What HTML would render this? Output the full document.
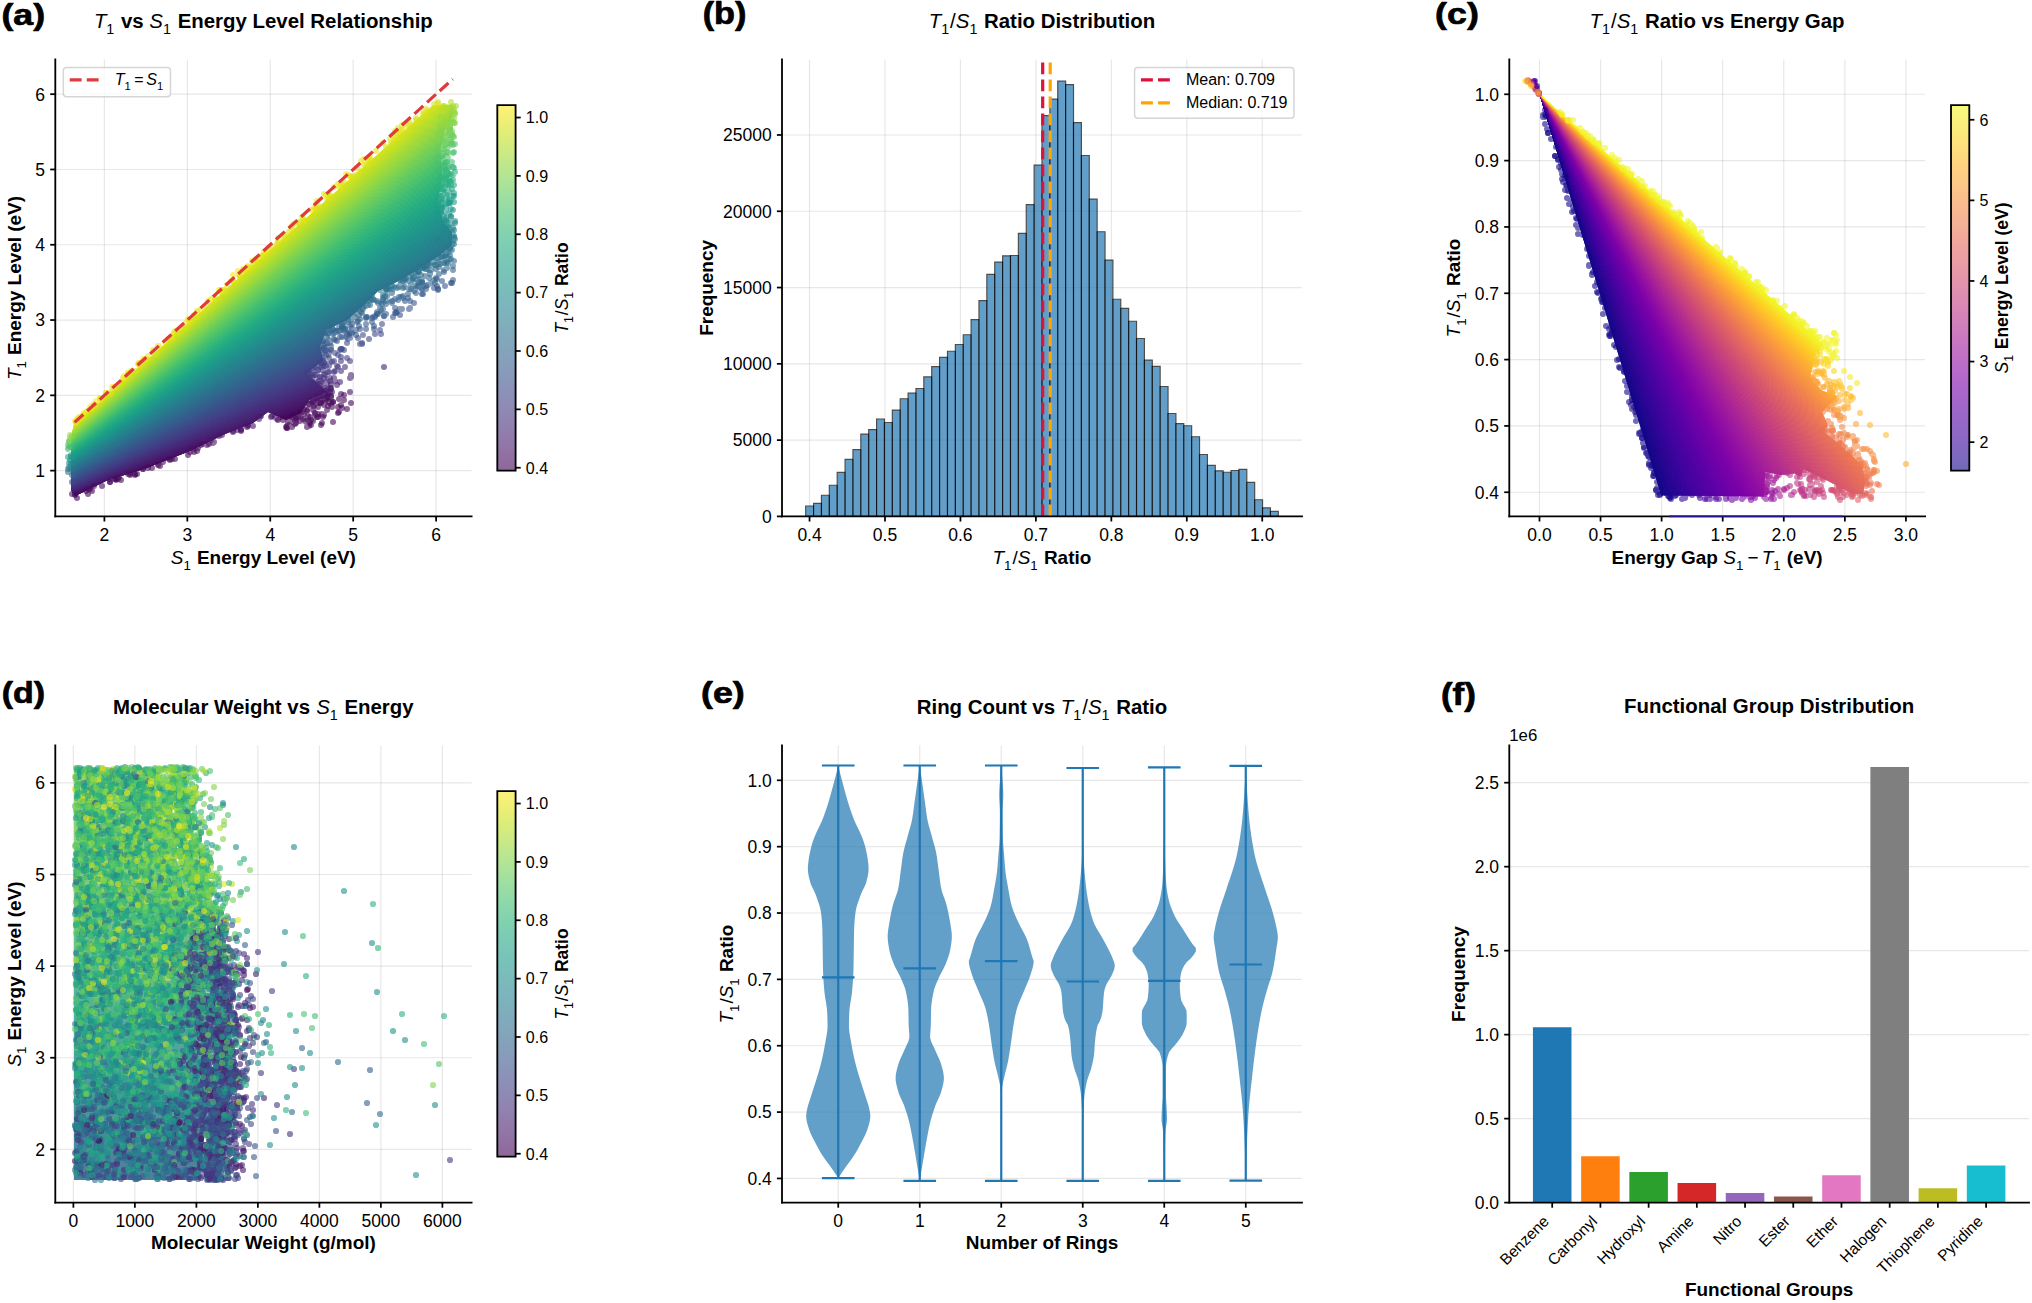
<!DOCTYPE html><html><head><meta charset="utf-8"><title>T1/S1 energy level analysis</title><style>html,body{margin:0;padding:0;background:#fff;overflow:hidden}svg{display:block}</style></head><body> <svg width="2032" height="1303" viewBox="0 0 1393.371429 893.485714" version="1.1"><defs><style type="text/css">*{stroke-linejoin: round}</style></defs><g id="figure_1"><g id="patch_1"><path d="M 0 893.49 L 1393.37 893.49 L 1393.37 0 L 0 0 z " style="fill: #ffffff"/></g><g id="axes_1"><g id="patch_2"><path d="M 37.92 354.1 L 323.38 354.1 L 323.38 40.73 L 37.92 40.73 z " style="fill: #ffffff"/></g><g id="matplotlib.axis_1"><g id="xtick_1"><g id="line2d_1"><path d="M 71.58 354.1 L 71.58 40.73 " clip-path="url(#pece15efcf1)" style="fill: none; stroke: #b0b0b0; stroke-opacity: 0.3; stroke-width: 0.8; stroke-linecap: square"/></g><g id="line2d_2"><defs><path id="me52e4beeaa" d="M 0 0 L 0 3.5 " style="stroke: #000000; stroke-width: 1.2"/></defs><g><use href="#me52e4beeaa" x="71.584146" y="354.102857" style="stroke: #000000; stroke-width: 1.2"/></g></g><g id="text_1"><text style="font-size: 12px; font-family: 'Liberation Sans', sans-serif; text-anchor: middle" x="71.584146" y="370.849107" transform="rotate(-0 71.584146 370.849107)">2</text></g></g><g id="xtick_2"><g id="line2d_3"><path d="M 128.45 354.1 L 128.45 40.73 " clip-path="url(#pece15efcf1)" style="fill: none; stroke: #b0b0b0; stroke-opacity: 0.3; stroke-width: 0.8; stroke-linecap: square"/></g><g id="line2d_4"><g><use href="#me52e4beeaa" x="128.449257" y="354.102857" style="stroke: #000000; stroke-width: 1.2"/></g></g><g id="text_2"><text style="font-size: 12px; font-family: 'Liberation Sans', sans-serif; text-anchor: middle" x="128.449257" y="370.849107" transform="rotate(-0 128.449257 370.849107)">3</text></g></g><g id="xtick_3"><g id="line2d_5"><path d="M 185.31 354.1 L 185.31 40.73 " clip-path="url(#pece15efcf1)" style="fill: none; stroke: #b0b0b0; stroke-opacity: 0.3; stroke-width: 0.8; stroke-linecap: square"/></g><g id="line2d_6"><g><use href="#me52e4beeaa" x="185.314368" y="354.102857" style="stroke: #000000; stroke-width: 1.2"/></g></g><g id="text_3"><text style="font-size: 12px; font-family: 'Liberation Sans', sans-serif; text-anchor: middle" x="185.314368" y="370.849107" transform="rotate(-0 185.314368 370.849107)">4</text></g></g><g id="xtick_4"><g id="line2d_7"><path d="M 242.18 354.1 L 242.18 40.73 " clip-path="url(#pece15efcf1)" style="fill: none; stroke: #b0b0b0; stroke-opacity: 0.3; stroke-width: 0.8; stroke-linecap: square"/></g><g id="line2d_8"><g><use href="#me52e4beeaa" x="242.179479" y="354.102857" style="stroke: #000000; stroke-width: 1.2"/></g></g><g id="text_4"><text style="font-size: 12px; font-family: 'Liberation Sans', sans-serif; text-anchor: middle" x="242.179479" y="370.849107" transform="rotate(-0 242.179479 370.849107)">5</text></g></g><g id="xtick_5"><g id="line2d_9"><path d="M 299.04 354.1 L 299.04 40.73 " clip-path="url(#pece15efcf1)" style="fill: none; stroke: #b0b0b0; stroke-opacity: 0.3; stroke-width: 0.8; stroke-linecap: square"/></g><g id="line2d_10"><g><use href="#me52e4beeaa" x="299.04459" y="354.102857" style="stroke: #000000; stroke-width: 1.2"/></g></g><g id="text_5"><text style="font-size: 12px; font-family: 'Liberation Sans', sans-serif; text-anchor: middle" x="299.04459" y="370.849107" transform="rotate(-0 299.04459 370.849107)">6</text></g></g><g id="text_6"><g transform="translate(117.081429 387.239107)"><text xml:space="preserve"><tspan x="0.00" y="-0.58" style="font-style: italic; font-size: 13px; font-family: 'Liberation Sans', sans-serif">S</tspan><tspan x="8.67" y="3.30" style="font-size: 9.1px; font-family: 'Liberation Sans', sans-serif">1</tspan><tspan x="14.38" y="-0.58" style="font-weight: 700; font-size: 13px; font-family: 'Liberation Sans', sans-serif"> Energy Level (eV)</tspan></text></g></g></g><g id="matplotlib.axis_2"><g id="ytick_1"><g id="line2d_11"><path d="M 37.92 322.71 L 323.38 322.71 " clip-path="url(#pece15efcf1)" style="fill: none; stroke: #b0b0b0; stroke-opacity: 0.3; stroke-width: 0.8; stroke-linecap: square"/></g><g id="line2d_12"><defs><path id="m4d9286fa7c" d="M 0 0 L -3.5 0 " style="stroke: #000000; stroke-width: 1.2"/></defs><g><use href="#m4d9286fa7c" x="37.92" y="322.714088" style="stroke: #000000; stroke-width: 1.2"/></g></g><g id="text_7"><text style="font-size: 12px; font-family: 'Liberation Sans', sans-serif; text-anchor: end" x="30.92" y="327.062213" transform="rotate(-0 30.92 327.062213)">1</text></g></g><g id="ytick_2"><g id="line2d_13"><path d="M 37.92 271.09 L 323.38 271.09 " clip-path="url(#pece15efcf1)" style="fill: none; stroke: #b0b0b0; stroke-opacity: 0.3; stroke-width: 0.8; stroke-linecap: square"/></g><g id="line2d_14"><g><use href="#m4d9286fa7c" x="37.92" y="271.087823" style="stroke: #000000; stroke-width: 1.2"/></g></g><g id="text_8"><text style="font-size: 12px; font-family: 'Liberation Sans', sans-serif; text-anchor: end" x="30.92" y="275.435948" transform="rotate(-0 30.92 275.435948)">2</text></g></g><g id="ytick_3"><g id="line2d_15"><path d="M 37.92 219.46 L 323.38 219.46 " clip-path="url(#pece15efcf1)" style="fill: none; stroke: #b0b0b0; stroke-opacity: 0.3; stroke-width: 0.8; stroke-linecap: square"/></g><g id="line2d_16"><g><use href="#m4d9286fa7c" x="37.92" y="219.461558" style="stroke: #000000; stroke-width: 1.2"/></g></g><g id="text_9"><text style="font-size: 12px; font-family: 'Liberation Sans', sans-serif; text-anchor: end" x="30.92" y="223.809683" transform="rotate(-0 30.92 223.809683)">3</text></g></g><g id="ytick_4"><g id="line2d_17"><path d="M 37.92 167.84 L 323.38 167.84 " clip-path="url(#pece15efcf1)" style="fill: none; stroke: #b0b0b0; stroke-opacity: 0.3; stroke-width: 0.8; stroke-linecap: square"/></g><g id="line2d_18"><g><use href="#m4d9286fa7c" x="37.92" y="167.835293" style="stroke: #000000; stroke-width: 1.2"/></g></g><g id="text_10"><text style="font-size: 12px; font-family: 'Liberation Sans', sans-serif; text-anchor: end" x="30.92" y="172.183418" transform="rotate(-0 30.92 172.183418)">4</text></g></g><g id="ytick_5"><g id="line2d_19"><path d="M 37.92 116.21 L 323.38 116.21 " clip-path="url(#pece15efcf1)" style="fill: none; stroke: #b0b0b0; stroke-opacity: 0.3; stroke-width: 0.8; stroke-linecap: square"/></g><g id="line2d_20"><g><use href="#m4d9286fa7c" x="37.92" y="116.209028" style="stroke: #000000; stroke-width: 1.2"/></g></g><g id="text_11"><text style="font-size: 12px; font-family: 'Liberation Sans', sans-serif; text-anchor: end" x="30.92" y="120.557153" transform="rotate(-0 30.92 120.557153)">5</text></g></g><g id="ytick_6"><g id="line2d_21"><path d="M 37.92 64.58 L 323.38 64.58 " clip-path="url(#pece15efcf1)" style="fill: none; stroke: #b0b0b0; stroke-opacity: 0.3; stroke-width: 0.8; stroke-linecap: square"/></g><g id="line2d_22"><g><use href="#m4d9286fa7c" x="37.92" y="64.582763" style="stroke: #000000; stroke-width: 1.2"/></g></g><g id="text_12"><text style="font-size: 12px; font-family: 'Liberation Sans', sans-serif; text-anchor: end" x="30.92" y="68.930888" transform="rotate(-0 30.92 68.930888)">6</text></g></g><g id="text_13"><g transform="translate(14.846875 260.597143) rotate(-90)"><text xml:space="preserve"><tspan x="0.00" y="-0.58" style="font-style: italic; font-size: 13px; font-family: 'Liberation Sans', sans-serif">T</tspan><tspan x="7.94" y="3.30" style="font-size: 9.1px; font-family: 'Liberation Sans', sans-serif">1</tspan><tspan x="13.65" y="-0.58" style="font-weight: 700; font-size: 13px; font-family: 'Liberation Sans', sans-serif"> Energy Level (eV)</tspan></text></g></g></g><g id="cloud_a"><g transform="scale(0.68571429)"><clipPath id="xa"><rect x="55.30" y="59.40" width="416.30" height="457.00"/></clipPath><g clip-path="url(#xa)"><clipPath id="ka"><path d="M73.7 425.4L88.7 412.1L103.6 398.7L118.6 385.4L133.5 372.1L148.5 358.8L163.4 345.4L178.4 332.1L193.3 318.8L208.3 305.4L223.2 292.1L238.2 278.8L253.1 265.4L268.1 252.1L283 238.8L298 225.5L312.9 212.1L327.9 198.8L342.8 185.5L357.8 172.1L372.7 158.8L387.7 145.5L402.6 132.2L417.6 118.8L432.5 105.5L452.5 104.6L453 116L445 128L440 150L442 175L438 200L443 222L452 232L452 245L440 255L416 271L393 284L378 291L363 306L347 320L326 330L320 347L323 361L306 373L322 387L326 392L309 400L301 413L286 420L268 412L253 423L225 434L190 451L144 469L108 480L75 496L71 490L71 448L72 434Z"/></clipPath><g clip-path="url(#ka)"><path fill="#440154" stroke="#440154" stroke-width="1" d="M-61.5 545.9L1364.3 79.9L1362.8 75.2Z"/><path fill="#440154" stroke="#440154" stroke-width="1" d="M-61.5 545.9L1362.8 75.2L1361.2 70.6Z"/><path fill="#440154" stroke="#440154" stroke-width="1" d="M-61.5 545.9L1361.2 70.6L1359.7 66Z"/><path fill="#440154" stroke="#440154" stroke-width="1" d="M-61.5 545.9L1359.7 66L1358.1 61.3Z"/><path fill="#440154" stroke="#440154" stroke-width="1" d="M-61.5 545.9L1358.1 61.3L1356.5 56.7Z"/><path fill="#440154" stroke="#440154" stroke-width="1" d="M-61.5 545.9L1356.5 56.7L1354.9 52.1Z"/><path fill="#440154" stroke="#440154" stroke-width="1" d="M-61.5 545.9L1354.9 52.1L1353.3 47.5Z"/><path fill="#440154" stroke="#440154" stroke-width="1" d="M-61.5 545.9L1353.3 47.5L1351.7 43Z"/><path fill="#440154" stroke="#440154" stroke-width="1" d="M-61.5 545.9L1351.7 43L1350.1 38.4Z"/><path fill="#440256" stroke="#440256" stroke-width="1" d="M-61.5 545.9L1350.1 38.4L1348.4 33.9Z"/><path fill="#450457" stroke="#450457" stroke-width="1" d="M-61.5 545.9L1348.4 33.9L1346.8 29.4Z"/><path fill="#46075a" stroke="#46075a" stroke-width="1" d="M-61.5 545.9L1346.8 29.4L1345.1 24.9Z"/><path fill="#460a5d" stroke="#460a5d" stroke-width="1" d="M-61.5 545.9L1345.1 24.9L1343.5 20.4Z"/><path fill="#460b5e" stroke="#460b5e" stroke-width="1" d="M-61.5 545.9L1343.5 20.4L1341.8 15.9Z"/><path fill="#470e61" stroke="#470e61" stroke-width="1" d="M-61.5 545.9L1341.8 15.9L1340.1 11.5Z"/><path fill="#471164" stroke="#471164" stroke-width="1" d="M-61.5 545.9L1340.1 11.5L1338.4 7.1Z"/><path fill="#471365" stroke="#471365" stroke-width="1" d="M-61.5 545.9L1338.4 7.1L1336.7 2.6Z"/><path fill="#481668" stroke="#481668" stroke-width="1" d="M-61.5 545.9L1336.7 2.6L1335 -1.8Z"/><path fill="#481769" stroke="#481769" stroke-width="1" d="M-61.5 545.9L1335 -1.8L1333.2 -6.2Z"/><path fill="#481a6c" stroke="#481a6c" stroke-width="1" d="M-61.5 545.9L1333.2 -6.2L1331.5 -10.5Z"/><path fill="#481c6e" stroke="#481c6e" stroke-width="1" d="M-61.5 545.9L1331.5 -10.5L1329.8 -14.9Z"/><path fill="#481d6f" stroke="#481d6f" stroke-width="1" d="M-61.5 545.9L1329.8 -14.9L1328 -19.2Z"/><path fill="#482071" stroke="#482071" stroke-width="1" d="M-61.5 545.9L1328 -19.2L1326.2 -23.5Z"/><path fill="#482374" stroke="#482374" stroke-width="1" d="M-61.5 545.9L1326.2 -23.5L1324.5 -27.8Z"/><path fill="#482475" stroke="#482475" stroke-width="1" d="M-61.5 545.9L1324.5 -27.8L1322.7 -32.1Z"/><path fill="#482677" stroke="#482677" stroke-width="1" d="M-61.5 545.9L1322.7 -32.1L1320.9 -36.4Z"/><path fill="#482979" stroke="#482979" stroke-width="1" d="M-61.5 545.9L1320.9 -36.4L1319.1 -40.7Z"/><path fill="#472a7a" stroke="#472a7a" stroke-width="1" d="M-61.5 545.9L1319.1 -40.7L1317.3 -44.9Z"/><path fill="#472d7b" stroke="#472d7b" stroke-width="1" d="M-61.5 545.9L1317.3 -44.9L1315.5 -49.1Z"/><path fill="#472e7c" stroke="#472e7c" stroke-width="1" d="M-61.5 545.9L1315.5 -49.1L1313.6 -53.3Z"/><path fill="#46307e" stroke="#46307e" stroke-width="1" d="M-61.5 545.9L1313.6 -53.3L1311.8 -57.5Z"/><path fill="#46337f" stroke="#46337f" stroke-width="1" d="M-61.5 545.9L1311.8 -57.5L1310 -61.7Z"/><path fill="#463480" stroke="#463480" stroke-width="1" d="M-61.5 545.9L1310 -61.7L1308.1 -65.8Z"/><path fill="#453781" stroke="#453781" stroke-width="1" d="M-61.5 545.9L1308.1 -65.8L1306.3 -70Z"/><path fill="#443983" stroke="#443983" stroke-width="1" d="M-61.5 545.9L1306.3 -70L1304.4 -74.1Z"/><path fill="#443a83" stroke="#443a83" stroke-width="1" d="M-61.5 545.9L1304.4 -74.1L1302.5 -78.2Z"/><path fill="#433d84" stroke="#433d84" stroke-width="1" d="M-61.5 545.9L1302.5 -78.2L1300.7 -82.3Z"/><path fill="#423f85" stroke="#423f85" stroke-width="1" d="M-61.5 545.9L1300.7 -82.3L1298.8 -86.4Z"/><path fill="#424086" stroke="#424086" stroke-width="1" d="M-61.5 545.9L1298.8 -86.4L1296.9 -90.4Z"/><path fill="#414287" stroke="#414287" stroke-width="1" d="M-61.5 545.9L1296.9 -90.4L1295 -94.5Z"/><path fill="#414487" stroke="#414487" stroke-width="1" d="M-61.5 545.9L1295 -94.5L1293.1 -98.5Z"/><path fill="#404688" stroke="#404688" stroke-width="1" d="M-61.5 545.9L1293.1 -98.5L1291.2 -102.5Z"/><path fill="#3f4889" stroke="#3f4889" stroke-width="1" d="M-61.5 545.9L1291.2 -102.5L1289.2 -106.5Z"/><path fill="#3e4989" stroke="#3e4989" stroke-width="1" d="M-61.5 545.9L1289.2 -106.5L1287.3 -110.4Z"/><path fill="#3e4c8a" stroke="#3e4c8a" stroke-width="1" d="M-61.5 545.9L1287.3 -110.4L1285.4 -114.4Z"/><path fill="#3d4e8a" stroke="#3d4e8a" stroke-width="1" d="M-61.5 545.9L1285.4 -114.4L1283.5 -118.3Z"/><path fill="#3c4f8a" stroke="#3c4f8a" stroke-width="1" d="M-61.5 545.9L1283.5 -118.3L1281.5 -122.2Z"/><path fill="#3b518b" stroke="#3b518b" stroke-width="1" d="M-61.5 545.9L1281.5 -122.2L1279.6 -126.1Z"/><path fill="#3a538b" stroke="#3a538b" stroke-width="1" d="M-61.5 545.9L1279.6 -126.1L1277.6 -130Z"/><path fill="#3a548c" stroke="#3a548c" stroke-width="1" d="M-61.5 545.9L1277.6 -130L1275.7 -133.9Z"/><path fill="#39568c" stroke="#39568c" stroke-width="1" d="M-61.5 545.9L1275.7 -133.9L1273.7 -137.7Z"/><path fill="#38588c" stroke="#38588c" stroke-width="1" d="M-61.5 545.9L1273.7 -137.7L1271.7 -141.6Z"/><path fill="#375a8c" stroke="#375a8c" stroke-width="1" d="M-61.5 545.9L1271.7 -141.6L1269.7 -145.4Z"/><path fill="#365c8d" stroke="#365c8d" stroke-width="1" d="M-61.5 545.9L1269.7 -145.4L1267.8 -149.2Z"/><path fill="#365d8d" stroke="#365d8d" stroke-width="1" d="M-61.5 545.9L1267.8 -149.2L1265.8 -153Z"/><path fill="#355f8d" stroke="#355f8d" stroke-width="1" d="M-61.5 545.9L1265.8 -153L1263.8 -156.7Z"/><path fill="#34618d" stroke="#34618d" stroke-width="1" d="M-61.5 545.9L1263.8 -156.7L1261.8 -160.5Z"/><path fill="#33628d" stroke="#33628d" stroke-width="1" d="M-61.5 545.9L1261.8 -160.5L1259.8 -164.2Z"/><path fill="#32648e" stroke="#32648e" stroke-width="1" d="M-61.5 545.9L1259.8 -164.2L1257.8 -167.9Z"/><path fill="#31668e" stroke="#31668e" stroke-width="1" d="M-61.5 545.9L1257.8 -167.9L1255.8 -171.6Z"/><path fill="#31678e" stroke="#31678e" stroke-width="1" d="M-61.5 545.9L1255.8 -171.6L1253.8 -175.3Z"/><path fill="#30698e" stroke="#30698e" stroke-width="1" d="M-61.5 545.9L1253.8 -175.3L1251.8 -179Z"/><path fill="#306a8e" stroke="#306a8e" stroke-width="1" d="M-61.5 545.9L1251.8 -179L1249.7 -182.6Z"/><path fill="#2f6c8e" stroke="#2f6c8e" stroke-width="1" d="M-61.5 545.9L1249.7 -182.6L1247.7 -186.2Z"/><path fill="#2e6e8e" stroke="#2e6e8e" stroke-width="1" d="M-61.5 545.9L1247.7 -186.2L1245.7 -189.9Z"/><path fill="#2e6f8e" stroke="#2e6f8e" stroke-width="1" d="M-61.5 545.9L1245.7 -189.9L1243.7 -193.5Z"/><path fill="#2d718e" stroke="#2d718e" stroke-width="1" d="M-61.5 545.9L1243.7 -193.5L1241.6 -197Z"/><path fill="#2c728e" stroke="#2c728e" stroke-width="1" d="M-61.5 545.9L1241.6 -197L1239.6 -200.6Z"/><path fill="#2c738e" stroke="#2c738e" stroke-width="1" d="M-61.5 545.9L1239.6 -200.6L1237.5 -204.1Z"/><path fill="#2b758e" stroke="#2b758e" stroke-width="1" d="M-61.5 545.9L1237.5 -204.1L1235.5 -207.7Z"/><path fill="#2a768e" stroke="#2a768e" stroke-width="1" d="M-61.5 545.9L1235.5 -207.7L1233.5 -211.2Z"/><path fill="#2a788e" stroke="#2a788e" stroke-width="1" d="M-61.5 545.9L1233.5 -211.2L1231.4 -214.7Z"/><path fill="#297a8e" stroke="#297a8e" stroke-width="1" d="M-61.5 545.9L1231.4 -214.7L1229.3 -218.2Z"/><path fill="#297b8e" stroke="#297b8e" stroke-width="1" d="M-61.5 545.9L1229.3 -218.2L1227.3 -221.6Z"/><path fill="#287d8e" stroke="#287d8e" stroke-width="1" d="M-61.5 545.9L1227.3 -221.6L1225.2 -225.1Z"/><path fill="#277f8e" stroke="#277f8e" stroke-width="1" d="M-61.5 545.9L1225.2 -225.1L1223.2 -228.5Z"/><path fill="#27808e" stroke="#27808e" stroke-width="1" d="M-61.5 545.9L1223.2 -228.5L1221.1 -231.9Z"/><path fill="#26828e" stroke="#26828e" stroke-width="1" d="M-61.5 545.9L1221.1 -231.9L1219 -235.3Z"/><path fill="#25838e" stroke="#25838e" stroke-width="1" d="M-61.5 545.9L1219 -235.3L1217 -238.7Z"/><path fill="#25848e" stroke="#25848e" stroke-width="1" d="M-61.5 545.9L1217 -238.7L1214.9 -242.1Z"/><path fill="#24868e" stroke="#24868e" stroke-width="1" d="M-61.5 545.9L1214.9 -242.1L1212.8 -245.4Z"/><path fill="#24878e" stroke="#24878e" stroke-width="1" d="M-61.5 545.9L1212.8 -245.4L1210.8 -248.7Z"/><path fill="#23898e" stroke="#23898e" stroke-width="1" d="M-61.5 545.9L1210.8 -248.7L1208.7 -252Z"/><path fill="#228b8d" stroke="#228b8d" stroke-width="1" d="M-61.5 545.9L1208.7 -252L1206.6 -255.3Z"/><path fill="#228c8d" stroke="#228c8d" stroke-width="1" d="M-61.5 545.9L1206.6 -255.3L1204.5 -258.6Z"/><path fill="#218e8d" stroke="#218e8d" stroke-width="1" d="M-61.5 545.9L1204.5 -258.6L1202.4 -261.9Z"/><path fill="#21908d" stroke="#21908d" stroke-width="1" d="M-61.5 545.9L1202.4 -261.9L1200.4 -265.1Z"/><path fill="#21918c" stroke="#21918c" stroke-width="1" d="M-61.5 545.9L1200.4 -265.1L1198.3 -268.4Z"/><path fill="#20928c" stroke="#20928c" stroke-width="1" d="M-61.5 545.9L1198.3 -268.4L1196.2 -271.6Z"/><path fill="#1f948c" stroke="#1f948c" stroke-width="1" d="M-61.5 545.9L1196.2 -271.6L1194.1 -274.8Z"/><path fill="#1f958b" stroke="#1f958b" stroke-width="1" d="M-61.5 545.9L1194.1 -274.8L1192 -278Z"/><path fill="#1f978b" stroke="#1f978b" stroke-width="1" d="M-61.5 545.9L1192 -278L1189.9 -281.2Z"/><path fill="#1f988b" stroke="#1f988b" stroke-width="1" d="M-61.5 545.9L1189.9 -281.2L1187.8 -284.3Z"/><path fill="#1f9a8a" stroke="#1f9a8a" stroke-width="1" d="M-61.5 545.9L1187.8 -284.3L1185.7 -287.5Z"/><path fill="#1e9c89" stroke="#1e9c89" stroke-width="1" d="M-61.5 545.9L1185.7 -287.5L1183.6 -290.6Z"/><path fill="#1e9d89" stroke="#1e9d89" stroke-width="1" d="M-61.5 545.9L1183.6 -290.6L1181.5 -293.7Z"/><path fill="#1f9f88" stroke="#1f9f88" stroke-width="1" d="M-61.5 545.9L1181.5 -293.7L1179.5 -296.8Z"/><path fill="#1fa188" stroke="#1fa188" stroke-width="1" d="M-61.5 545.9L1179.5 -296.8L1177.4 -299.9Z"/><path fill="#1fa187" stroke="#1fa187" stroke-width="1" d="M-61.5 545.9L1177.4 -299.9L1175.3 -302.9Z"/><path fill="#20a386" stroke="#20a386" stroke-width="1" d="M-61.5 545.9L1175.3 -302.9L1173.2 -306Z"/><path fill="#21a585" stroke="#21a585" stroke-width="1" d="M-61.5 545.9L1173.2 -306L1171.1 -309Z"/><path fill="#21a685" stroke="#21a685" stroke-width="1" d="M-61.5 545.9L1171.1 -309L1169 -312Z"/><path fill="#22a884" stroke="#22a884" stroke-width="1" d="M-61.5 545.9L1169 -312L1166.9 -315Z"/><path fill="#23a983" stroke="#23a983" stroke-width="1" d="M-61.5 545.9L1166.9 -315L1164.8 -318Z"/><path fill="#25ab82" stroke="#25ab82" stroke-width="1" d="M-61.5 545.9L1164.8 -318L1162.7 -321Z"/><path fill="#26ad81" stroke="#26ad81" stroke-width="1" d="M-61.5 545.9L1162.7 -321L1160.6 -323.9Z"/><path fill="#27ad81" stroke="#27ad81" stroke-width="1" d="M-61.5 545.9L1160.6 -323.9L1158.5 -326.8Z"/><path fill="#29af7f" stroke="#29af7f" stroke-width="1" d="M-61.5 545.9L1158.5 -326.8L1156.4 -329.8Z"/><path fill="#2cb17e" stroke="#2cb17e" stroke-width="1" d="M-61.5 545.9L1156.4 -329.8L1154.3 -332.7Z"/><path fill="#2db27d" stroke="#2db27d" stroke-width="1" d="M-61.5 545.9L1154.3 -332.7L1152.2 -335.6Z"/><path fill="#2fb47c" stroke="#2fb47c" stroke-width="1" d="M-61.5 545.9L1152.2 -335.6L1150.1 -338.4Z"/><path fill="#32b67a" stroke="#32b67a" stroke-width="1" d="M-61.5 545.9L1150.1 -338.4L1148 -341.3Z"/><path fill="#34b679" stroke="#34b679" stroke-width="1" d="M-61.5 545.9L1148 -341.3L1145.9 -344.2Z"/><path fill="#37b878" stroke="#37b878" stroke-width="1" d="M-61.5 545.9L1145.9 -344.2L1143.8 -347Z"/><path fill="#38b977" stroke="#38b977" stroke-width="1" d="M-61.5 545.9L1143.8 -347L1141.7 -349.8Z"/><path fill="#3bbb75" stroke="#3bbb75" stroke-width="1" d="M-61.5 545.9L1141.7 -349.8L1139.6 -352.6Z"/><path fill="#3fbc73" stroke="#3fbc73" stroke-width="1" d="M-61.5 545.9L1139.6 -352.6L1137.5 -355.4Z"/><path fill="#40bd72" stroke="#40bd72" stroke-width="1" d="M-61.5 545.9L1137.5 -355.4L1135.5 -358.2Z"/><path fill="#44bf70" stroke="#44bf70" stroke-width="1" d="M-61.5 545.9L1135.5 -358.2L1133.4 -360.9Z"/><path fill="#48c16e" stroke="#48c16e" stroke-width="1" d="M-61.5 545.9L1133.4 -360.9L1131.3 -363.7Z"/><path fill="#4ac16d" stroke="#4ac16d" stroke-width="1" d="M-61.5 545.9L1131.3 -363.7L1129.2 -366.4Z"/><path fill="#4ec36b" stroke="#4ec36b" stroke-width="1" d="M-61.5 545.9L1129.2 -366.4L1127.1 -369.1Z"/><path fill="#50c46a" stroke="#50c46a" stroke-width="1" d="M-61.5 545.9L1127.1 -369.1L1125 -371.8Z"/><path fill="#54c568" stroke="#54c568" stroke-width="1" d="M-61.5 545.9L1125 -371.8L1122.9 -374.5Z"/><path fill="#58c765" stroke="#58c765" stroke-width="1" d="M-61.5 545.9L1122.9 -374.5L1120.8 -377.2Z"/><path fill="#5ac864" stroke="#5ac864" stroke-width="1" d="M-61.5 545.9L1120.8 -377.2L1118.8 -379.9Z"/><path fill="#5ec962" stroke="#5ec962" stroke-width="1" d="M-61.5 545.9L1118.8 -379.9L1116.7 -382.5Z"/><path fill="#63cb5f" stroke="#63cb5f" stroke-width="1" d="M-61.5 545.9L1116.7 -382.5L1114.6 -385.1Z"/><path fill="#65cb5e" stroke="#65cb5e" stroke-width="1" d="M-61.5 545.9L1114.6 -385.1L1112.5 -387.8Z"/><path fill="#69cd5b" stroke="#69cd5b" stroke-width="1" d="M-61.5 545.9L1112.5 -387.8L1110.5 -390.4Z"/><path fill="#6ece58" stroke="#6ece58" stroke-width="1" d="M-61.5 545.9L1110.5 -390.4L1108.4 -393Z"/><path fill="#70cf57" stroke="#70cf57" stroke-width="1" d="M-61.5 545.9L1108.4 -393L1106.3 -395.5Z"/><path fill="#75d054" stroke="#75d054" stroke-width="1" d="M-61.5 545.9L1106.3 -395.5L1104.2 -398.1Z"/><path fill="#77d153" stroke="#77d153" stroke-width="1" d="M-61.5 545.9L1104.2 -398.1L1102.2 -400.6Z"/><path fill="#7cd250" stroke="#7cd250" stroke-width="1" d="M-61.5 545.9L1102.2 -400.6L1100.1 -403.2Z"/><path fill="#81d34d" stroke="#81d34d" stroke-width="1" d="M-61.5 545.9L1100.1 -403.2L1098 -405.7Z"/><path fill="#84d44b" stroke="#84d44b" stroke-width="1" d="M-61.5 545.9L1098 -405.7L1096 -408.2Z"/><path fill="#89d548" stroke="#89d548" stroke-width="1" d="M-61.5 545.9L1096 -408.2L1093.9 -410.7Z"/><path fill="#8ed645" stroke="#8ed645" stroke-width="1" d="M-61.5 545.9L1093.9 -410.7L1091.8 -413.2Z"/><path fill="#90d743" stroke="#90d743" stroke-width="1" d="M-61.5 545.9L1091.8 -413.2L1089.8 -415.7Z"/><path fill="#95d840" stroke="#95d840" stroke-width="1" d="M-61.5 545.9L1089.8 -415.7L1087.7 -418.1Z"/><path fill="#9bd93c" stroke="#9bd93c" stroke-width="1" d="M-61.5 545.9L1087.7 -418.1L1085.7 -420.6Z"/><path fill="#9dd93b" stroke="#9dd93b" stroke-width="1" d="M-61.5 545.9L1085.7 -420.6L1083.6 -423Z"/><path fill="#a2da37" stroke="#a2da37" stroke-width="1" d="M-61.5 545.9L1083.6 -423L1081.6 -425.4Z"/><path fill="#a5db36" stroke="#a5db36" stroke-width="1" d="M-61.5 545.9L1081.6 -425.4L1079.5 -427.8Z"/><path fill="#aadc32" stroke="#aadc32" stroke-width="1" d="M-61.5 545.9L1079.5 -427.8L1077.5 -430.2Z"/><path fill="#b0dd2f" stroke="#b0dd2f" stroke-width="1" d="M-61.5 545.9L1077.5 -430.2L1075.4 -432.6Z"/><path fill="#b2dd2d" stroke="#b2dd2d" stroke-width="1" d="M-61.5 545.9L1075.4 -432.6L1073.4 -434.9Z"/><path fill="#b8de29" stroke="#b8de29" stroke-width="1" d="M-61.5 545.9L1073.4 -434.9L1071.4 -437.3Z"/><path fill="#bddf26" stroke="#bddf26" stroke-width="1" d="M-61.5 545.9L1071.4 -437.3L1069.3 -439.6Z"/><path fill="#c0df25" stroke="#c0df25" stroke-width="1" d="M-61.5 545.9L1069.3 -439.6L1067.3 -442Z"/><path fill="#c5e021" stroke="#c5e021" stroke-width="1" d="M-61.5 545.9L1067.3 -442L1065.3 -444.3Z"/><path fill="#cae11f" stroke="#cae11f" stroke-width="1" d="M-61.5 545.9L1065.3 -444.3L1063.2 -446.6Z"/><path fill="#cde11d" stroke="#cde11d" stroke-width="1" d="M-61.5 545.9L1063.2 -446.6L1061.2 -448.9Z"/><path fill="#d2e21b" stroke="#d2e21b" stroke-width="1" d="M-61.5 545.9L1061.2 -448.9L1059.2 -451.1Z"/><path fill="#d5e21a" stroke="#d5e21a" stroke-width="1" d="M-61.5 545.9L1059.2 -451.1L1057.2 -453.4Z"/><path fill="#dae319" stroke="#dae319" stroke-width="1" d="M-61.5 545.9L1057.2 -453.4L1055.2 -455.7Z"/><path fill="#dfe318" stroke="#dfe318" stroke-width="1" d="M-61.5 545.9L1055.2 -455.7L1053.1 -457.9Z"/><path fill="#e2e418" stroke="#e2e418" stroke-width="1" d="M-61.5 545.9L1053.1 -457.9L1051.1 -460.1Z"/><path fill="#e7e419" stroke="#e7e419" stroke-width="1" d="M-61.5 545.9L1051.1 -460.1L1049.1 -462.4Z"/><path fill="#ece51b" stroke="#ece51b" stroke-width="1" d="M-61.5 545.9L1049.1 -462.4L1047.1 -464.6Z"/><path fill="#efe51c" stroke="#efe51c" stroke-width="1" d="M-61.5 545.9L1047.1 -464.6L1045.1 -466.8Z"/><path fill="#f4e61e" stroke="#f4e61e" stroke-width="1" d="M-61.5 545.9L1045.1 -466.8L1043.1 -468.9Z"/><path fill="#f8e621" stroke="#f8e621" stroke-width="1" d="M-61.5 545.9L1043.1 -468.9L1041.1 -471.1Z"/><path fill="#fbe723" stroke="#fbe723" stroke-width="1" d="M-61.5 545.9L1041.1 -471.1L1039.1 -473.3Z"/><path fill="#fde725" stroke="#fde725" stroke-width="1" d="M-61.5 545.9L1039.1 -473.3L1037.1 -475.4Z"/><path fill="#fde725" stroke="#fde725" stroke-width="1" d="M-61.5 545.9L1037.1 -475.4L1035.1 -477.5Z"/><path fill="#fde725" stroke="#fde725" stroke-width="1" d="M-61.5 545.9L1035.1 -477.5L1033.2 -479.7Z"/><path fill="#fde725" stroke="#fde725" stroke-width="1" d="M-61.5 545.9L1033.2 -479.7L1031.2 -481.8Z"/><path fill="#fde725" stroke="#fde725" stroke-width="1" d="M-61.5 545.9L1031.2 -481.8L1029.2 -483.9Z"/><path fill="#fde725" stroke="#fde725" stroke-width="1" d="M-61.5 545.9L1029.2 -483.9L1027.2 -486Z"/><path fill="#fde725" stroke="#fde725" stroke-width="1" d="M-61.5 545.9L1027.2 -486L1025.2 -488Z"/><path fill="#fde725" stroke="#fde725" stroke-width="1" d="M-61.5 545.9L1025.2 -488L1023.3 -490.1Z"/><path fill="#fde725" stroke="#fde725" stroke-width="1" d="M-61.5 545.9L1023.3 -490.1L1021.3 -492.2Z"/><path fill="#fde725" stroke="#fde725" stroke-width="1" d="M-61.5 545.9L1021.3 -492.2L1019.4 -494.2Z"/><path fill="#fde725" stroke="#fde725" stroke-width="1" d="M-61.5 545.9L1019.4 -494.2L1017.4 -496.2Z"/><path fill="#fde725" stroke="#fde725" stroke-width="1" d="M-61.5 545.9L1017.4 -496.2L1015.4 -498.3Z"/></g><g style="fill:none;stroke-width:6;stroke-linecap:round;stroke-opacity:0.6"><path stroke="#450559" d="M307 410h0M304 414h0M296 416h0M300 421h0M287 428h0M296 418h0M301 419h0M294 416h0M309 423h0M305 421h0M333 402h0M311 420h0M307 427h0M317 417h0M308 424h0M315 413h0M306 422h0M318 407h0M339 399h0M307 421h0M309 426h0M328 406h0M333 422h0M347 409h0M322 414h0M322 423h0M324 415h0M341 405h0M344 400h0M299 417h0M86 491h0M77 498h0M135 475h0M194 452h0M288 422h0M300 414h0M292 417h0M148 468h0M290 419h0M175 459h0"/><path stroke="#470e61" d="M322 400h0M322 399h0M320 403h0M313 402h0M327 397h0M317 400h0M313 402h0M318 399h0M319 401h0M331 397h0M341 394h0M89 489h0M110 482h0M90 489h0M241 431h0M115 479h0M75 494h0M163 462h0M193 449h0M315 401h0M172 459h0M201 445h0M190 452h0M143 469h0"/><path stroke="#48186a" d="M328 394h0M330 392h0M322 396h0M272 416h0M219 436h0M237 430h0M110 479h0M248 425h0"/><path stroke="#482071" d="M325 388h0M337 385h0M331 384h0M327 389h0M261 416h0M323 389h0M384 367h0"/><path stroke="#482878" d="M321 383h0M335 381h0M334 378h0"/><path stroke="#46307e" d="M324 379h0M324 378h0M335 371h0M341 371h0M345 367h0M316 382h0"/><path stroke="#453882" d="M315 375h0M323 370h0M337 366h0M310 377h0"/><path stroke="#424086" d="M318 370h0M308 375h0M323 365h0M332 362h0M347 358h0M322 365h0M316 370h0M306 373h0M309 372h0"/><path stroke="#3f4788" d="M369 339h0M344 350h0M362 343h0M321 363h0M72 482h0M308 371h0M324 363h0M311 370h0"/><path stroke="#3d4e8a" d="M326 355h0M335 353h0M341 349h0M323 357h0M331 350h0"/><path stroke="#39558c" d="M327 347h0M324 349h0M337 341h0M348 339h0M349 338h0M331 349h0M350 338h0M331 346h0M409 309h0M396 312h0M452 283h0M410 308h0M438 289h0M395 313h0M366 329h0"/><path stroke="#365c8d" d="M334 339h0M372 322h0M373 317h0M347 334h0M375 316h0M410 301h0M453 280h0M405 301h0M434 288h0M384 316h0"/><path stroke="#33638d" d="M336 331h0M323 341h0M334 333h0M350 326h0M345 328h0M427 285h0M395 299h0M344 331h0M383 309h0M357 322h0M391 302h0M381 311h0M428 285h0M386 304h0M366 318h0M392 303h0M434 280h0M434 280h0M399 297h0M431 283h0M416 293h0M453 270h0M72 475h0"/><path stroke="#30698e" d="M362 313h0M341 326h0M325 333h0M330 330h0M419 282h0M453 266h0M430 273h0M444 270h0M382 304h0M386 301h0M411 289h0M403 288h0M386 301h0M430 274h0M439 267h0M454 261h0M447 268h0M342 325h0M339 327h0"/><path stroke="#2e6f8e" d="M435 265h0M385 296h0M425 268h0M414 277h0M439 262h0M370 305h0M408 281h0M427 269h0M413 279h0M438 264h0M414 277h0M451 259h0M444 263h0M389 289h0M371 299h0M394 287h0M419 272h0M373 299h0"/><path stroke="#2b758e" d="M423 268h0M423 267h0M386 289h0M445 256h0M450 249h0M436 258h0M400 280h0M367 301h0M71 469h0M426 266h0M440 257h0M438 258h0M446 254h0M404 278h0M415 272h0M380 290h0M388 288h0M372 295h0"/><path stroke="#26828e" d="M69 467h0"/><path stroke="#24878e" d="M455 223h0M449 227h0M447 232h0"/><path stroke="#228d8d" d="M451 223h0M450 221h0M453 222h0M455 221h0M445 223h0M438 232h0M448 225h0M451 217h0M442 227h0M442 229h0"/><path stroke="#20938c" d="M446 220h0M70 460h0M453 210h0M437 225h0"/><path stroke="#1f998a" d="M446 210h0M441 209h0M443 211h0M438 212h0M439 214h0M440 213h0M440 211h0M446 207h0"/><path stroke="#1fa088" d="M442 207h0M448 202h0M448 203h0M71 455h0M440 210h0M454 196h0M437 205h0M438 205h0"/><path stroke="#21a585" d="M440 197h0M452 189h0M438 203h0M441 196h0M438 200h0M439 197h0"/><path stroke="#25ab82" d="M442 191h0M453 184h0M441 192h0M441 192h0M454 185h0M449 186h0M453 180h0"/><path stroke="#2cb17e" d="M446 177h0M451 174h0M443 179h0M444 179h0M446 179h0M442 185h0M447 181h0"/><path stroke="#34b679" d="M446 172h0M447 172h0M449 174h0M442 177h0M439 180h0M442 177h0M445 176h0M446 174h0"/><path stroke="#3fbc73" d="M447 165h0M448 167h0M443 166h0M452 162h0"/><path stroke="#4ac16d" d="M453 153h0"/><path stroke="#56c667" d="M447 148h0M448 153h0M442 156h0M448 152h0M453 145h0M452 143h0M452 145h0M68 445h0M69 444h0M448 147h0M438 157h0"/><path stroke="#65cb5e" d="M445 145h0M454 137h0M69 442h0M439 152h0"/><path stroke="#73d056" d="M450 135h0M452 131h0M443 140h0M452 134h0M452 132h0M443 142h0M450 133h0"/><path stroke="#84d44b" d="M450 127h0M445 128h0M70 438h0M450 123h0M446 130h0M438 139h0M454 123h0M444 132h0"/><path stroke="#93d741" d="M452 119h0"/><path stroke="#a2da37" d="M453 106h0M451 113h0M441 117h0M444 117h0"/><path stroke="#b5de2b" d="M442 110h0M444 111h0"/><path stroke="#c5e021" d="M443 106h0"/><path stroke="#d8e219" d="M427 111h0M265 254h0M409 125h0M303 218h0M434 104h0M423 114h0M370 161h0M240 276h0M215 299h0M351 177h0M190 322h0M394 140h0M142 364h0M274 247h0M277 244h0M290 232h0M178 332h0M289 232h0M185 328h0M197 317h0M193 318h0M272 247h0M116 387h0M399 133h0M194 317h0M83 416h0M329 198h0M172 338h0M316 209h0M263 256h0M245 271h0M140 366h0M116 387h0"/><path stroke="#e7e419" d="M168 339h0M174 333h0M244 270h0M102 398h0M221 292h0M316 207h0M106 393h0M131 371h0M302 217h0M148 356h0M239 275h0M197 311h0M296 223h0M227 285h0M248 266h0M256 259h0M158 346h0M393 136h0M94 404h0M139 363h0M370 157h0M398 128h0M221 292h0M159 346h0M146 359h0M324 194h0M334 187h0M194 315h0M153 350h0M243 269h0M227 286h0M233 281h0"/><path stroke="#f6e620" d="M139 363h0M75 421h0M128 373h0M100 398h0M238 271h0"/><path stroke="#450559" d="M296 419h0M295 424h0M303 419h0M314 406h0M286 427h0M294 423h0M315 415h0M313 421h0M313 410h0M318 414h0M331 405h0M324 405h0M325 403h0M332 407h0M316 414h0M310 417h0M333 402h0M324 403h0M311 425h0M338 413h0M338 407h0M323 417h0M92 491h0M137 474h0M159 465h0M102 486h0M152 468h0M118 479h0M160 466h0M130 475h0M188 455h0M278 420h0"/><path stroke="#470e61" d="M318 401h0M328 395h0M321 400h0M319 403h0M322 401h0M313 406h0M309 405h0M327 398h0M344 395h0M277 419h0M310 404h0M119 477h0M169 459h0M281 417h0M241 430h0M275 417h0M276 418h0M198 448h0M209 444h0M116 479h0M130 473h0"/><path stroke="#48186a" d="M332 392h0M312 401h0M317 398h0M318 396h0M323 394h0M310 400h0M241 429h0M325 395h0M324 393h0M248 426h0M271 417h0"/><path stroke="#482071" d="M326 390h0M330 388h0M350 378h0M351 375h0M327 390h0M351 377h0"/><path stroke="#482878" d="M321 386h0M319 384h0M327 384h0M328 379h0M330 378h0"/><path stroke="#46307e" d="M322 381h0M319 381h0M325 375h0M334 372h0"/><path stroke="#453882" d="M319 377h0M328 372h0M314 375h0"/><path stroke="#424086" d="M321 367h0M326 366h0M312 374h0M334 361h0M341 357h0M307 373h0M310 371h0M323 366h0"/><path stroke="#3f4788" d="M329 358h0M323 360h0M362 344h0M320 363h0M381 334h0M360 344h0"/><path stroke="#3d4e8a" d="M323 354h0M328 355h0M329 353h0M358 338h0M374 329h0M341 349h0M400 315h0"/><path stroke="#39558c" d="M323 348h0M326 350h0M325 350h0M349 335h0M346 337h0M396 313h0M445 286h0M374 326h0"/><path stroke="#365c8d" d="M329 340h0M324 346h0M326 343h0M352 333h0M372 318h0M366 324h0M342 337h0M330 343h0M335 340h0M359 326h0M349 332h0M442 281h0M408 298h0M423 294h0M437 286h0M378 314h0"/><path stroke="#33638d" d="M339 331h0M338 332h0M342 328h0M344 329h0M333 334h0M336 331h0M403 296h0M422 289h0M439 274h0M366 317h0M408 294h0M358 321h0M418 286h0M377 314h0M422 283h0M437 279h0M426 286h0"/><path stroke="#30698e" d="M328 331h0M361 312h0M328 334h0M342 327h0M392 293h0M342 323h0M377 301h0M387 296h0M418 282h0M419 279h0M422 281h0M448 263h0M383 298h0M381 302h0M327 331h0M355 317h0M360 311h0M333 329h0M349 320h0M344 322h0M351 320h0M330 331h0M352 317h0"/><path stroke="#2e6f8e" d="M450 255h0M413 280h0M431 270h0M425 269h0M401 283h0M418 272h0M429 270h0M383 295h0M399 287h0M368 305h0M399 286h0M426 269h0M374 300h0M366 306h0M447 262h0M403 282h0M373 300h0M68 472h0"/><path stroke="#2b758e" d="M446 252h0M424 267h0M448 253h0M409 276h0M440 257h0M418 271h0M452 250h0M420 269h0M446 255h0M447 249h0M418 271h0M441 257h0M428 264h0M446 253h0M386 290h0M428 263h0M405 279h0"/><path stroke="#297b8e" d="M454 238h0M453 240h0"/><path stroke="#26828e" d="M72 464h0M453 234h0M454 236h0M437 240h0M452 232h0M451 233h0M451 233h0"/><path stroke="#24878e" d="M453 228h0M448 228h0M71 464h0"/><path stroke="#228d8d" d="M446 222h0M69 463h0M444 223h0M447 222h0"/><path stroke="#20938c" d="M449 214h0M446 218h0M447 216h0M443 219h0M438 219h0"/><path stroke="#1f998a" d="M441 213h0M451 209h0M72 457h0M438 216h0M450 203h0"/><path stroke="#1fa088" d="M442 205h0M442 202h0M446 204h0M449 202h0M449 199h0M453 196h0M438 206h0"/><path stroke="#21a585" d="M441 199h0M445 198h0M439 198h0M68 457h0M447 195h0"/><path stroke="#25ab82" d="M444 190h0M445 187h0M450 182h0M451 184h0M451 182h0M441 189h0M443 188h0"/><path stroke="#2cb17e" d="M445 180h0M440 187h0M442 184h0"/><path stroke="#34b679" d="M448 168h0M446 170h0M447 174h0M454 168h0M452 167h0M442 177h0M445 176h0M448 173h0M447 175h0"/><path stroke="#3fbc73" d="M444 168h0M446 162h0M445 164h0M442 171h0M444 169h0M68 449h0"/><path stroke="#4ac16d" d="M454 152h0M444 163h0"/><path stroke="#56c667" d="M443 156h0M441 155h0M451 144h0M440 157h0M441 157h0M443 153h0"/><path stroke="#65cb5e" d="M440 151h0M441 150h0M443 144h0M447 144h0M451 141h0M442 148h0M440 149h0M444 143h0M441 148h0M444 144h0"/><path stroke="#73d056" d="M445 138h0M447 137h0M450 130h0M69 441h0M449 134h0M450 134h0"/><path stroke="#84d44b" d="M451 123h0M455 123h0M447 127h0M440 131h0M450 127h0"/><path stroke="#93d741" d="M455 113h0M454 118h0M453 116h0M448 123h0M455 113h0M452 115h0M440 125h0M451 119h0"/><path stroke="#a2da37" d="M454 109h0M454 112h0M453 110h0M70 435h0"/><path stroke="#b5de2b" d="M444 106h0"/><path stroke="#c5e021" d="M123 383h0"/><path stroke="#d8e219" d="M304 221h0M367 164h0M344 182h0M424 112h0M330 195h0M264 255h0M340 185h0M424 111h0M341 185h0M191 322h0M267 252h0M319 206h0M386 147h0M299 222h0M225 291h0M399 137h0M341 188h0M95 405h0M257 262h0M225 291h0M416 120h0M136 371h0M240 277h0M438 102h0M317 208h0M169 339h0M110 394h0M319 206h0M426 109h0M207 306h0M155 354h0M352 177h0M128 376h0M157 352h0M251 267h0M125 379h0M299 223h0M76 423h0M78 421h0M356 175h0M344 182h0M208 305h0"/><path stroke="#e7e419" d="M188 319h0M327 195h0M83 415h0M146 359h0M256 260h0M138 364h0M246 269h0M87 411h0M165 342h0M266 251h0M186 323h0M247 267h0M396 133h0M292 228h0M364 159h0M311 210h0M395 131h0M326 195h0M402 125h0M317 201h0M208 301h0M80 419h0M348 175h0M221 290h0M175 331h0M174 333h0M390 139h0"/><path stroke="#f6e620" d="M91 406h0M100 398h0M79 417h0M96 401h0M90 407h0M143 359h0M219 290h0M112 387h0M233 275h0"/><path stroke="#450559" d="M292 417h0M298 417h0M289 425h0M287 426h0M296 423h0M307 411h0M308 416h0M295 420h0M287 428h0M328 401h0M292 427h0M308 420h0M331 403h0M310 423h0M318 417h0M327 410h0M321 425h0M351 403h0M342 408h0M339 412h0M135 474h0M283 419h0M88 494h0M300 413h0M116 480h0M158 465h0M197 451h0M302 412h0M170 460h0M121 480h0M292 417h0M283 420h0M75 495h0"/><path stroke="#470e61" d="M313 401h0M304 409h0M331 396h0M328 396h0M328 399h0M321 403h0M309 404h0M350 392h0M110 482h0M214 442h0M89 489h0M213 443h0M203 444h0M253 426h0M130 474h0M207 445h0M247 427h0M233 432h0M128 474h0M143 469h0M94 486h0"/><path stroke="#48186a" d="M323 396h0M331 389h0M317 398h0M317 397h0M326 391h0M211 440h0M233 431h0M72 494h0M260 417h0M222 435h0M259 419h0"/><path stroke="#482071" d="M331 388h0M340 382h0"/><path stroke="#482878" d="M330 381h0"/><path stroke="#46307e" d="M320 377h0"/><path stroke="#453882" d="M313 377h0M329 372h0M324 374h0M338 367h0M350 361h0"/><path stroke="#424086" d="M324 366h0M308 373h0M318 371h0M328 364h0M329 364h0M318 369h0M329 366h0M341 361h0M309 375h0M316 368h0M306 377h0"/><path stroke="#3f4788" d="M324 362h0M315 367h0M338 355h0M375 334h0M323 361h0"/><path stroke="#3d4e8a" d="M380 330h0M382 324h0M342 349h0M363 335h0M347 343h0M340 350h0"/><path stroke="#39558c" d="M321 350h0M325 351h0M360 329h0M356 335h0M397 312h0M451 283h0M414 303h0M400 309h0M402 309h0M438 289h0M438 290h0M393 317h0"/><path stroke="#365c8d" d="M327 343h0M350 333h0M354 331h0M356 330h0M353 331h0M340 337h0M352 328h0M375 317h0M384 316h0M426 289h0M386 314h0M422 294h0M319 348h0M324 344h0M395 308h0"/><path stroke="#33638d" d="M352 324h0M342 330h0M360 319h0M339 331h0M323 341h0M327 337h0M345 329h0M326 336h0M380 308h0M401 297h0M419 287h0M403 298h0M416 288h0M392 301h0M422 287h0M444 272h0M398 300h0M414 291h0M436 278h0M377 312h0M381 310h0M367 317h0M435 283h0M421 288h0"/><path stroke="#30698e" d="M328 333h0M347 321h0M359 315h0M333 330h0M347 322h0M342 326h0M348 322h0M436 269h0M422 282h0M425 276h0M411 285h0M383 300h0M405 287h0M415 286h0M378 303h0M332 330h0M346 322h0M348 319h0M357 314h0M332 327h0M363 309h0M429 278h0M409 289h0"/><path stroke="#2e6f8e" d="M406 279h0M413 278h0M430 265h0M440 264h0M445 257h0M446 257h0M364 306h0M446 260h0M435 265h0M421 275h0M439 264h0M397 288h0M418 276h0M393 289h0M444 263h0M449 259h0M387 290h0M360 308h0M371 300h0M359 309h0M403 281h0M363 307h0"/><path stroke="#2b758e" d="M412 274h0M387 287h0M442 257h0M392 286h0M450 247h0M425 266h0M441 254h0M454 244h0M430 263h0M434 260h0M449 249h0M450 248h0M434 262h0M420 267h0M420 267h0M385 287h0"/><path stroke="#297b8e" d="M455 239h0M68 469h0M453 242h0M452 245h0M454 237h0"/><path stroke="#26828e" d="M454 230h0M439 240h0"/><path stroke="#24878e" d="M441 231h0M442 234h0"/><path stroke="#228d8d" d="M444 224h0M438 231h0"/><path stroke="#20938c" d="M444 218h0M444 216h0M444 218h0M451 216h0"/><path stroke="#1f998a" d="M454 202h0M441 209h0M71 457h0M441 211h0M442 208h0M450 203h0"/><path stroke="#1fa088" d="M442 203h0M442 203h0M439 205h0M451 200h0M454 193h0M441 209h0M440 207h0M449 202h0M450 200h0"/><path stroke="#21a585" d="M441 196h0M438 200h0M446 192h0M447 194h0M439 199h0M438 203h0M449 192h0M442 198h0M442 199h0M438 202h0"/><path stroke="#25ab82" d="M448 185h0M450 181h0M441 189h0M443 189h0"/><path stroke="#2cb17e" d="M446 183h0M455 172h0M453 175h0M443 180h0M442 181h0M437 187h0M449 179h0M446 178h0M442 183h0"/><path stroke="#34b679" d="M447 175h0M444 171h0M445 172h0M447 173h0M446 170h0M443 176h0M442 176h0M448 173h0M453 167h0M441 176h0"/><path stroke="#3fbc73" d="M445 169h0M443 165h0M447 162h0M71 447h0M439 170h0"/><path stroke="#4ac16d" d="M448 158h0M446 156h0M442 158h0M69 447h0M443 161h0M437 164h0"/><path stroke="#56c667" d="M455 144h0M440 158h0M437 157h0M446 152h0M447 152h0"/><path stroke="#65cb5e" d="M444 149h0M453 136h0M451 139h0M441 149h0M449 141h0M451 143h0M438 150h0"/><path stroke="#73d056" d="M447 135h0M445 140h0M450 135h0M452 134h0M452 135h0M443 136h0M450 130h0"/><path stroke="#84d44b" d="M445 132h0M453 122h0M444 133h0M72 436h0M450 126h0M444 130h0M439 134h0"/><path stroke="#93d741" d="M455 114h0M454 112h0M447 121h0M445 126h0M445 121h0M441 126h0"/><path stroke="#a2da37" d="M453 108h0M456 106h0M441 118h0"/><path stroke="#b5de2b" d="M451 102h0"/><path stroke="#d8e219" d="M278 243h0M224 290h0M262 256h0M95 405h0M254 265h0M364 165h0M183 328h0M343 186h0M391 143h0M327 199h0M183 328h0M316 210h0M284 235h0M284 239h0M194 318h0M111 392h0M367 165h0M215 299h0M396 138h0M147 360h0M358 169h0M416 118h0M438 104h0M402 130h0M410 123h0M304 221h0M177 333h0M369 160h0M330 196h0M352 176h0M84 416h0M365 165h0M121 383h0M300 223h0M144 362h0M234 282h0M85 414h0"/><path stroke="#e7e419" d="M268 248h0M242 272h0M401 130h0M200 310h0M278 238h0M255 260h0M222 290h0M261 256h0M141 363h0M291 227h0M213 298h0M189 320h0M264 252h0M106 393h0M245 270h0M77 419h0M202 309h0M314 208h0M278 241h0M284 235h0M337 186h0M349 176h0M406 126h0M341 183h0M94 406h0M211 299h0M248 268h0M114 387h0M231 281h0M123 378h0M383 143h0M293 224h0M221 291h0M361 161h0M252 261h0M91 409h0M398 132h0M76 422h0M171 337h0M376 151h0M369 158h0M338 184h0M79 418h0M100 400h0"/><path stroke="#f6e620" d="M84 413h0M124 376h0M346 174h0M128 373h0"/></g></g></g></g><g id="line2d_23"><path d="M 51.11 289.67 L 310.42 54.26 " clip-path="url(#pece15efcf1)" style="fill: none; stroke-dasharray: 8.14,3.52; stroke-dashoffset: 0; stroke: #de3b3b; stroke-width: 2.2"/></g><g id="patch_3"><path d="M 37.92 354.1 L 37.92 40.73 " style="fill: none; stroke: #000000; stroke-width: 1.25; stroke-linejoin: miter; stroke-linecap: square"/></g><g id="patch_4"><path d="M 37.92 354.1 L 323.38 354.1 " style="fill: none; stroke: #000000; stroke-width: 1.25; stroke-linejoin: miter; stroke-linecap: square"/></g><g id="text_14"><g transform="translate(64.381429 20.091429)"><text xml:space="preserve"><tspan x="0.00" y="-0.86" style="font-style: italic; font-size: 14px; font-family: 'Liberation Sans', sans-serif">T</tspan><tspan x="8.55" y="3.32" style="font-size: 9.8px; font-family: 'Liberation Sans', sans-serif">1</tspan><tspan x="14.70" y="-0.86" style="font-weight: 700; font-size: 14px; font-family: 'Liberation Sans', sans-serif"> vs </tspan><tspan x="38.05" y="-0.86" style="font-style: italic; font-size: 14px; font-family: 'Liberation Sans', sans-serif">S</tspan><tspan x="47.39" y="3.32" style="font-size: 9.8px; font-family: 'Liberation Sans', sans-serif">1</tspan><tspan x="53.54" y="-0.86" style="font-weight: 700; font-size: 14px; font-family: 'Liberation Sans', sans-serif"> Energy Level Relationship</tspan></text></g></g><g id="legend_1"><g id="patch_5"><path d="M 45.62 66.3 L 114.7 66.3 Q 116.9 66.3 116.9 64.1 L 116.9 48.43 Q 116.9 46.23 114.7 46.23 L 45.62 46.23 Q 43.42 46.23 43.42 48.43 L 43.42 64.1 Q 43.42 66.3 45.62 66.3 z " style="fill: #ffffff; opacity: 0.8; stroke: #cccccc; stroke-linejoin: miter"/></g><g id="line2d_24"><path d="M 47.82 54.75 L 58.82 54.75 L 69.82 54.75 " style="fill: none; stroke-dasharray: 8.14,3.52; stroke-dashoffset: 0; stroke: #de3b3b; stroke-width: 2.2"/></g><g id="text_15"><g transform="translate(78.62 58.602991)"><text xml:space="preserve"><tspan x="0.00" y="-0.31" style="font-style: italic; font-size: 11px; font-family: 'Liberation Sans', sans-serif">T</tspan><tspan x="6.72" y="2.97" style="font-size: 7.7px; font-family: 'Liberation Sans', sans-serif">1</tspan><tspan x="13.38" y="-0.31" style="font-size: 11px; font-family: 'Liberation Sans', sans-serif">=</tspan><tspan x="21.64" y="-0.31" style="font-style: italic; font-size: 11px; font-family: 'Liberation Sans', sans-serif">S</tspan><tspan x="28.98" y="2.97" style="font-size: 7.7px; font-family: 'Liberation Sans', sans-serif">1</tspan></text></g></g></g></g><g id="axes_2"><g id="patch_6"><path d="M 341.01 322.77 L 353.55 322.77 L 353.55 72.07 L 341.01 72.07 z " style="fill: #ffffff"/></g><g transform="scale(0.68571429)"><linearGradient id="ga" x1="0" y1="0" x2="0" y2="1"><stop offset="0.000" stop-color="#fde725"/><stop offset="0.031" stop-color="#ece51b"/><stop offset="0.062" stop-color="#d8e219"/><stop offset="0.094" stop-color="#c2df23"/><stop offset="0.125" stop-color="#addc30"/><stop offset="0.156" stop-color="#98d83e"/><stop offset="0.188" stop-color="#84d44b"/><stop offset="0.219" stop-color="#70cf57"/><stop offset="0.250" stop-color="#5ec962"/><stop offset="0.281" stop-color="#4ec36b"/><stop offset="0.312" stop-color="#3fbc73"/><stop offset="0.344" stop-color="#32b67a"/><stop offset="0.375" stop-color="#28ae80"/><stop offset="0.406" stop-color="#22a785"/><stop offset="0.438" stop-color="#1fa088"/><stop offset="0.469" stop-color="#1f988b"/><stop offset="0.500" stop-color="#21918c"/><stop offset="0.531" stop-color="#23898e"/><stop offset="0.562" stop-color="#26828e"/><stop offset="0.594" stop-color="#297a8e"/><stop offset="0.625" stop-color="#2c728e"/><stop offset="0.656" stop-color="#2f6b8e"/><stop offset="0.688" stop-color="#33638d"/><stop offset="0.719" stop-color="#375b8d"/><stop offset="0.750" stop-color="#3b528b"/><stop offset="0.781" stop-color="#3e4989"/><stop offset="0.812" stop-color="#424086"/><stop offset="0.844" stop-color="#453781"/><stop offset="0.875" stop-color="#472d7b"/><stop offset="0.906" stop-color="#482374"/><stop offset="0.938" stop-color="#48186a"/><stop offset="0.969" stop-color="#470d60"/><stop offset="1.000" stop-color="#440154"/></linearGradient><rect x="497.30" y="105.10" width="18.30" height="365.60" fill="url(#ga)" fill-opacity="0.6"/></g><g id="matplotlib.axis_3"/><g id="matplotlib.axis_4"><g id="ytick_7"><g id="line2d_25"><defs><path id="m9adf3d6901" d="M 0 0 L 3.5 0 " style="stroke: #000000; stroke-width: 1.2"/></defs><g><use href="#m9adf3d6901" x="353.554286" y="320.724598" style="stroke: #000000; stroke-width: 1.2"/></g></g><g id="text_16"><text style="font-size: 11px; font-family: 'Liberation Sans', sans-serif; text-anchor: start" x="360.554286" y="324.710379" transform="rotate(-0 360.554286 324.710379)">0.4</text></g></g><g id="ytick_8"><g id="line2d_26"><g><use href="#m9adf3d6901" x="353.554286" y="280.702704" style="stroke: #000000; stroke-width: 1.2"/></g></g><g id="text_17"><text style="font-size: 11px; font-family: 'Liberation Sans', sans-serif; text-anchor: start" x="360.554286" y="284.688485" transform="rotate(-0 360.554286 284.688485)">0.5</text></g></g><g id="ytick_9"><g id="line2d_27"><g><use href="#m9adf3d6901" x="353.554286" y="240.68081" style="stroke: #000000; stroke-width: 1.2"/></g></g><g id="text_18"><text style="font-size: 11px; font-family: 'Liberation Sans', sans-serif; text-anchor: start" x="360.554286" y="244.666591" transform="rotate(-0 360.554286 244.666591)">0.6</text></g></g><g id="ytick_10"><g id="line2d_28"><g><use href="#m9adf3d6901" x="353.554286" y="200.658916" style="stroke: #000000; stroke-width: 1.2"/></g></g><g id="text_19"><text style="font-size: 11px; font-family: 'Liberation Sans', sans-serif; text-anchor: start" x="360.554286" y="204.644698" transform="rotate(-0 360.554286 204.644698)">0.7</text></g></g><g id="ytick_11"><g id="line2d_29"><g><use href="#m9adf3d6901" x="353.554286" y="160.637022" style="stroke: #000000; stroke-width: 1.2"/></g></g><g id="text_20"><text style="font-size: 11px; font-family: 'Liberation Sans', sans-serif; text-anchor: start" x="360.554286" y="164.622804" transform="rotate(-0 360.554286 164.622804)">0.8</text></g></g><g id="ytick_12"><g id="line2d_30"><g><use href="#m9adf3d6901" x="353.554286" y="120.615129" style="stroke: #000000; stroke-width: 1.2"/></g></g><g id="text_21"><text style="font-size: 11px; font-family: 'Liberation Sans', sans-serif; text-anchor: start" x="360.554286" y="124.60091" transform="rotate(-0 360.554286 124.60091)">0.9</text></g></g><g id="ytick_13"><g id="line2d_31"><g><use href="#m9adf3d6901" x="353.554286" y="80.593235" style="stroke: #000000; stroke-width: 1.2"/></g></g><g id="text_22"><text style="font-size: 11px; font-family: 'Liberation Sans', sans-serif; text-anchor: start" x="360.554286" y="84.579016" transform="rotate(-0 360.554286 84.579016)">1.0</text></g></g><g id="text_23"><g transform="translate(389.604286 228.737143) rotate(-90)"><text xml:space="preserve"><tspan x="0.00" y="-0.30" style="font-style: italic; font-size: 12px; font-family: 'Liberation Sans', sans-serif">T</tspan><tspan x="7.33" y="3.29" style="font-size: 8.4px; font-family: 'Liberation Sans', sans-serif">1</tspan><tspan x="12.60" y="-0.30" style="font-size: 12px; font-family: 'Liberation Sans', sans-serif">/</tspan><tspan x="15.93" y="-0.30" style="font-style: italic; font-size: 12px; font-family: 'Liberation Sans', sans-serif">S</tspan><tspan x="23.94" y="3.29" style="font-size: 8.4px; font-family: 'Liberation Sans', sans-serif">1</tspan><tspan x="29.21" y="-0.30" style="font-weight: 700; font-size: 12px; font-family: 'Liberation Sans', sans-serif"> Ratio</tspan></text></g></g></g><g id="LineCollection_1"/><g id="patch_7"><path d="M 341.01 322.77 L 347.28 322.77 L 353.55 322.77 L 353.55 72.07 L 347.28 72.07 L 341.01 72.07 L 341.01 322.77 z " style="fill: none; stroke: #000000; stroke-width: 1.25; stroke-linejoin: miter; stroke-linecap: square"/></g></g><g id="axes_3"><g id="patch_8"><path d="M 536.23 354.1 L 892.8 354.1 L 892.8 40.73 L 536.23 40.73 z " style="fill: #ffffff"/></g><g id="matplotlib.axis_5"><g id="xtick_6"><g id="line2d_32"><path d="M 555.11 354.1 L 555.11 40.73 " clip-path="url(#p14ee486469)" style="fill: none; stroke: #b0b0b0; stroke-opacity: 0.3; stroke-width: 0.8; stroke-linecap: square"/></g><g id="line2d_33"><g><use href="#me52e4beeaa" x="555.112578" y="354.102857" style="stroke: #000000; stroke-width: 1.2"/></g></g><g id="text_24"><text style="font-size: 12px; font-family: 'Liberation Sans', sans-serif; text-anchor: middle" x="555.112578" y="370.849107" transform="rotate(-0 555.112578 370.849107)">0.4</text></g></g><g id="xtick_7"><g id="line2d_34"><path d="M 606.85 354.1 L 606.85 40.73 " clip-path="url(#p14ee486469)" style="fill: none; stroke: #b0b0b0; stroke-opacity: 0.3; stroke-width: 0.8; stroke-linecap: square"/></g><g id="line2d_35"><g><use href="#me52e4beeaa" x="606.849581" y="354.102857" style="stroke: #000000; stroke-width: 1.2"/></g></g><g id="text_25"><text style="font-size: 12px; font-family: 'Liberation Sans', sans-serif; text-anchor: middle" x="606.849581" y="370.849107" transform="rotate(-0 606.849581 370.849107)">0.5</text></g></g><g id="xtick_8"><g id="line2d_36"><path d="M 658.59 354.1 L 658.59 40.73 " clip-path="url(#p14ee486469)" style="fill: none; stroke: #b0b0b0; stroke-opacity: 0.3; stroke-width: 0.8; stroke-linecap: square"/></g><g id="line2d_37"><g><use href="#me52e4beeaa" x="658.586585" y="354.102857" style="stroke: #000000; stroke-width: 1.2"/></g></g><g id="text_26"><text style="font-size: 12px; font-family: 'Liberation Sans', sans-serif; text-anchor: middle" x="658.586585" y="370.849107" transform="rotate(-0 658.586585 370.849107)">0.6</text></g></g><g id="xtick_9"><g id="line2d_38"><path d="M 710.32 354.1 L 710.32 40.73 " clip-path="url(#p14ee486469)" style="fill: none; stroke: #b0b0b0; stroke-opacity: 0.3; stroke-width: 0.8; stroke-linecap: square"/></g><g id="line2d_39"><g><use href="#me52e4beeaa" x="710.323588" y="354.102857" style="stroke: #000000; stroke-width: 1.2"/></g></g><g id="text_27"><text style="font-size: 12px; font-family: 'Liberation Sans', sans-serif; text-anchor: middle" x="710.323588" y="370.849107" transform="rotate(-0 710.323588 370.849107)">0.7</text></g></g><g id="xtick_10"><g id="line2d_40"><path d="M 762.06 354.1 L 762.06 40.73 " clip-path="url(#p14ee486469)" style="fill: none; stroke: #b0b0b0; stroke-opacity: 0.3; stroke-width: 0.8; stroke-linecap: square"/></g><g id="line2d_41"><g><use href="#me52e4beeaa" x="762.060592" y="354.102857" style="stroke: #000000; stroke-width: 1.2"/></g></g><g id="text_28"><text style="font-size: 12px; font-family: 'Liberation Sans', sans-serif; text-anchor: middle" x="762.060592" y="370.849107" transform="rotate(-0 762.060592 370.849107)">0.8</text></g></g><g id="xtick_11"><g id="line2d_42"><path d="M 813.8 354.1 L 813.8 40.73 " clip-path="url(#p14ee486469)" style="fill: none; stroke: #b0b0b0; stroke-opacity: 0.3; stroke-width: 0.8; stroke-linecap: square"/></g><g id="line2d_43"><g><use href="#me52e4beeaa" x="813.797596" y="354.102857" style="stroke: #000000; stroke-width: 1.2"/></g></g><g id="text_29"><text style="font-size: 12px; font-family: 'Liberation Sans', sans-serif; text-anchor: middle" x="813.797596" y="370.849107" transform="rotate(-0 813.797596 370.849107)">0.9</text></g></g><g id="xtick_12"><g id="line2d_44"><path d="M 865.53 354.1 L 865.53 40.73 " clip-path="url(#p14ee486469)" style="fill: none; stroke: #b0b0b0; stroke-opacity: 0.3; stroke-width: 0.8; stroke-linecap: square"/></g><g id="line2d_45"><g><use href="#me52e4beeaa" x="865.534599" y="354.102857" style="stroke: #000000; stroke-width: 1.2"/></g></g><g id="text_30"><text style="font-size: 12px; font-family: 'Liberation Sans', sans-serif; text-anchor: middle" x="865.534599" y="370.849107" transform="rotate(-0 865.534599 370.849107)">1.0</text></g></g><g id="text_31"><g transform="translate(680.584286 387.239107)"><text xml:space="preserve"><tspan x="0.00" y="-0.58" style="font-style: italic; font-size: 13px; font-family: 'Liberation Sans', sans-serif">T</tspan><tspan x="7.94" y="3.30" style="font-size: 9.1px; font-family: 'Liberation Sans', sans-serif">1</tspan><tspan x="13.65" y="-0.58" style="font-size: 13px; font-family: 'Liberation Sans', sans-serif">/</tspan><tspan x="17.26" y="-0.58" style="font-style: italic; font-size: 13px; font-family: 'Liberation Sans', sans-serif">S</tspan><tspan x="25.93" y="3.30" style="font-size: 9.1px; font-family: 'Liberation Sans', sans-serif">1</tspan><tspan x="31.64" y="-0.58" style="font-weight: 700; font-size: 13px; font-family: 'Liberation Sans', sans-serif"> Ratio</tspan></text></g></g></g><g id="matplotlib.axis_6"><g id="ytick_14"><g id="line2d_46"><path d="M 536.23 354.1 L 892.8 354.1 " clip-path="url(#p14ee486469)" style="fill: none; stroke: #b0b0b0; stroke-opacity: 0.3; stroke-width: 0.8; stroke-linecap: square"/></g><g id="line2d_47"><g><use href="#m4d9286fa7c" x="536.228571" y="354.102857" style="stroke: #000000; stroke-width: 1.2"/></g></g><g id="text_32"><text style="font-size: 12px; font-family: 'Liberation Sans', sans-serif; text-anchor: end" x="529.228571" y="358.450982" transform="rotate(-0 529.228571 358.450982)">0</text></g></g><g id="ytick_15"><g id="line2d_48"><path d="M 536.23 301.79 L 892.8 301.79 " clip-path="url(#p14ee486469)" style="fill: none; stroke: #b0b0b0; stroke-opacity: 0.3; stroke-width: 0.8; stroke-linecap: square"/></g><g id="line2d_49"><g><use href="#m4d9286fa7c" x="536.228571" y="301.794079" style="stroke: #000000; stroke-width: 1.2"/></g></g><g id="text_33"><text style="font-size: 12px; font-family: 'Liberation Sans', sans-serif; text-anchor: end" x="529.228571" y="306.142204" transform="rotate(-0 529.228571 306.142204)">5000</text></g></g><g id="ytick_16"><g id="line2d_50"><path d="M 536.23 249.49 L 892.8 249.49 " clip-path="url(#p14ee486469)" style="fill: none; stroke: #b0b0b0; stroke-opacity: 0.3; stroke-width: 0.8; stroke-linecap: square"/></g><g id="line2d_51"><g><use href="#m4d9286fa7c" x="536.228571" y="249.485301" style="stroke: #000000; stroke-width: 1.2"/></g></g><g id="text_34"><text style="font-size: 12px; font-family: 'Liberation Sans', sans-serif; text-anchor: end" x="529.228571" y="253.833426" transform="rotate(-0 529.228571 253.833426)">10000</text></g></g><g id="ytick_17"><g id="line2d_52"><path d="M 536.23 197.18 L 892.8 197.18 " clip-path="url(#p14ee486469)" style="fill: none; stroke: #b0b0b0; stroke-opacity: 0.3; stroke-width: 0.8; stroke-linecap: square"/></g><g id="line2d_53"><g><use href="#m4d9286fa7c" x="536.228571" y="197.176522" style="stroke: #000000; stroke-width: 1.2"/></g></g><g id="text_35"><text style="font-size: 12px; font-family: 'Liberation Sans', sans-serif; text-anchor: end" x="529.228571" y="201.524647" transform="rotate(-0 529.228571 201.524647)">15000</text></g></g><g id="ytick_18"><g id="line2d_54"><path d="M 536.23 144.87 L 892.8 144.87 " clip-path="url(#p14ee486469)" style="fill: none; stroke: #b0b0b0; stroke-opacity: 0.3; stroke-width: 0.8; stroke-linecap: square"/></g><g id="line2d_55"><g><use href="#m4d9286fa7c" x="536.228571" y="144.867744" style="stroke: #000000; stroke-width: 1.2"/></g></g><g id="text_36"><text style="font-size: 12px; font-family: 'Liberation Sans', sans-serif; text-anchor: end" x="529.228571" y="149.215869" transform="rotate(-0 529.228571 149.215869)">20000</text></g></g><g id="ytick_19"><g id="line2d_56"><path d="M 536.23 92.56 L 892.8 92.56 " clip-path="url(#p14ee486469)" style="fill: none; stroke: #b0b0b0; stroke-opacity: 0.3; stroke-width: 0.8; stroke-linecap: square"/></g><g id="line2d_57"><g><use href="#m4d9286fa7c" x="536.228571" y="92.558966" style="stroke: #000000; stroke-width: 1.2"/></g></g><g id="text_37"><text style="font-size: 12px; font-family: 'Liberation Sans', sans-serif; text-anchor: end" x="529.228571" y="96.907091" transform="rotate(-0 529.228571 96.907091)">25000</text></g></g><g id="text_38"><text style="font-weight: 700; font-size: 13px; font-family: 'Liberation Sans', sans-serif; text-anchor: middle" x="489.165446" y="197.417143" transform="rotate(-90 489.165446 197.417143)">Frequency</text></g></g><g id="patch_9"><path d="M 552.47 354.1 L 557.88 354.1 L 557.88 346.98 L 552.47 346.98 z " clip-path="url(#p14ee486469)" style="fill: #1f77b4; opacity: 0.7; stroke: #000000; stroke-width: 0.8; stroke-linejoin: miter"/></g><g id="patch_10"><path d="M 557.88 354.1 L 563.28 354.1 L 563.28 345.13 L 557.88 345.13 z " clip-path="url(#p14ee486469)" style="fill: #1f77b4; opacity: 0.7; stroke: #000000; stroke-width: 0.8; stroke-linejoin: miter"/></g><g id="patch_11"><path d="M 563.28 354.1 L 568.68 354.1 L 568.68 339.58 L 563.28 339.58 z " clip-path="url(#p14ee486469)" style="fill: #1f77b4; opacity: 0.7; stroke: #000000; stroke-width: 0.8; stroke-linejoin: miter"/></g><g id="patch_12"><path d="M 568.68 354.1 L 574.08 354.1 L 574.08 332.73 L 568.68 332.73 z " clip-path="url(#p14ee486469)" style="fill: #1f77b4; opacity: 0.7; stroke: #000000; stroke-width: 0.8; stroke-linejoin: miter"/></g><g id="patch_13"><path d="M 574.08 354.1 L 579.48 354.1 L 579.48 323.96 L 574.08 323.96 z " clip-path="url(#p14ee486469)" style="fill: #1f77b4; opacity: 0.7; stroke: #000000; stroke-width: 0.8; stroke-linejoin: miter"/></g><g id="patch_14"><path d="M 579.48 354.1 L 584.88 354.1 L 584.88 314.99 L 579.48 314.99 z " clip-path="url(#p14ee486469)" style="fill: #1f77b4; opacity: 0.7; stroke: #000000; stroke-width: 0.8; stroke-linejoin: miter"/></g><g id="patch_15"><path d="M 584.88 354.1 L 590.28 354.1 L 590.28 308.34 L 584.88 308.34 z " clip-path="url(#p14ee486469)" style="fill: #1f77b4; opacity: 0.7; stroke: #000000; stroke-width: 0.8; stroke-linejoin: miter"/></g><g id="patch_16"><path d="M 590.28 354.1 L 595.68 354.1 L 595.68 297.66 L 590.28 297.66 z " clip-path="url(#p14ee486469)" style="fill: #1f77b4; opacity: 0.7; stroke: #000000; stroke-width: 0.8; stroke-linejoin: miter"/></g><g id="patch_17"><path d="M 595.68 354.1 L 601.09 354.1 L 601.09 294.58 L 595.68 294.58 z " clip-path="url(#p14ee486469)" style="fill: #1f77b4; opacity: 0.7; stroke: #000000; stroke-width: 0.8; stroke-linejoin: miter"/></g><g id="patch_18"><path d="M 601.09 354.1 L 606.49 354.1 L 606.49 287.32 L 601.09 287.32 z " clip-path="url(#p14ee486469)" style="fill: #1f77b4; opacity: 0.7; stroke: #000000; stroke-width: 0.8; stroke-linejoin: miter"/></g><g id="patch_19"><path d="M 606.49 354.1 L 611.89 354.1 L 611.89 289.71 L 606.49 289.71 z " clip-path="url(#p14ee486469)" style="fill: #1f77b4; opacity: 0.7; stroke: #000000; stroke-width: 0.8; stroke-linejoin: miter"/></g><g id="patch_20"><path d="M 611.89 354.1 L 617.29 354.1 L 617.29 281.22 L 611.89 281.22 z " clip-path="url(#p14ee486469)" style="fill: #1f77b4; opacity: 0.7; stroke: #000000; stroke-width: 0.8; stroke-linejoin: miter"/></g><g id="patch_21"><path d="M 617.29 354.1 L 622.69 354.1 L 622.69 273.41 L 617.29 273.41 z " clip-path="url(#p14ee486469)" style="fill: #1f77b4; opacity: 0.7; stroke: #000000; stroke-width: 0.8; stroke-linejoin: miter"/></g><g id="patch_22"><path d="M 622.69 354.1 L 628.09 354.1 L 628.09 269.57 L 622.69 269.57 z " clip-path="url(#p14ee486469)" style="fill: #1f77b4; opacity: 0.7; stroke: #000000; stroke-width: 0.8; stroke-linejoin: miter"/></g><g id="patch_23"><path d="M 628.09 354.1 L 633.49 354.1 L 633.49 266.42 L 628.09 266.42 z " clip-path="url(#p14ee486469)" style="fill: #1f77b4; opacity: 0.7; stroke: #000000; stroke-width: 0.8; stroke-linejoin: miter"/></g><g id="patch_24"><path d="M 633.49 354.1 L 638.9 354.1 L 638.9 258.47 L 633.49 258.47 z " clip-path="url(#p14ee486469)" style="fill: #1f77b4; opacity: 0.7; stroke: #000000; stroke-width: 0.8; stroke-linejoin: miter"/></g><g id="patch_25"><path d="M 638.9 354.1 L 644.3 354.1 L 644.3 251.42 L 638.9 251.42 z " clip-path="url(#p14ee486469)" style="fill: #1f77b4; opacity: 0.7; stroke: #000000; stroke-width: 0.8; stroke-linejoin: miter"/></g><g id="patch_26"><path d="M 644.3 354.1 L 649.7 354.1 L 649.7 245.05 L 644.3 245.05 z " clip-path="url(#p14ee486469)" style="fill: #1f77b4; opacity: 0.7; stroke: #000000; stroke-width: 0.8; stroke-linejoin: miter"/></g><g id="patch_27"><path d="M 649.7 354.1 L 655.1 354.1 L 655.1 240.86 L 649.7 240.86 z " clip-path="url(#p14ee486469)" style="fill: #1f77b4; opacity: 0.7; stroke: #000000; stroke-width: 0.8; stroke-linejoin: miter"/></g><g id="patch_28"><path d="M 655.1 354.1 L 660.5 354.1 L 660.5 236.21 L 655.1 236.21 z " clip-path="url(#p14ee486469)" style="fill: #1f77b4; opacity: 0.7; stroke: #000000; stroke-width: 0.8; stroke-linejoin: miter"/></g><g id="patch_29"><path d="M 660.5 354.1 L 665.9 354.1 L 665.9 229.57 L 660.5 229.57 z " clip-path="url(#p14ee486469)" style="fill: #1f77b4; opacity: 0.7; stroke: #000000; stroke-width: 0.8; stroke-linejoin: miter"/></g><g id="patch_30"><path d="M 665.9 354.1 L 671.3 354.1 L 671.3 219.16 L 665.9 219.16 z " clip-path="url(#p14ee486469)" style="fill: #1f77b4; opacity: 0.7; stroke: #000000; stroke-width: 0.8; stroke-linejoin: miter"/></g><g id="patch_31"><path d="M 671.3 354.1 L 676.7 354.1 L 676.7 206.14 L 671.3 206.14 z " clip-path="url(#p14ee486469)" style="fill: #1f77b4; opacity: 0.7; stroke: #000000; stroke-width: 0.8; stroke-linejoin: miter"/></g><g id="patch_32"><path d="M 676.7 354.1 L 682.11 354.1 L 682.11 188.19 L 676.7 188.19 z " clip-path="url(#p14ee486469)" style="fill: #1f77b4; opacity: 0.7; stroke: #000000; stroke-width: 0.8; stroke-linejoin: miter"/></g><g id="patch_33"><path d="M 682.11 354.1 L 687.51 354.1 L 687.51 179.73 L 682.11 179.73 z " clip-path="url(#p14ee486469)" style="fill: #1f77b4; opacity: 0.7; stroke: #000000; stroke-width: 0.8; stroke-linejoin: miter"/></g><g id="patch_34"><path d="M 687.51 354.1 L 692.91 354.1 L 692.91 175.51 L 687.51 175.51 z " clip-path="url(#p14ee486469)" style="fill: #1f77b4; opacity: 0.7; stroke: #000000; stroke-width: 0.8; stroke-linejoin: miter"/></g><g id="patch_35"><path d="M 692.91 354.1 L 698.31 354.1 L 698.31 175.18 L 692.91 175.18 z " clip-path="url(#p14ee486469)" style="fill: #1f77b4; opacity: 0.7; stroke: #000000; stroke-width: 0.8; stroke-linejoin: miter"/></g><g id="patch_36"><path d="M 698.31 354.1 L 703.71 354.1 L 703.71 160.04 L 698.31 160.04 z " clip-path="url(#p14ee486469)" style="fill: #1f77b4; opacity: 0.7; stroke: #000000; stroke-width: 0.8; stroke-linejoin: miter"/></g><g id="patch_37"><path d="M 703.71 354.1 L 709.11 354.1 L 709.11 140.32 L 703.71 140.32 z " clip-path="url(#p14ee486469)" style="fill: #1f77b4; opacity: 0.7; stroke: #000000; stroke-width: 0.8; stroke-linejoin: miter"/></g><g id="patch_38"><path d="M 709.11 354.1 L 714.51 354.1 L 714.51 113.19 L 709.11 113.19 z " clip-path="url(#p14ee486469)" style="fill: #1f77b4; opacity: 0.7; stroke: #000000; stroke-width: 0.8; stroke-linejoin: miter"/></g><g id="patch_39"><path d="M 714.51 354.1 L 719.92 354.1 L 719.92 79.27 L 714.51 79.27 z " clip-path="url(#p14ee486469)" style="fill: #1f77b4; opacity: 0.7; stroke: #000000; stroke-width: 0.8; stroke-linejoin: miter"/></g><g id="patch_40"><path d="M 719.92 354.1 L 725.32 354.1 L 725.32 67.97 L 719.92 67.97 z " clip-path="url(#p14ee486469)" style="fill: #1f77b4; opacity: 0.7; stroke: #000000; stroke-width: 0.8; stroke-linejoin: miter"/></g><g id="patch_41"><path d="M 725.32 354.1 L 730.72 354.1 L 730.72 55.65 L 725.32 55.65 z " clip-path="url(#p14ee486469)" style="fill: #1f77b4; opacity: 0.7; stroke: #000000; stroke-width: 0.8; stroke-linejoin: miter"/></g><g id="patch_42"><path d="M 730.72 354.1 L 736.12 354.1 L 736.12 58.04 L 730.72 58.04 z " clip-path="url(#p14ee486469)" style="fill: #1f77b4; opacity: 0.7; stroke: #000000; stroke-width: 0.8; stroke-linejoin: miter"/></g><g id="patch_43"><path d="M 736.12 354.1 L 741.52 354.1 L 741.52 84.06 L 736.12 84.06 z " clip-path="url(#p14ee486469)" style="fill: #1f77b4; opacity: 0.7; stroke: #000000; stroke-width: 0.8; stroke-linejoin: miter"/></g><g id="patch_44"><path d="M 741.52 354.1 L 746.92 354.1 L 746.92 106.61 L 741.52 106.61 z " clip-path="url(#p14ee486469)" style="fill: #1f77b4; opacity: 0.7; stroke: #000000; stroke-width: 0.8; stroke-linejoin: miter"/></g><g id="patch_45"><path d="M 746.92 354.1 L 752.32 354.1 L 752.32 136.54 L 746.92 136.54 z " clip-path="url(#p14ee486469)" style="fill: #1f77b4; opacity: 0.7; stroke: #000000; stroke-width: 0.8; stroke-linejoin: miter"/></g><g id="patch_46"><path d="M 752.32 354.1 L 757.73 354.1 L 757.73 158.94 L 752.32 158.94 z " clip-path="url(#p14ee486469)" style="fill: #1f77b4; opacity: 0.7; stroke: #000000; stroke-width: 0.8; stroke-linejoin: miter"/></g><g id="patch_47"><path d="M 757.73 354.1 L 763.13 354.1 L 763.13 178.32 L 757.73 178.32 z " clip-path="url(#p14ee486469)" style="fill: #1f77b4; opacity: 0.7; stroke: #000000; stroke-width: 0.8; stroke-linejoin: miter"/></g><g id="patch_48"><path d="M 763.13 354.1 L 768.53 354.1 L 768.53 205.18 L 763.13 205.18 z " clip-path="url(#p14ee486469)" style="fill: #1f77b4; opacity: 0.7; stroke: #000000; stroke-width: 0.8; stroke-linejoin: miter"/></g><g id="patch_49"><path d="M 768.53 354.1 L 773.93 354.1 L 773.93 211.48 L 768.53 211.48 z " clip-path="url(#p14ee486469)" style="fill: #1f77b4; opacity: 0.7; stroke: #000000; stroke-width: 0.8; stroke-linejoin: miter"/></g><g id="patch_50"><path d="M 773.93 354.1 L 779.33 354.1 L 779.33 220.3 L 773.93 220.3 z " clip-path="url(#p14ee486469)" style="fill: #1f77b4; opacity: 0.7; stroke: #000000; stroke-width: 0.8; stroke-linejoin: miter"/></g><g id="patch_51"><path d="M 779.33 354.1 L 784.73 354.1 L 784.73 232.12 L 779.33 232.12 z " clip-path="url(#p14ee486469)" style="fill: #1f77b4; opacity: 0.7; stroke: #000000; stroke-width: 0.8; stroke-linejoin: miter"/></g><g id="patch_52"><path d="M 784.73 354.1 L 790.13 354.1 L 790.13 246.89 L 784.73 246.89 z " clip-path="url(#p14ee486469)" style="fill: #1f77b4; opacity: 0.7; stroke: #000000; stroke-width: 0.8; stroke-linejoin: miter"/></g><g id="patch_53"><path d="M 790.13 354.1 L 795.53 354.1 L 795.53 251.28 L 790.13 251.28 z " clip-path="url(#p14ee486469)" style="fill: #1f77b4; opacity: 0.7; stroke: #000000; stroke-width: 0.8; stroke-linejoin: miter"/></g><g id="patch_54"><path d="M 795.53 354.1 L 800.94 354.1 L 800.94 265.05 L 795.53 265.05 z " clip-path="url(#p14ee486469)" style="fill: #1f77b4; opacity: 0.7; stroke: #000000; stroke-width: 0.8; stroke-linejoin: miter"/></g><g id="patch_55"><path d="M 800.94 354.1 L 806.34 354.1 L 806.34 283.55 L 800.94 283.55 z " clip-path="url(#p14ee486469)" style="fill: #1f77b4; opacity: 0.7; stroke: #000000; stroke-width: 0.8; stroke-linejoin: miter"/></g><g id="patch_56"><path d="M 806.34 354.1 L 811.74 354.1 L 811.74 290.46 L 806.34 290.46 z " clip-path="url(#p14ee486469)" style="fill: #1f77b4; opacity: 0.7; stroke: #000000; stroke-width: 0.8; stroke-linejoin: miter"/></g><g id="patch_57"><path d="M 811.74 354.1 L 817.14 354.1 L 817.14 291.97 L 811.74 291.97 z " clip-path="url(#p14ee486469)" style="fill: #1f77b4; opacity: 0.7; stroke: #000000; stroke-width: 0.8; stroke-linejoin: miter"/></g><g id="patch_58"><path d="M 817.14 354.1 L 822.54 354.1 L 822.54 299.5 L 817.14 299.5 z " clip-path="url(#p14ee486469)" style="fill: #1f77b4; opacity: 0.7; stroke: #000000; stroke-width: 0.8; stroke-linejoin: miter"/></g><g id="patch_59"><path d="M 822.54 354.1 L 827.94 354.1 L 827.94 311.63 L 822.54 311.63 z " clip-path="url(#p14ee486469)" style="fill: #1f77b4; opacity: 0.7; stroke: #000000; stroke-width: 0.8; stroke-linejoin: miter"/></g><g id="patch_60"><path d="M 827.94 354.1 L 833.34 354.1 L 833.34 319.17 L 827.94 319.17 z " clip-path="url(#p14ee486469)" style="fill: #1f77b4; opacity: 0.7; stroke: #000000; stroke-width: 0.8; stroke-linejoin: miter"/></g><g id="patch_61"><path d="M 833.34 354.1 L 838.75 354.1 L 838.75 322.86 L 833.34 322.86 z " clip-path="url(#p14ee486469)" style="fill: #1f77b4; opacity: 0.7; stroke: #000000; stroke-width: 0.8; stroke-linejoin: miter"/></g><g id="patch_62"><path d="M 838.75 354.1 L 844.15 354.1 L 844.15 323.83 L 838.75 323.83 z " clip-path="url(#p14ee486469)" style="fill: #1f77b4; opacity: 0.7; stroke: #000000; stroke-width: 0.8; stroke-linejoin: miter"/></g><g id="patch_63"><path d="M 844.15 354.1 L 849.55 354.1 L 849.55 322.65 L 844.15 322.65 z " clip-path="url(#p14ee486469)" style="fill: #1f77b4; opacity: 0.7; stroke: #000000; stroke-width: 0.8; stroke-linejoin: miter"/></g><g id="patch_64"><path d="M 849.55 354.1 L 854.95 354.1 L 854.95 321.84 L 849.55 321.84 z " clip-path="url(#p14ee486469)" style="fill: #1f77b4; opacity: 0.7; stroke: #000000; stroke-width: 0.8; stroke-linejoin: miter"/></g><g id="patch_65"><path d="M 854.95 354.1 L 860.35 354.1 L 860.35 330.74 L 854.95 330.74 z " clip-path="url(#p14ee486469)" style="fill: #1f77b4; opacity: 0.7; stroke: #000000; stroke-width: 0.8; stroke-linejoin: miter"/></g><g id="patch_66"><path d="M 860.35 354.1 L 865.75 354.1 L 865.75 342.66 L 860.35 342.66 z " clip-path="url(#p14ee486469)" style="fill: #1f77b4; opacity: 0.7; stroke: #000000; stroke-width: 0.8; stroke-linejoin: miter"/></g><g id="patch_67"><path d="M 865.75 354.1 L 871.15 354.1 L 871.15 348.28 L 865.75 348.28 z " clip-path="url(#p14ee486469)" style="fill: #1f77b4; opacity: 0.7; stroke: #000000; stroke-width: 0.8; stroke-linejoin: miter"/></g><g id="patch_68"><path d="M 871.15 354.1 L 876.55 354.1 L 876.55 350.61 L 871.15 350.61 z " clip-path="url(#p14ee486469)" style="fill: #1f77b4; opacity: 0.7; stroke: #000000; stroke-width: 0.8; stroke-linejoin: miter"/></g><g id="line2d_58"><path d="M 714.98 354.1 L 714.98 40.73 " clip-path="url(#p14ee486469)" style="fill: none; stroke-dasharray: 8.14,3.52; stroke-dashoffset: 0; stroke: #dc143c; stroke-width: 2.2"/></g><g id="line2d_59"><path d="M 720.15 354.1 L 720.15 40.73 " clip-path="url(#p14ee486469)" style="fill: none; stroke-dasharray: 8.14,3.52; stroke-dashoffset: 0; stroke: #ffa500; stroke-width: 2.2"/></g><g id="patch_69"><path d="M 536.23 354.1 L 536.23 40.73 " style="fill: none; stroke: #000000; stroke-width: 1.25; stroke-linejoin: miter; stroke-linecap: square"/></g><g id="patch_70"><path d="M 536.23 354.1 L 892.8 354.1 " style="fill: none; stroke: #000000; stroke-width: 1.25; stroke-linejoin: miter; stroke-linecap: square"/></g><g id="text_39"><g transform="translate(636.814286 20.091429)"><text xml:space="preserve"><tspan x="0.00" y="-0.86" style="font-style: italic; font-size: 14px; font-family: 'Liberation Sans', sans-serif">T</tspan><tspan x="8.55" y="3.32" style="font-size: 9.8px; font-family: 'Liberation Sans', sans-serif">1</tspan><tspan x="14.70" y="-0.86" style="font-size: 14px; font-family: 'Liberation Sans', sans-serif">/</tspan><tspan x="18.59" y="-0.86" style="font-style: italic; font-size: 14px; font-family: 'Liberation Sans', sans-serif">S</tspan><tspan x="27.93" y="3.32" style="font-size: 9.8px; font-family: 'Liberation Sans', sans-serif">1</tspan><tspan x="34.07" y="-0.86" style="font-weight: 700; font-size: 14px; font-family: 'Liberation Sans', sans-serif"> Ratio Distribution</tspan></text></g></g><g id="legend_2"><g id="patch_71"><path d="M 780.19 81.04 L 885.1 81.04 Q 887.3 81.04 887.3 78.84 L 887.3 48.43 Q 887.3 46.23 885.1 46.23 L 780.19 46.23 Q 777.99 46.23 777.99 48.43 L 777.99 78.84 Q 777.99 81.04 780.19 81.04 z " style="fill: #ffffff; opacity: 0.8; stroke: #cccccc; stroke-linejoin: miter"/></g><g id="line2d_60"><path d="M 782.39 54.75 L 793.39 54.75 L 804.39 54.75 " style="fill: none; stroke-dasharray: 8.14,3.52; stroke-dashoffset: 0; stroke: #dc143c; stroke-width: 2.2"/></g><g id="text_40"><text style="font-size: 11px; font-family: 'Liberation Sans', sans-serif; text-anchor: start" x="813.189219" y="58.602991" transform="rotate(-0 813.189219 58.602991)">Mean: 0.709</text></g><g id="line2d_61"><path d="M 782.39 70.51 L 793.39 70.51 L 804.39 70.51 " style="fill: none; stroke-dasharray: 8.14,3.52; stroke-dashoffset: 0; stroke: #ffa500; stroke-width: 2.2"/></g><g id="text_41"><text style="font-size: 11px; font-family: 'Liberation Sans', sans-serif; text-anchor: start" x="813.189219" y="74.357054" transform="rotate(-0 813.189219 74.357054)">Median: 0.719</text></g></g></g><g id="axes_4"><g id="patch_72"><path d="M 1034.95 354.1 L 1320.07 354.1 L 1320.07 40.73 L 1034.95 40.73 z " style="fill: #ffffff"/></g><g id="matplotlib.axis_7"><g id="xtick_13"><g id="line2d_62"><path d="M 1055.64 354.1 L 1055.64 40.73 " clip-path="url(#pe85ff628f5)" style="fill: none; stroke: #b0b0b0; stroke-opacity: 0.3; stroke-width: 0.8; stroke-linecap: square"/></g><g id="line2d_63"><g><use href="#me52e4beeaa" x="1055.637361" y="354.102857" style="stroke: #000000; stroke-width: 1.2"/></g></g><g id="text_42"><text style="font-size: 12px; font-family: 'Liberation Sans', sans-serif; text-anchor: middle" x="1055.637361" y="370.849107" transform="rotate(-0 1055.637361 370.849107)">0.0</text></g></g><g id="xtick_14"><g id="line2d_64"><path d="M 1097.52 354.1 L 1097.52 40.73 " clip-path="url(#pe85ff628f5)" style="fill: none; stroke: #b0b0b0; stroke-opacity: 0.3; stroke-width: 0.8; stroke-linecap: square"/></g><g id="line2d_65"><g><use href="#me52e4beeaa" x="1097.517502" y="354.102857" style="stroke: #000000; stroke-width: 1.2"/></g></g><g id="text_43"><text style="font-size: 12px; font-family: 'Liberation Sans', sans-serif; text-anchor: middle" x="1097.517502" y="370.849107" transform="rotate(-0 1097.517502 370.849107)">0.5</text></g></g><g id="xtick_15"><g id="line2d_66"><path d="M 1139.4 354.1 L 1139.4 40.73 " clip-path="url(#pe85ff628f5)" style="fill: none; stroke: #b0b0b0; stroke-opacity: 0.3; stroke-width: 0.8; stroke-linecap: square"/></g><g id="line2d_67"><g><use href="#me52e4beeaa" x="1139.397643" y="354.102857" style="stroke: #000000; stroke-width: 1.2"/></g></g><g id="text_44"><text style="font-size: 12px; font-family: 'Liberation Sans', sans-serif; text-anchor: middle" x="1139.397643" y="370.849107" transform="rotate(-0 1139.397643 370.849107)">1.0</text></g></g><g id="xtick_16"><g id="line2d_68"><path d="M 1181.28 354.1 L 1181.28 40.73 " clip-path="url(#pe85ff628f5)" style="fill: none; stroke: #b0b0b0; stroke-opacity: 0.3; stroke-width: 0.8; stroke-linecap: square"/></g><g id="line2d_69"><g><use href="#me52e4beeaa" x="1181.277784" y="354.102857" style="stroke: #000000; stroke-width: 1.2"/></g></g><g id="text_45"><text style="font-size: 12px; font-family: 'Liberation Sans', sans-serif; text-anchor: middle" x="1181.277784" y="370.849107" transform="rotate(-0 1181.277784 370.849107)">1.5</text></g></g><g id="xtick_17"><g id="line2d_70"><path d="M 1223.16 354.1 L 1223.16 40.73 " clip-path="url(#pe85ff628f5)" style="fill: none; stroke: #b0b0b0; stroke-opacity: 0.3; stroke-width: 0.8; stroke-linecap: square"/></g><g id="line2d_71"><g><use href="#me52e4beeaa" x="1223.157925" y="354.102857" style="stroke: #000000; stroke-width: 1.2"/></g></g><g id="text_46"><text style="font-size: 12px; font-family: 'Liberation Sans', sans-serif; text-anchor: middle" x="1223.157925" y="370.849107" transform="rotate(-0 1223.157925 370.849107)">2.0</text></g></g><g id="xtick_18"><g id="line2d_72"><path d="M 1265.04 354.1 L 1265.04 40.73 " clip-path="url(#pe85ff628f5)" style="fill: none; stroke: #b0b0b0; stroke-opacity: 0.3; stroke-width: 0.8; stroke-linecap: square"/></g><g id="line2d_73"><g><use href="#me52e4beeaa" x="1265.038066" y="354.102857" style="stroke: #000000; stroke-width: 1.2"/></g></g><g id="text_47"><text style="font-size: 12px; font-family: 'Liberation Sans', sans-serif; text-anchor: middle" x="1265.038066" y="370.849107" transform="rotate(-0 1265.038066 370.849107)">2.5</text></g></g><g id="xtick_19"><g id="line2d_74"><path d="M 1306.92 354.1 L 1306.92 40.73 " clip-path="url(#pe85ff628f5)" style="fill: none; stroke: #b0b0b0; stroke-opacity: 0.3; stroke-width: 0.8; stroke-linecap: square"/></g><g id="line2d_75"><g><use href="#me52e4beeaa" x="1306.918207" y="354.102857" style="stroke: #000000; stroke-width: 1.2"/></g></g><g id="text_48"><text style="font-size: 12px; font-family: 'Liberation Sans', sans-serif; text-anchor: middle" x="1306.918207" y="370.849107" transform="rotate(-0 1306.918207 370.849107)">3.0</text></g></g><g id="text_49"><g transform="translate(1105.098571 387.239107)"><text xml:space="preserve"><tspan x="0.00" y="-0.58" style="font-weight: 700; font-size: 13px; font-family: 'Liberation Sans', sans-serif">Energy Gap </tspan><tspan x="76.58" y="-0.58" style="font-style: italic; font-size: 13px; font-family: 'Liberation Sans', sans-serif">S</tspan><tspan x="85.25" y="3.30" style="font-size: 9.1px; font-family: 'Liberation Sans', sans-serif">1</tspan><tspan x="93.12" y="-0.58" style="font-size: 13px; font-family: 'Liberation Sans', sans-serif">−</tspan><tspan x="102.88" y="-0.58" style="font-style: italic; font-size: 13px; font-family: 'Liberation Sans', sans-serif">T</tspan><tspan x="110.82" y="3.30" style="font-size: 9.1px; font-family: 'Liberation Sans', sans-serif">1</tspan><tspan x="116.53" y="-0.58" style="font-weight: 700; font-size: 13px; font-family: 'Liberation Sans', sans-serif"> (eV)</tspan></text></g></g></g><g id="matplotlib.axis_8"><g id="ytick_20"><g id="line2d_76"><path d="M 1034.95 337.55 L 1320.07 337.55 " clip-path="url(#pe85ff628f5)" style="fill: none; stroke: #b0b0b0; stroke-opacity: 0.3; stroke-width: 0.8; stroke-linecap: square"/></g><g id="line2d_77"><g><use href="#m4d9286fa7c" x="1034.948571" y="337.547385" style="stroke: #000000; stroke-width: 1.2"/></g></g><g id="text_50"><text style="font-size: 12px; font-family: 'Liberation Sans', sans-serif; text-anchor: end" x="1027.948571" y="341.89551" transform="rotate(-0 1027.948571 341.89551)">0.4</text></g></g><g id="ytick_21"><g id="line2d_78"><path d="M 1034.95 292.07 L 1320.07 292.07 " clip-path="url(#pe85ff628f5)" style="fill: none; stroke: #b0b0b0; stroke-opacity: 0.3; stroke-width: 0.8; stroke-linecap: square"/></g><g id="line2d_79"><g><use href="#m4d9286fa7c" x="1034.948571" y="292.06532" style="stroke: #000000; stroke-width: 1.2"/></g></g><g id="text_51"><text style="font-size: 12px; font-family: 'Liberation Sans', sans-serif; text-anchor: end" x="1027.948571" y="296.413445" transform="rotate(-0 1027.948571 296.413445)">0.5</text></g></g><g id="ytick_22"><g id="line2d_80"><path d="M 1034.95 246.58 L 1320.07 246.58 " clip-path="url(#pe85ff628f5)" style="fill: none; stroke: #b0b0b0; stroke-opacity: 0.3; stroke-width: 0.8; stroke-linecap: square"/></g><g id="line2d_81"><g><use href="#m4d9286fa7c" x="1034.948571" y="246.583255" style="stroke: #000000; stroke-width: 1.2"/></g></g><g id="text_52"><text style="font-size: 12px; font-family: 'Liberation Sans', sans-serif; text-anchor: end" x="1027.948571" y="250.93138" transform="rotate(-0 1027.948571 250.93138)">0.6</text></g></g><g id="ytick_23"><g id="line2d_82"><path d="M 1034.95 201.1 L 1320.07 201.1 " clip-path="url(#pe85ff628f5)" style="fill: none; stroke: #b0b0b0; stroke-opacity: 0.3; stroke-width: 0.8; stroke-linecap: square"/></g><g id="line2d_83"><g><use href="#m4d9286fa7c" x="1034.948571" y="201.10119" style="stroke: #000000; stroke-width: 1.2"/></g></g><g id="text_53"><text style="font-size: 12px; font-family: 'Liberation Sans', sans-serif; text-anchor: end" x="1027.948571" y="205.449315" transform="rotate(-0 1027.948571 205.449315)">0.7</text></g></g><g id="ytick_24"><g id="line2d_84"><path d="M 1034.95 155.62 L 1320.07 155.62 " clip-path="url(#pe85ff628f5)" style="fill: none; stroke: #b0b0b0; stroke-opacity: 0.3; stroke-width: 0.8; stroke-linecap: square"/></g><g id="line2d_85"><g><use href="#m4d9286fa7c" x="1034.948571" y="155.619125" style="stroke: #000000; stroke-width: 1.2"/></g></g><g id="text_54"><text style="font-size: 12px; font-family: 'Liberation Sans', sans-serif; text-anchor: end" x="1027.948571" y="159.96725" transform="rotate(-0 1027.948571 159.96725)">0.8</text></g></g><g id="ytick_25"><g id="line2d_86"><path d="M 1034.95 110.14 L 1320.07 110.14 " clip-path="url(#pe85ff628f5)" style="fill: none; stroke: #b0b0b0; stroke-opacity: 0.3; stroke-width: 0.8; stroke-linecap: square"/></g><g id="line2d_87"><g><use href="#m4d9286fa7c" x="1034.948571" y="110.13706" style="stroke: #000000; stroke-width: 1.2"/></g></g><g id="text_55"><text style="font-size: 12px; font-family: 'Liberation Sans', sans-serif; text-anchor: end" x="1027.948571" y="114.485185" transform="rotate(-0 1027.948571 114.485185)">0.9</text></g></g><g id="ytick_26"><g id="line2d_88"><path d="M 1034.95 64.65 L 1320.07 64.65 " clip-path="url(#pe85ff628f5)" style="fill: none; stroke: #b0b0b0; stroke-opacity: 0.3; stroke-width: 0.8; stroke-linecap: square"/></g><g id="line2d_89"><g><use href="#m4d9286fa7c" x="1034.948571" y="64.654995" style="stroke: #000000; stroke-width: 1.2"/></g></g><g id="text_56"><text style="font-size: 12px; font-family: 'Liberation Sans', sans-serif; text-anchor: end" x="1027.948571" y="69.00312" transform="rotate(-0 1027.948571 69.00312)">1.0</text></g></g><g id="text_57"><g transform="translate(1001.868571 231.347143) rotate(-90)"><text xml:space="preserve"><tspan x="0.00" y="-0.58" style="font-style: italic; font-size: 13px; font-family: 'Liberation Sans', sans-serif">T</tspan><tspan x="7.94" y="3.30" style="font-size: 9.1px; font-family: 'Liberation Sans', sans-serif">1</tspan><tspan x="13.65" y="-0.58" style="font-size: 13px; font-family: 'Liberation Sans', sans-serif">/</tspan><tspan x="17.26" y="-0.58" style="font-style: italic; font-size: 13px; font-family: 'Liberation Sans', sans-serif">S</tspan><tspan x="25.93" y="3.30" style="font-size: 9.1px; font-family: 'Liberation Sans', sans-serif">1</tspan><tspan x="31.64" y="-0.58" style="font-weight: 700; font-size: 13px; font-family: 'Liberation Sans', sans-serif"> Ratio</tspan></text></g></g></g><g id="cloud_c"><g transform="scale(0.68571429)"><clipPath id="xc"><rect x="1509.30" y="59.40" width="415.80" height="457.00"/></clipPath><g clip-path="url(#xc)"><clipPath id="kc"><path d="M1539.5 94.3L1565.3 117L1591.1 139.8L1617 162.5L1642.8 185.2L1668.6 207.9L1694.4 230.7L1720.3 253.4L1746.1 276.1L1771.9 298.9L1797.8 321.6L1823.6 344.3L1816 353.8L1809.8 378.3L1822.1 390.6L1837.4 396.7L1828.2 406L1822.1 412.1L1828.2 425.9L1822.1 430.5L1837.4 442.8L1849.7 453.5L1862 465.8L1865.1 479.6L1863.5 493.4L1852.8 494.2L1837.4 485.8L1816 475L1803.7 468.9L1800.6 476.6L1794.5 473.5L1780.7 475L1765.3 472L1763.8 496.5L1664.1 495.6L1661.1 495.6L1643.8 438.3L1626.4 381L1609 323.6L1591.6 266.3L1574.2 209L1556.9 151.6L1539.5 94.3Z"/><path d="M1539.5 94.3L1523.4 80.2L1535.2 80.2Z"/></clipPath><g clip-path="url(#kc)"><path fill="#0d0887" stroke="#0d0887" stroke-width="1" d="M1539.5 94.3L1926.5 1543.5L1933.9 1541.5ZM1539.5 94.3L1152.5 -1354.9L1145 -1352.9Z"/><path fill="#0d0887" stroke="#0d0887" stroke-width="1" d="M1539.5 94.3L1933.9 1541.5L1941.3 1539.5ZM1539.5 94.3L1145 -1352.9L1137.6 -1350.9Z"/><path fill="#0d0887" stroke="#0d0887" stroke-width="1" d="M1539.5 94.3L1941.3 1539.5L1948.7 1537.4ZM1539.5 94.3L1137.6 -1350.9L1130.2 -1348.8Z"/><path fill="#0d0887" stroke="#0d0887" stroke-width="1" d="M1539.5 94.3L1948.7 1537.4L1956.1 1535.3ZM1539.5 94.3L1130.2 -1348.8L1122.8 -1346.7Z"/><path fill="#0d0887" stroke="#0d0887" stroke-width="1" d="M1539.5 94.3L1956.1 1535.3L1963.4 1533.1ZM1539.5 94.3L1122.8 -1346.7L1115.5 -1344.5Z"/><path fill="#0d0887" stroke="#0d0887" stroke-width="1" d="M1539.5 94.3L1963.4 1533.1L1970.7 1531ZM1539.5 94.3L1115.5 -1344.5L1108.2 -1342.4Z"/><path fill="#0d0887" stroke="#0d0887" stroke-width="1" d="M1539.5 94.3L1970.7 1531L1978 1528.8ZM1539.5 94.3L1108.2 -1342.4L1100.9 -1340.2Z"/><path fill="#100788" stroke="#100788" stroke-width="1" d="M1539.5 94.3L1978 1528.8L1985.2 1526.5ZM1539.5 94.3L1100.9 -1340.2L1093.7 -1337.9Z"/><path fill="#16078a" stroke="#16078a" stroke-width="1" d="M1539.5 94.3L1985.2 1526.5L1992.4 1524.3ZM1539.5 94.3L1093.7 -1337.9L1086.5 -1335.7Z"/><path fill="#1b068d" stroke="#1b068d" stroke-width="1" d="M1539.5 94.3L1992.4 1524.3L1999.6 1522ZM1539.5 94.3L1086.5 -1335.7L1079.4 -1333.4Z"/><path fill="#1d068e" stroke="#1d068e" stroke-width="1" d="M1539.5 94.3L1999.6 1522L2006.7 1519.7ZM1539.5 94.3L1079.4 -1333.4L1072.2 -1331.1Z"/><path fill="#220690" stroke="#220690" stroke-width="1" d="M1539.5 94.3L2006.7 1519.7L2013.8 1517.3ZM1539.5 94.3L1072.2 -1331.1L1065.1 -1328.7Z"/><path fill="#260591" stroke="#260591" stroke-width="1" d="M1539.5 94.3L2013.8 1517.3L2020.9 1514.9ZM1539.5 94.3L1065.1 -1328.7L1058.1 -1326.4Z"/><path fill="#280592" stroke="#280592" stroke-width="1" d="M1539.5 94.3L2020.9 1514.9L2027.9 1512.5ZM1539.5 94.3L1058.1 -1326.4L1051.1 -1324Z"/><path fill="#2c0594" stroke="#2c0594" stroke-width="1" d="M1539.5 94.3L2027.9 1512.5L2034.9 1510.1ZM1539.5 94.3L1051.1 -1324L1044.1 -1321.5Z"/><path fill="#2f0596" stroke="#2f0596" stroke-width="1" d="M1539.5 94.3L2034.9 1510.1L2041.8 1507.7ZM1539.5 94.3L1044.1 -1321.5L1037.1 -1319.1Z"/><path fill="#310597" stroke="#310597" stroke-width="1" d="M1539.5 94.3L2041.8 1507.7L2048.7 1505.2ZM1539.5 94.3L1037.1 -1319.1L1030.2 -1316.6Z"/><path fill="#350498" stroke="#350498" stroke-width="1" d="M1539.5 94.3L2048.7 1505.2L2055.6 1502.7ZM1539.5 94.3L1030.2 -1316.6L1023.3 -1314.1Z"/><path fill="#38049a" stroke="#38049a" stroke-width="1" d="M1539.5 94.3L2055.6 1502.7L2062.5 1500.2ZM1539.5 94.3L1023.3 -1314.1L1016.5 -1311.6Z"/><path fill="#3a049a" stroke="#3a049a" stroke-width="1" d="M1539.5 94.3L2062.5 1500.2L2069.3 1497.6ZM1539.5 94.3L1016.5 -1311.6L1009.7 -1309Z"/><path fill="#3e049c" stroke="#3e049c" stroke-width="1" d="M1539.5 94.3L2069.3 1497.6L2076 1495ZM1539.5 94.3L1009.7 -1309L1002.9 -1306.5Z"/><path fill="#41049d" stroke="#41049d" stroke-width="1" d="M1539.5 94.3L2076 1495L2082.8 1492.4ZM1539.5 94.3L1002.9 -1306.5L996.2 -1303.9Z"/><path fill="#44039e" stroke="#44039e" stroke-width="1" d="M1539.5 94.3L2082.8 1492.4L2089.5 1489.8ZM1539.5 94.3L996.2 -1303.9L989.5 -1301.2Z"/><path fill="#46039f" stroke="#46039f" stroke-width="1" d="M1539.5 94.3L2089.5 1489.8L2096.1 1487.2ZM1539.5 94.3L989.5 -1301.2L982.8 -1298.6Z"/><path fill="#4903a0" stroke="#4903a0" stroke-width="1" d="M1539.5 94.3L2096.1 1487.2L2102.7 1484.5ZM1539.5 94.3L982.8 -1298.6L976.2 -1295.9Z"/><path fill="#4c02a1" stroke="#4c02a1" stroke-width="1" d="M1539.5 94.3L2102.7 1484.5L2109.3 1481.8ZM1539.5 94.3L976.2 -1295.9L969.6 -1293.3Z"/><path fill="#4e02a2" stroke="#4e02a2" stroke-width="1" d="M1539.5 94.3L2109.3 1481.8L2115.8 1479.1ZM1539.5 94.3L969.6 -1293.3L963.1 -1290.6Z"/><path fill="#5102a3" stroke="#5102a3" stroke-width="1" d="M1539.5 94.3L2115.8 1479.1L2122.4 1476.4ZM1539.5 94.3L963.1 -1290.6L956.6 -1287.8Z"/><path fill="#5502a4" stroke="#5502a4" stroke-width="1" d="M1539.5 94.3L2122.4 1476.4L2128.8 1473.7ZM1539.5 94.3L956.6 -1287.8L950.1 -1285.1Z"/><path fill="#5601a4" stroke="#5601a4" stroke-width="1" d="M1539.5 94.3L2128.8 1473.7L2135.2 1470.9ZM1539.5 94.3L950.1 -1285.1L943.7 -1282.3Z"/><path fill="#5901a5" stroke="#5901a5" stroke-width="1" d="M1539.5 94.3L2135.2 1470.9L2141.6 1468.1ZM1539.5 94.3L943.7 -1282.3L937.3 -1279.5Z"/><path fill="#5c01a6" stroke="#5c01a6" stroke-width="1" d="M1539.5 94.3L2141.6 1468.1L2148 1465.3ZM1539.5 94.3L937.3 -1279.5L931 -1276.7Z"/><path fill="#5e01a6" stroke="#5e01a6" stroke-width="1" d="M1539.5 94.3L2148 1465.3L2154.3 1462.5ZM1539.5 94.3L931 -1276.7L924.7 -1273.9Z"/><path fill="#6100a7" stroke="#6100a7" stroke-width="1" d="M1539.5 94.3L2154.3 1462.5L2160.6 1459.7ZM1539.5 94.3L924.7 -1273.9L918.4 -1271.1Z"/><path fill="#6400a7" stroke="#6400a7" stroke-width="1" d="M1539.5 94.3L2160.6 1459.7L2166.8 1456.8ZM1539.5 94.3L918.4 -1271.1L912.2 -1268.2Z"/><path fill="#6700a8" stroke="#6700a8" stroke-width="1" d="M1539.5 94.3L2166.8 1456.8L2173 1453.9ZM1539.5 94.3L912.2 -1268.2L906 -1265.4Z"/><path fill="#6900a8" stroke="#6900a8" stroke-width="1" d="M1539.5 94.3L2173 1453.9L2179.1 1451.1ZM1539.5 94.3L906 -1265.4L899.8 -1262.5Z"/><path fill="#6c00a8" stroke="#6c00a8" stroke-width="1" d="M1539.5 94.3L2179.1 1451.1L2185.2 1448.2ZM1539.5 94.3L899.8 -1262.5L893.7 -1259.6Z"/><path fill="#6f00a8" stroke="#6f00a8" stroke-width="1" d="M1539.5 94.3L2185.2 1448.2L2191.3 1445.3ZM1539.5 94.3L893.7 -1259.6L887.6 -1256.7Z"/><path fill="#7100a8" stroke="#7100a8" stroke-width="1" d="M1539.5 94.3L2191.3 1445.3L2197.3 1442.3ZM1539.5 94.3L887.6 -1256.7L881.6 -1253.7Z"/><path fill="#7401a8" stroke="#7401a8" stroke-width="1" d="M1539.5 94.3L2197.3 1442.3L2203.3 1439.4ZM1539.5 94.3L881.6 -1253.7L875.6 -1250.8Z"/><path fill="#7701a8" stroke="#7701a8" stroke-width="1" d="M1539.5 94.3L2203.3 1439.4L2209.3 1436.4ZM1539.5 94.3L875.6 -1250.8L869.6 -1247.8Z"/><path fill="#7801a8" stroke="#7801a8" stroke-width="1" d="M1539.5 94.3L2209.3 1436.4L2215.2 1433.5ZM1539.5 94.3L869.6 -1247.8L863.7 -1244.9Z"/><path fill="#7b02a8" stroke="#7b02a8" stroke-width="1" d="M1539.5 94.3L2215.2 1433.5L2221.1 1430.5ZM1539.5 94.3L863.7 -1244.9L857.8 -1241.9Z"/><path fill="#7e03a8" stroke="#7e03a8" stroke-width="1" d="M1539.5 94.3L2221.1 1430.5L2226.9 1427.5ZM1539.5 94.3L857.8 -1241.9L852 -1238.9Z"/><path fill="#8004a8" stroke="#8004a8" stroke-width="1" d="M1539.5 94.3L2226.9 1427.5L2232.7 1424.5ZM1539.5 94.3L852 -1238.9L846.2 -1235.9Z"/><path fill="#8305a7" stroke="#8305a7" stroke-width="1" d="M1539.5 94.3L2232.7 1424.5L2238.5 1421.5ZM1539.5 94.3L846.2 -1235.9L840.5 -1232.9Z"/><path fill="#8606a6" stroke="#8606a6" stroke-width="1" d="M1539.5 94.3L2238.5 1421.5L2244.2 1418.4ZM1539.5 94.3L840.5 -1232.9L834.7 -1229.8Z"/><path fill="#8808a6" stroke="#8808a6" stroke-width="1" d="M1539.5 94.3L2244.2 1418.4L2249.9 1415.4ZM1539.5 94.3L834.7 -1229.8L829 -1226.8Z"/><path fill="#8a09a5" stroke="#8a09a5" stroke-width="1" d="M1539.5 94.3L2249.9 1415.4L2255.5 1412.3ZM1539.5 94.3L829 -1226.8L823.4 -1223.8Z"/><path fill="#8d0ba5" stroke="#8d0ba5" stroke-width="1" d="M1539.5 94.3L2255.5 1412.3L2261.1 1409.3ZM1539.5 94.3L823.4 -1223.8L817.8 -1220.7Z"/><path fill="#8f0da4" stroke="#8f0da4" stroke-width="1" d="M1539.5 94.3L2261.1 1409.3L2266.7 1406.2ZM1539.5 94.3L817.8 -1220.7L812.2 -1217.6Z"/><path fill="#910ea3" stroke="#910ea3" stroke-width="1" d="M1539.5 94.3L2266.7 1406.2L2272.2 1403.1ZM1539.5 94.3L812.2 -1217.6L806.7 -1214.6Z"/><path fill="#9410a2" stroke="#9410a2" stroke-width="1" d="M1539.5 94.3L2272.2 1403.1L2277.7 1400ZM1539.5 94.3L806.7 -1214.6L801.2 -1211.5Z"/><path fill="#9613a1" stroke="#9613a1" stroke-width="1" d="M1539.5 94.3L2277.7 1400L2283.2 1397ZM1539.5 94.3L801.2 -1211.5L795.8 -1208.4Z"/><path fill="#9814a0" stroke="#9814a0" stroke-width="1" d="M1539.5 94.3L2283.2 1397L2288.6 1393.8ZM1539.5 94.3L795.8 -1208.4L790.4 -1205.3Z"/><path fill="#9a169f" stroke="#9a169f" stroke-width="1" d="M1539.5 94.3L2288.6 1393.8L2293.9 1390.7ZM1539.5 94.3L790.4 -1205.3L785 -1202.2Z"/><path fill="#9d189d" stroke="#9d189d" stroke-width="1" d="M1539.5 94.3L2293.9 1390.7L2299.3 1387.6ZM1539.5 94.3L785 -1202.2L779.7 -1199Z"/><path fill="#9e199d" stroke="#9e199d" stroke-width="1" d="M1539.5 94.3L2299.3 1387.6L2304.6 1384.5ZM1539.5 94.3L779.7 -1199L774.4 -1195.9Z"/><path fill="#a11b9b" stroke="#a11b9b" stroke-width="1" d="M1539.5 94.3L2304.6 1384.5L2309.8 1381.4ZM1539.5 94.3L774.4 -1195.9L769.1 -1192.8Z"/><path fill="#a31e9a" stroke="#a31e9a" stroke-width="1" d="M1539.5 94.3L2309.8 1381.4L2315 1378.2ZM1539.5 94.3L769.1 -1192.8L763.9 -1189.7Z"/><path fill="#a62098" stroke="#a62098" stroke-width="1" d="M1539.5 94.3L2315 1378.2L2320.2 1375.1ZM1539.5 94.3L763.9 -1189.7L758.7 -1186.5Z"/><path fill="#a72197" stroke="#a72197" stroke-width="1" d="M1539.5 94.3L2320.2 1375.1L2325.4 1371.9ZM1539.5 94.3L758.7 -1186.5L753.6 -1183.4Z"/><path fill="#aa2395" stroke="#aa2395" stroke-width="1" d="M1539.5 94.3L2325.4 1371.9L2330.5 1368.8ZM1539.5 94.3L753.6 -1183.4L748.5 -1180.2Z"/><path fill="#ac2694" stroke="#ac2694" stroke-width="1" d="M1539.5 94.3L2330.5 1368.8L2335.5 1365.6ZM1539.5 94.3L748.5 -1180.2L743.4 -1177.1Z"/><path fill="#ad2793" stroke="#ad2793" stroke-width="1" d="M1539.5 94.3L2335.5 1365.6L2340.5 1362.5ZM1539.5 94.3L743.4 -1177.1L738.4 -1173.9Z"/><path fill="#b02991" stroke="#b02991" stroke-width="1" d="M1539.5 94.3L2340.5 1362.5L2345.5 1359.3ZM1539.5 94.3L738.4 -1173.9L733.4 -1170.7Z"/><path fill="#b22b8f" stroke="#b22b8f" stroke-width="1" d="M1539.5 94.3L2345.5 1359.3L2350.5 1356.1ZM1539.5 94.3L733.4 -1170.7L728.5 -1167.6Z"/><path fill="#b32c8e" stroke="#b32c8e" stroke-width="1" d="M1539.5 94.3L2350.5 1356.1L2355.4 1353ZM1539.5 94.3L728.5 -1167.6L723.5 -1164.4Z"/><path fill="#b52f8c" stroke="#b52f8c" stroke-width="1" d="M1539.5 94.3L2355.4 1353L2360.3 1349.8ZM1539.5 94.3L723.5 -1164.4L718.7 -1161.2Z"/><path fill="#b7318a" stroke="#b7318a" stroke-width="1" d="M1539.5 94.3L2360.3 1349.8L2365.1 1346.6ZM1539.5 94.3L718.7 -1161.2L713.8 -1158Z"/><path fill="#b83289" stroke="#b83289" stroke-width="1" d="M1539.5 94.3L2365.1 1346.6L2369.9 1343.4ZM1539.5 94.3L713.8 -1158L709 -1154.8Z"/><path fill="#bb3488" stroke="#bb3488" stroke-width="1" d="M1539.5 94.3L2369.9 1343.4L2374.7 1340.2ZM1539.5 94.3L709 -1154.8L704.2 -1151.7Z"/><path fill="#bd3786" stroke="#bd3786" stroke-width="1" d="M1539.5 94.3L2374.7 1340.2L2379.4 1337.1ZM1539.5 94.3L704.2 -1151.7L699.5 -1148.5Z"/><path fill="#bf3984" stroke="#bf3984" stroke-width="1" d="M1539.5 94.3L2379.4 1337.1L2384.1 1333.9ZM1539.5 94.3L699.5 -1148.5L694.8 -1145.3Z"/><path fill="#c03a83" stroke="#c03a83" stroke-width="1" d="M1539.5 94.3L2384.1 1333.9L2388.8 1330.7ZM1539.5 94.3L694.8 -1145.3L690.2 -1142.1Z"/><path fill="#c23c81" stroke="#c23c81" stroke-width="1" d="M1539.5 94.3L2388.8 1330.7L2393.4 1327.5ZM1539.5 94.3L690.2 -1142.1L685.5 -1138.9Z"/><path fill="#c43e7f" stroke="#c43e7f" stroke-width="1" d="M1539.5 94.3L2393.4 1327.5L2398 1324.3ZM1539.5 94.3L685.5 -1138.9L681 -1135.7Z"/><path fill="#c5407e" stroke="#c5407e" stroke-width="1" d="M1539.5 94.3L2398 1324.3L2402.5 1321.1ZM1539.5 94.3L681 -1135.7L676.4 -1132.5Z"/><path fill="#c7427c" stroke="#c7427c" stroke-width="1" d="M1539.5 94.3L2402.5 1321.1L2407.1 1317.9ZM1539.5 94.3L676.4 -1132.5L671.9 -1129.4Z"/><path fill="#c9447a" stroke="#c9447a" stroke-width="1" d="M1539.5 94.3L2407.1 1317.9L2411.5 1314.7ZM1539.5 94.3L671.9 -1129.4L667.4 -1126.2Z"/><path fill="#ca457a" stroke="#ca457a" stroke-width="1" d="M1539.5 94.3L2411.5 1314.7L2416 1311.5ZM1539.5 94.3L667.4 -1126.2L663 -1123Z"/><path fill="#cc4778" stroke="#cc4778" stroke-width="1" d="M1539.5 94.3L2416 1311.5L2420.4 1308.4ZM1539.5 94.3L663 -1123L658.5 -1119.8Z"/><path fill="#cd4a76" stroke="#cd4a76" stroke-width="1" d="M1539.5 94.3L2420.4 1308.4L2424.8 1305.2ZM1539.5 94.3L658.5 -1119.8L654.2 -1116.6Z"/><path fill="#cf4c74" stroke="#cf4c74" stroke-width="1" d="M1539.5 94.3L2424.8 1305.2L2429.1 1302ZM1539.5 94.3L654.2 -1116.6L649.8 -1113.4Z"/><path fill="#d04d73" stroke="#d04d73" stroke-width="1" d="M1539.5 94.3L2429.1 1302L2433.4 1298.8ZM1539.5 94.3L649.8 -1113.4L645.5 -1110.2Z"/><path fill="#d24f71" stroke="#d24f71" stroke-width="1" d="M1539.5 94.3L2433.4 1298.8L2437.7 1295.6ZM1539.5 94.3L645.5 -1110.2L641.2 -1107Z"/><path fill="#d45270" stroke="#d45270" stroke-width="1" d="M1539.5 94.3L2437.7 1295.6L2441.9 1292.4ZM1539.5 94.3L641.2 -1107L637 -1103.9Z"/><path fill="#d5536f" stroke="#d5536f" stroke-width="1" d="M1539.5 94.3L2441.9 1292.4L2446.1 1289.3ZM1539.5 94.3L637 -1103.9L632.8 -1100.7Z"/><path fill="#d6556d" stroke="#d6556d" stroke-width="1" d="M1539.5 94.3L2446.1 1289.3L2450.3 1286.1ZM1539.5 94.3L632.8 -1100.7L628.6 -1097.5Z"/><path fill="#d8576b" stroke="#d8576b" stroke-width="1" d="M1539.5 94.3L2450.3 1286.1L2454.5 1282.9ZM1539.5 94.3L628.6 -1097.5L624.5 -1094.3Z"/><path fill="#d9586a" stroke="#d9586a" stroke-width="1" d="M1539.5 94.3L2454.5 1282.9L2458.6 1279.7ZM1539.5 94.3L624.5 -1094.3L620.4 -1091.2Z"/><path fill="#da5b69" stroke="#da5b69" stroke-width="1" d="M1539.5 94.3L2458.6 1279.7L2462.6 1276.6ZM1539.5 94.3L620.4 -1091.2L616.3 -1088Z"/><path fill="#dc5d67" stroke="#dc5d67" stroke-width="1" d="M1539.5 94.3L2462.6 1276.6L2466.7 1273.4ZM1539.5 94.3L616.3 -1088L612.3 -1084.8Z"/><path fill="#dd5e66" stroke="#dd5e66" stroke-width="1" d="M1539.5 94.3L2466.7 1273.4L2470.7 1270.2ZM1539.5 94.3L612.3 -1084.8L608.3 -1081.7Z"/><path fill="#de6164" stroke="#de6164" stroke-width="1" d="M1539.5 94.3L2470.7 1270.2L2474.7 1267.1ZM1539.5 94.3L608.3 -1081.7L604.3 -1078.5Z"/><path fill="#e06363" stroke="#e06363" stroke-width="1" d="M1539.5 94.3L2474.7 1267.1L2478.6 1263.9ZM1539.5 94.3L604.3 -1078.5L600.3 -1075.3Z"/><path fill="#e26561" stroke="#e26561" stroke-width="1" d="M1539.5 94.3L2478.6 1263.9L2482.5 1260.8ZM1539.5 94.3L600.3 -1075.3L596.4 -1072.2Z"/><path fill="#e26660" stroke="#e26660" stroke-width="1" d="M1539.5 94.3L2482.5 1260.8L2486.4 1257.6ZM1539.5 94.3L596.4 -1072.2L592.5 -1069Z"/><path fill="#e4695e" stroke="#e4695e" stroke-width="1" d="M1539.5 94.3L2486.4 1257.6L2490.3 1254.5ZM1539.5 94.3L592.5 -1069L588.7 -1065.9Z"/><path fill="#e56b5d" stroke="#e56b5d" stroke-width="1" d="M1539.5 94.3L2490.3 1254.5L2494.1 1251.3ZM1539.5 94.3L588.7 -1065.9L584.9 -1062.7Z"/><path fill="#e66c5c" stroke="#e66c5c" stroke-width="1" d="M1539.5 94.3L2494.1 1251.3L2497.9 1248.2ZM1539.5 94.3L584.9 -1062.7L581.1 -1059.6Z"/><path fill="#e76f5a" stroke="#e76f5a" stroke-width="1" d="M1539.5 94.3L2497.9 1248.2L2501.6 1245.1ZM1539.5 94.3L581.1 -1059.6L577.3 -1056.5Z"/><path fill="#e97158" stroke="#e97158" stroke-width="1" d="M1539.5 94.3L2501.6 1245.1L2505.3 1241.9ZM1539.5 94.3L577.3 -1056.5L573.6 -1053.4Z"/><path fill="#e97257" stroke="#e97257" stroke-width="1" d="M1539.5 94.3L2505.3 1241.9L2509 1238.8ZM1539.5 94.3L573.6 -1053.4L569.9 -1050.2Z"/><path fill="#eb7556" stroke="#eb7556" stroke-width="1" d="M1539.5 94.3L2509 1238.8L2512.7 1235.7ZM1539.5 94.3L569.9 -1050.2L566.2 -1047.1Z"/><path fill="#ec7754" stroke="#ec7754" stroke-width="1" d="M1539.5 94.3L2512.7 1235.7L2516.3 1232.6ZM1539.5 94.3L566.2 -1047.1L562.6 -1044Z"/><path fill="#ed7953" stroke="#ed7953" stroke-width="1" d="M1539.5 94.3L2516.3 1232.6L2520 1229.5ZM1539.5 94.3L562.6 -1044L559 -1040.9Z"/><path fill="#ee7b51" stroke="#ee7b51" stroke-width="1" d="M1539.5 94.3L2520 1229.5L2523.5 1226.4ZM1539.5 94.3L559 -1040.9L555.4 -1037.8Z"/><path fill="#ef7e50" stroke="#ef7e50" stroke-width="1" d="M1539.5 94.3L2523.5 1226.4L2527.1 1223.3ZM1539.5 94.3L555.4 -1037.8L551.9 -1034.7Z"/><path fill="#f0804e" stroke="#f0804e" stroke-width="1" d="M1539.5 94.3L2527.1 1223.3L2530.6 1220.2ZM1539.5 94.3L551.9 -1034.7L548.3 -1031.6Z"/><path fill="#f1814d" stroke="#f1814d" stroke-width="1" d="M1539.5 94.3L2530.6 1220.2L2534.1 1217.1ZM1539.5 94.3L548.3 -1031.6L544.9 -1028.5Z"/><path fill="#f2844b" stroke="#f2844b" stroke-width="1" d="M1539.5 94.3L2534.1 1217.1L2537.5 1214ZM1539.5 94.3L544.9 -1028.5L541.4 -1025.5Z"/><path fill="#f3874a" stroke="#f3874a" stroke-width="1" d="M1539.5 94.3L2537.5 1214L2541 1211ZM1539.5 94.3L541.4 -1025.5L538 -1022.4Z"/><path fill="#f48849" stroke="#f48849" stroke-width="1" d="M1539.5 94.3L2541 1211L2544.4 1207.9ZM1539.5 94.3L538 -1022.4L534.6 -1019.3Z"/><path fill="#f58b47" stroke="#f58b47" stroke-width="1" d="M1539.5 94.3L2544.4 1207.9L2547.8 1204.8ZM1539.5 94.3L534.6 -1019.3L531.2 -1016.3Z"/><path fill="#f68d45" stroke="#f68d45" stroke-width="1" d="M1539.5 94.3L2547.8 1204.8L2551.1 1201.8ZM1539.5 94.3L531.2 -1016.3L527.8 -1013.2Z"/><path fill="#f68f44" stroke="#f68f44" stroke-width="1" d="M1539.5 94.3L2551.1 1201.8L2554.4 1198.8ZM1539.5 94.3L527.8 -1013.2L524.5 -1010.2Z"/><path fill="#f79143" stroke="#f79143" stroke-width="1" d="M1539.5 94.3L2554.4 1198.8L2557.7 1195.7ZM1539.5 94.3L524.5 -1010.2L521.2 -1007.1Z"/><path fill="#f89441" stroke="#f89441" stroke-width="1" d="M1539.5 94.3L2557.7 1195.7L2561 1192.7ZM1539.5 94.3L521.2 -1007.1L517.9 -1004.1Z"/><path fill="#f89540" stroke="#f89540" stroke-width="1" d="M1539.5 94.3L2561 1192.7L2564.2 1189.7ZM1539.5 94.3L517.9 -1004.1L514.7 -1001.1Z"/><path fill="#f9983e" stroke="#f9983e" stroke-width="1" d="M1539.5 94.3L2564.2 1189.7L2567.5 1186.7ZM1539.5 94.3L514.7 -1001.1L511.5 -998.1Z"/><path fill="#fa9b3d" stroke="#fa9b3d" stroke-width="1" d="M1539.5 94.3L2567.5 1186.7L2570.6 1183.6ZM1539.5 94.3L511.5 -998.1L508.3 -995.1Z"/><path fill="#fa9e3b" stroke="#fa9e3b" stroke-width="1" d="M1539.5 94.3L2570.6 1183.6L2573.8 1180.6ZM1539.5 94.3L508.3 -995.1L505.1 -992.1Z"/><path fill="#fb9f3a" stroke="#fb9f3a" stroke-width="1" d="M1539.5 94.3L2573.8 1180.6L2576.9 1177.6ZM1539.5 94.3L505.1 -992.1L502 -989.1Z"/><path fill="#fba238" stroke="#fba238" stroke-width="1" d="M1539.5 94.3L2576.9 1177.6L2580 1174.7ZM1539.5 94.3L502 -989.1L498.9 -986.1Z"/><path fill="#fca537" stroke="#fca537" stroke-width="1" d="M1539.5 94.3L2580 1174.7L2583.1 1171.7ZM1539.5 94.3L498.9 -986.1L495.8 -983.1Z"/><path fill="#fca636" stroke="#fca636" stroke-width="1" d="M1539.5 94.3L2583.1 1171.7L2586.2 1168.7ZM1539.5 94.3L495.8 -983.1L492.8 -980.1Z"/><path fill="#fca934" stroke="#fca934" stroke-width="1" d="M1539.5 94.3L2586.2 1168.7L2589.2 1165.7ZM1539.5 94.3L492.8 -980.1L489.7 -977.2Z"/><path fill="#fdac33" stroke="#fdac33" stroke-width="1" d="M1539.5 94.3L2589.2 1165.7L2592.2 1162.8ZM1539.5 94.3L489.7 -977.2L486.7 -974.2Z"/><path fill="#fdae32" stroke="#fdae32" stroke-width="1" d="M1539.5 94.3L2592.2 1162.8L2595.2 1159.8ZM1539.5 94.3L486.7 -974.2L483.7 -971.3Z"/><path fill="#fdb130" stroke="#fdb130" stroke-width="1" d="M1539.5 94.3L2595.2 1159.8L2598.2 1156.9ZM1539.5 94.3L483.7 -971.3L480.8 -968.3Z"/><path fill="#fdb42f" stroke="#fdb42f" stroke-width="1" d="M1539.5 94.3L2598.2 1156.9L2601.1 1154ZM1539.5 94.3L480.8 -968.3L477.8 -965.4Z"/><path fill="#fdb52e" stroke="#fdb52e" stroke-width="1" d="M1539.5 94.3L2601.1 1154L2604 1151.1ZM1539.5 94.3L477.8 -965.4L474.9 -962.5Z"/><path fill="#feb82c" stroke="#feb82c" stroke-width="1" d="M1539.5 94.3L2604 1151.1L2606.9 1148.1ZM1539.5 94.3L474.9 -962.5L472 -959.6Z"/><path fill="#febb2b" stroke="#febb2b" stroke-width="1" d="M1539.5 94.3L2606.9 1148.1L2609.8 1145.2ZM1539.5 94.3L472 -959.6L469.2 -956.7Z"/><path fill="#febe2a" stroke="#febe2a" stroke-width="1" d="M1539.5 94.3L2609.8 1145.2L2612.6 1142.3ZM1539.5 94.3L469.2 -956.7L466.3 -953.8Z"/><path fill="#fec029" stroke="#fec029" stroke-width="1" d="M1539.5 94.3L2612.6 1142.3L2615.4 1139.4ZM1539.5 94.3L466.3 -953.8L463.5 -950.9Z"/><path fill="#fdc328" stroke="#fdc328" stroke-width="1" d="M1539.5 94.3L2615.4 1139.4L2618.2 1136.6ZM1539.5 94.3L463.5 -950.9L460.7 -948Z"/><path fill="#fdc627" stroke="#fdc627" stroke-width="1" d="M1539.5 94.3L2618.2 1136.6L2621 1133.7ZM1539.5 94.3L460.7 -948L458 -945.1Z"/><path fill="#fdc827" stroke="#fdc827" stroke-width="1" d="M1539.5 94.3L2621 1133.7L2623.7 1130.8ZM1539.5 94.3L458 -945.1L455.2 -942.2Z"/><path fill="#fdcb26" stroke="#fdcb26" stroke-width="1" d="M1539.5 94.3L2623.7 1130.8L2626.4 1128ZM1539.5 94.3L455.2 -942.2L452.5 -939.4Z"/><path fill="#fcce25" stroke="#fcce25" stroke-width="1" d="M1539.5 94.3L2626.4 1128L2629.1 1125.1ZM1539.5 94.3L452.5 -939.4L449.8 -936.5Z"/><path fill="#fcd025" stroke="#fcd025" stroke-width="1" d="M1539.5 94.3L2629.1 1125.1L2631.8 1122.3ZM1539.5 94.3L449.8 -936.5L447.1 -933.7Z"/><path fill="#fbd324" stroke="#fbd324" stroke-width="1" d="M1539.5 94.3L2631.8 1122.3L2634.5 1119.4ZM1539.5 94.3L447.1 -933.7L444.5 -930.9Z"/><path fill="#fbd724" stroke="#fbd724" stroke-width="1" d="M1539.5 94.3L2634.5 1119.4L2637.1 1116.6ZM1539.5 94.3L444.5 -930.9L441.8 -928.1Z"/><path fill="#fad824" stroke="#fad824" stroke-width="1" d="M1539.5 94.3L2637.1 1116.6L2639.7 1113.8ZM1539.5 94.3L441.8 -928.1L439.2 -925.2Z"/><path fill="#f9dc24" stroke="#f9dc24" stroke-width="1" d="M1539.5 94.3L2639.7 1113.8L2642.3 1111ZM1539.5 94.3L439.2 -925.2L436.6 -922.4Z"/><path fill="#f8df25" stroke="#f8df25" stroke-width="1" d="M1539.5 94.3L2642.3 1111L2644.9 1108.2ZM1539.5 94.3L436.6 -922.4L434.1 -919.6Z"/><path fill="#f7e225" stroke="#f7e225" stroke-width="1" d="M1539.5 94.3L2644.9 1108.2L2647.4 1105.4ZM1539.5 94.3L434.1 -919.6L431.5 -916.9Z"/><path fill="#f7e425" stroke="#f7e425" stroke-width="1" d="M1539.5 94.3L2647.4 1105.4L2650 1102.7ZM1539.5 94.3L431.5 -916.9L429 -914.1Z"/><path fill="#f6e826" stroke="#f6e826" stroke-width="1" d="M1539.5 94.3L2650 1102.7L2652.5 1099.9ZM1539.5 94.3L429 -914.1L426.5 -911.3Z"/><path fill="#f5eb27" stroke="#f5eb27" stroke-width="1" d="M1539.5 94.3L2652.5 1099.9L2655 1097.1ZM1539.5 94.3L426.5 -911.3L424 -908.5Z"/><path fill="#f4ed27" stroke="#f4ed27" stroke-width="1" d="M1539.5 94.3L2655 1097.1L2657.4 1094.4ZM1539.5 94.3L424 -908.5L421.5 -905.8Z"/><path fill="#f3f027" stroke="#f3f027" stroke-width="1" d="M1539.5 94.3L2657.4 1094.4L2659.9 1091.6ZM1539.5 94.3L421.5 -905.8L419.1 -903.1Z"/><path fill="#f1f426" stroke="#f1f426" stroke-width="1" d="M1539.5 94.3L2659.9 1091.6L2662.3 1088.9ZM1539.5 94.3L419.1 -903.1L416.6 -900.3Z"/><path fill="#f1f525" stroke="#f1f525" stroke-width="1" d="M1539.5 94.3L2662.3 1088.9L2664.7 1086.2ZM1539.5 94.3L416.6 -900.3L414.2 -897.6Z"/><path fill="#f0f921" stroke="#f0f921" stroke-width="1" d="M1539.5 94.3L2664.7 1086.2L2667.1 1083.5ZM1539.5 94.3L414.2 -897.6L411.9 -894.9Z"/><path fill="#f0f921" stroke="#f0f921" stroke-width="1" d="M1539.5 94.3L2667.1 1083.5L2669.5 1080.8ZM1539.5 94.3L411.9 -894.9L409.5 -892.2Z"/><path fill="#f0f921" stroke="#f0f921" stroke-width="1" d="M1539.5 94.3L2669.5 1080.8L2671.8 1078.1ZM1539.5 94.3L409.5 -892.2L407.1 -889.5Z"/><path fill="#f0f921" stroke="#f0f921" stroke-width="1" d="M1539.5 94.3L2671.8 1078.1L2674.1 1075.4ZM1539.5 94.3L407.1 -889.5L404.8 -886.8Z"/><path fill="#f0f921" stroke="#f0f921" stroke-width="1" d="M1539.5 94.3L2674.1 1075.4L2676.4 1072.7ZM1539.5 94.3L404.8 -886.8L402.5 -884.1Z"/><path fill="#f0f921" stroke="#f0f921" stroke-width="1" d="M1539.5 94.3L2676.4 1072.7L2678.7 1070ZM1539.5 94.3L402.5 -884.1L400.2 -881.5Z"/><path fill="#f0f921" stroke="#f0f921" stroke-width="1" d="M1539.5 94.3L2678.7 1070L2681 1067.4ZM1539.5 94.3L400.2 -881.5L397.9 -878.8Z"/><path fill="#f0f921" stroke="#f0f921" stroke-width="1" d="M1539.5 94.3L2681 1067.4L2683.3 1064.7ZM1539.5 94.3L397.9 -878.8L395.7 -876.1Z"/><path fill="#f0f921" stroke="#f0f921" stroke-width="1" d="M1539.5 94.3L2683.3 1064.7L2685.5 1062.1ZM1539.5 94.3L395.7 -876.1L393.4 -873.5Z"/><path fill="#f0f921" stroke="#f0f921" stroke-width="1" d="M1539.5 94.3L2685.5 1062.1L2687.7 1059.5ZM1539.5 94.3L393.4 -873.5L391.2 -870.9Z"/><path fill="#f0f921" stroke="#f0f921" stroke-width="1" d="M1539.5 94.3L2687.7 1059.5L2689.9 1056.8ZM1539.5 94.3L391.2 -870.9L389 -868.3Z"/></g><g style="fill:none;stroke-width:6;stroke-linecap:round;stroke-opacity:0.6"><path stroke="#16078a" d="M1631 393h0M1602 302h0M1636 421h0M1543 115h0M1653 468h0M1577 219h0M1563 182h0M1592 274h0M1657 482h0M1547 129h0M1543 117h0M1647 453h0M1649 463h0M1654 476h0M1592 275h0M1617 360h0M1610 334h0M1650 462h0M1658 492h0M1545 117h0M1577 219h0M1616 347h0M1660 490h0M1648 453h0M1649 464h0M1612 333h0M1558 159h0M1634 407h0M1632 400h0M1656 490h0M1625 381h0M1609 329h0M1589 265h0M1627 392h0M1556 147h0M1545 124h0M1670 498h0M1649 455h0M1589 266h0M1574 211h0M1565 175h0M1602 298h0M1651 468h0M1648 456h0M1642 438h0M1535 81h0"/><path stroke="#240691" d="M1671 499h0"/><path stroke="#3c049b" d="M1692 495h0"/><path stroke="#46039f" d="M1700 498h0"/><path stroke="#5b01a5" d="M1716 497h0M1719 499h0"/><path stroke="#6f00a8" d="M1732 500h0M1736 498h0M1730 498h0M1731 499h0M1734 497h0M1736 497h0M1534 82h0M1536 87h0"/><path stroke="#7801a8" d="M1742 499h0M1744 497h0"/><path stroke="#9511a1" d="M1766 490h0M1766 492h0"/><path stroke="#9d189d" d="M1772 493h0M1765 477h0M1766 476h0M1534 84h0"/><path stroke="#a51f99" d="M1778 489h0M1766 471h0M1768 477h0M1770 478h0M1774 480h0M1767 473h0"/><path stroke="#ad2793" d="M1779 474h0M1779 475h0M1787 488h0"/><path stroke="#bc3587" d="M1802 491h0M1801 490h0M1802 488h0M1804 496h0M1801 484h0M1802 493h0M1536 90h0"/><path stroke="#c23c81" d="M1815 491h0M1802 473h0M1804 474h0M1810 485h0M1812 484h0"/><path stroke="#c8437b" d="M1822 490h0M1814 477h0M1815 477h0M1810 474h0"/><path stroke="#ce4b75" d="M1822 478h0M1832 490h0"/><path stroke="#d45270" d="M1839 490h0M1837 494h0M1833 490h0"/><path stroke="#da5a6a" d="M1850 493h0M1839 486h0M1852 497h0M1844 493h0M1851 492h0"/><path stroke="#de6164" d="M1862 496h0M1529 81h0"/><path stroke="#e3685f" d="M1865 495h0M1535 89h0"/><path stroke="#e87059" d="M1866 482h0M1531 84h0"/><path stroke="#ec7754" d="M1867 477h0M1849 452h0M1845 447h0M1870 485h0M1839 444h0M1860 464h0M1865 477h0M1824 429h0"/><path stroke="#f0804e" d="M1866 466h0M1868 470h0M1874 472h0M1832 431h0M1843 440h0M1842 443h0M1865 463h0M1859 460h0M1864 466h0M1861 463h0"/><path stroke="#f48849" d="M1874 470h0M1877 471h0M1848 435h0M1823 412h0"/><path stroke="#f79044" d="M1867 449h0M1857 440h0M1853 436h0M1829 409h0M1853 438h0M1874 461h0M1862 449h0M1834 415h0M1831 410h0"/><path stroke="#f99a3e" d="M1841 416h0M1839 417h0M1834 409h0M1838 411h0M1830 406h0"/><path stroke="#fba238" d="M1835 403h0M1818 384h0M1815 382h0M1823 387h0M1812 377h0M1829 394h0M1856 424h0M1528 82h0"/><path stroke="#fdac33" d="M1824 387h0M1839 401h0M1832 394h0M1815 372h0M1830 390h0M1833 396h0"/><path stroke="#fdb52e" d="M1818 371h0M1860 413h0M1870 425h0"/><path stroke="#febe2a" d="M1824 372h0M1824 375h0M1842 389h0M1815 363h0M1851 396h0M1817 363h0M1815 364h0M1815 364h0M1842 388h0M1847 394h0M1886 435h0"/><path stroke="#fdca26" d="M1814 359h0M1815 358h0M1817 360h0"/><path stroke="#fbd324" d="M1824 364h0"/><path stroke="#f8df25" d="M1824 359h0M1820 355h0M1828 362h0M1568 120h0"/><path stroke="#f5e926" d="M1831 360h0M1568 120h0M1850 377h0M1857 383h0M1525 81h0"/><path stroke="#f1f426" d="M1834 333h0M1834 355h0M1823 342h0M1836 351h0M1827 344h0M1836 335h0M1832 355h0M1837 340h0M1836 344h0M1815 331h0M1809 331h0M1653 191h0M1642 186h0M1655 194h0M1583 132h0M1592 140h0M1670 206h0M1655 196h0M1812 331h0M1766 290h0M1573 120h0M1694 231h0M1594 142h0M1562 114h0M1599 143h0M1658 196h0M1674 214h0M1749 277h0M1756 282h0M1653 195h0M1680 214h0M1805 326h0M1654 193h0M1594 141h0M1824 346h0M1642 181h0M1687 225h0M1628 173h0M1702 238h0M1818 337h0M1815 337h0M1760 287h0M1668 205h0M1806 328h0M1624 168h0M1631 176h0M1807 326h0M1664 202h0M1773 301h0M1616 161h0M1612 155h0M1803 323h0M1599 144h0M1746 275h0M1586 135h0M1744 273h0M1588 136h0M1802 321h0M1794 315h0"/><path stroke="#16078a" d="M1644 447h0M1643 434h0M1564 176h0M1657 488h0M1587 249h0M1670 497h0M1651 465h0M1551 139h0M1632 400h0M1612 331h0M1610 336h0M1629 402h0M1578 228h0M1619 359h0M1568 191h0M1658 495h0M1614 345h0M1601 299h0M1636 415h0M1566 177h0M1668 496h0M1597 282h0M1660 494h0M1561 170h0M1639 434h0M1624 372h0M1561 164h0M1567 186h0M1642 431h0M1598 293h0M1568 190h0M1574 208h0M1548 133h0M1545 115h0M1579 226h0M1555 156h0M1603 314h0M1562 174h0M1639 433h0M1589 256h0M1573 207h0M1656 490h0M1620 368h0M1572 212h0M1632 397h0M1652 466h0M1649 465h0M1576 225h0M1654 473h0M1605 308h0M1636 410h0M1562 172h0M1643 443h0"/><path stroke="#240691" d="M1545 110h0M1676 495h0M1672 495h0"/><path stroke="#310597" d="M1686 495h0M1682 499h0M1685 498h0M1684 495h0M1539 94h0"/><path stroke="#46039f" d="M1699 495h0"/><path stroke="#5102a3" d="M1710 499h0M1707 499h0M1534 81h0"/><path stroke="#6f00a8" d="M1537 89h0"/><path stroke="#8305a7" d="M1753 496h0M1750 497h0M1539 93h0"/><path stroke="#8b0aa5" d="M1755 498h0"/><path stroke="#9511a1" d="M1766 499h0M1764 487h0M1767 492h0M1766 492h0M1764 489h0M1764 497h0"/><path stroke="#9d189d" d="M1774 499h0M1772 497h0M1766 483h0M1767 487h0M1767 484h0M1775 491h0"/><path stroke="#a51f99" d="M1780 496h0M1779 494h0"/><path stroke="#ad2793" d="M1776 478h0M1784 489h0"/><path stroke="#b42e8d" d="M1787 473h0"/><path stroke="#bc3587" d="M1800 490h0M1802 492h0M1804 495h0M1797 483h0M1798 484h0M1790 475h0"/><path stroke="#c23c81" d="M1816 490h0M1819 494h0M1800 477h0M1798 472h0M1539 94h0"/><path stroke="#c8437b" d="M1823 493h0M1818 490h0M1814 476h0M1807 470h0M1809 479h0M1817 482h0M1821 486h0M1536 89h0"/><path stroke="#ce4b75" d="M1823 480h0"/><path stroke="#d45270" d="M1836 492h0M1843 497h0M1838 497h0M1839 489h0M1840 490h0M1534 87h0"/><path stroke="#da5a6a" d="M1840 487h0M1852 494h0"/><path stroke="#de6164" d="M1860 495h0"/><path stroke="#e3685f" d="M1867 494h0M1870 497h0M1871 499h0"/><path stroke="#e87059" d="M1865 480h0M1824 432h0M1866 486h0M1824 432h0M1865 480h0M1528 80h0"/><path stroke="#ec7754" d="M1866 476h0M1833 437h0M1834 437h0M1827 430h0M1861 466h0M1850 454h0M1839 442h0M1836 438h0"/><path stroke="#f0804e" d="M1853 453h0M1879 485h0M1873 473h0M1839 434h0M1864 465h0M1832 428h0M1862 464h0M1833 431h0M1863 464h0"/><path stroke="#f48849" d="M1857 446h0M1854 448h0M1847 437h0M1874 470h0M1855 442h0M1855 444h0M1527 81h0"/><path stroke="#f79044" d="M1873 455h0M1872 454h0M1855 441h0M1840 420h0"/><path stroke="#f99a3e" d="M1839 415h0M1838 415h0M1832 404h0M1844 418h0"/><path stroke="#fba238" d="M1816 381h0M1817 383h0M1814 380h0"/><path stroke="#fdac33" d="M1830 394h0M1830 388h0M1836 398h0M1830 391h0M1832 392h0M1906 464h0"/><path stroke="#fdb52e" d="M1845 400h0M1819 372h0M1817 374h0M1822 374h0M1848 404h0M1831 385h0M1825 378h0"/><path stroke="#febe2a" d="M1851 397h0M1845 394h0M1834 382h0M1837 384h0M1816 365h0"/><path stroke="#fdca26" d="M1841 386h0"/><path stroke="#fbd324" d="M1828 364h0M1828 366h0"/><path stroke="#f8df25" d="M1826 359h0M1826 360h0M1820 351h0"/><path stroke="#f1f426" d="M1826 349h0M1833 356h0M1827 338h0M1810 331h0M1829 352h0M1831 340h0M1818 337h0M1833 353h0M1594 142h0M1658 200h0M1623 169h0M1632 174h0M1679 212h0M1650 191h0M1668 203h0M1652 195h0M1801 324h0M1797 318h0M1742 269h0M1762 291h0M1735 263h0M1734 265h0M1668 205h0M1604 148h0M1605 148h0M1758 282h0M1820 337h0M1794 316h0M1693 226h0M1678 214h0M1697 234h0M1792 316h0M1777 301h0M1757 287h0M1745 272h0M1749 276h0M1742 271h0M1645 186h0M1628 169h0M1812 333h0M1659 199h0M1664 204h0M1602 148h0M1729 260h0M1675 214h0M1730 258h0M1622 167h0M1688 221h0M1759 287h0M1736 267h0M1719 254h0M1694 230h0M1837 358h0"/><path stroke="#16078a" d="M1597 292h0M1593 272h0M1578 234h0M1643 432h0M1595 286h0M1565 178h0M1640 433h0M1567 188h0M1603 302h0M1669 496h0M1653 476h0M1660 495h0M1632 404h0M1624 371h0M1627 386h0M1642 438h0M1610 326h0M1652 465h0M1649 457h0M1631 405h0M1555 156h0M1546 116h0M1567 190h0M1633 409h0M1635 412h0M1569 204h0M1562 179h0M1646 453h0M1649 456h0M1548 133h0M1558 160h0M1566 185h0M1632 409h0M1576 218h0M1571 201h0M1583 235h0M1610 336h0M1654 473h0M1606 326h0M1612 333h0M1565 190h0M1582 234h0M1567 198h0M1619 367h0M1644 448h0M1559 167h0M1609 335h0M1537 86h0"/><path stroke="#240691" d="M1675 496h0"/><path stroke="#5102a3" d="M1710 495h0M1705 499h0"/><path stroke="#5b01a5" d="M1716 499h0"/><path stroke="#6600a7" d="M1726 497h0M1726 499h0"/><path stroke="#7801a8" d="M1535 85h0"/><path stroke="#8305a7" d="M1751 500h0"/><path stroke="#8b0aa5" d="M1539 93h0"/><path stroke="#9511a1" d="M1771 499h0M1764 494h0M1765 494h0"/><path stroke="#9d189d" d="M1767 485h0M1768 482h0M1773 494h0M1767 491h0M1772 490h0"/><path stroke="#a51f99" d="M1768 476h0M1770 476h0M1773 483h0"/><path stroke="#ad2793" d="M1784 490h0M1791 495h0M1792 495h0M1777 476h0"/><path stroke="#b42e8d" d="M1790 486h0M1794 492h0M1531 82h0"/><path stroke="#bc3587" d="M1805 490h0M1797 477h0M1802 489h0M1810 495h0M1806 496h0M1804 490h0M1802 491h0"/><path stroke="#c23c81" d="M1809 489h0M1812 489h0M1814 497h0M1815 493h0"/><path stroke="#c8437b" d="M1819 491h0M1820 491h0M1804 470h0M1803 470h0M1810 478h0M1824 497h0M1810 480h0"/><path stroke="#ce4b75" d="M1840 500h0M1818 477h0M1813 474h0M1831 490h0"/><path stroke="#d45270" d="M1834 491h0M1841 492h0M1842 491h0M1837 486h0"/><path stroke="#da5a6a" d="M1853 496h0M1839 487h0M1847 495h0"/><path stroke="#de6164" d="M1858 500h0M1855 493h0M1532 85h0"/><path stroke="#e3685f" d="M1871 497h0M1866 493h0M1538 93h0"/><path stroke="#e87059" d="M1872 491h0M1867 484h0M1822 430h0M1531 84h0"/><path stroke="#ec7754" d="M1871 483h0M1869 475h0M1832 437h0M1869 478h0M1828 432h0M1841 444h0M1843 447h0M1877 484h0M1868 481h0M1840 443h0M1864 473h0M1830 435h0"/><path stroke="#f0804e" d="M1831 424h0M1858 454h0M1841 435h0M1867 469h0M1871 474h0M1840 436h0M1866 470h0M1850 450h0M1859 458h0M1861 461h0M1856 457h0M1828 421h0M1855 458h0M1833 430h0M1841 434h0"/><path stroke="#f48849" d="M1842 427h0M1844 433h0M1847 435h0"/><path stroke="#f79044" d="M1827 409h0M1870 451h0M1864 449h0M1875 462h0M1837 415h0M1874 459h0M1538 92h0"/><path stroke="#f99a3e" d="M1834 410h0M1810 380h0M1539 94h0"/><path stroke="#fba238" d="M1844 409h0M1839 409h0M1834 400h0M1813 378h0M1817 382h0"/><path stroke="#fdac33" d="M1827 384h0M1844 407h0M1832 392h0M1832 392h0M1832 395h0M1848 408h0M1528 82h0"/><path stroke="#fdb52e" d="M1829 381h0M1834 386h0M1821 373h0M1840 395h0M1835 391h0"/><path stroke="#febe2a" d="M1837 387h0M1851 400h0M1823 371h0M1815 361h0M1853 398h0"/><path stroke="#fdca26" d="M1840 383h0M1839 381h0M1821 362h0"/><path stroke="#fbd324" d="M1850 388h0M1816 356h0M1816 354h0M1817 354h0M1834 371h0M1531 86h0"/><path stroke="#f8df25" d="M1827 359h0M1568 121h0M1817 351h0"/><path stroke="#f5e926" d="M1821 348h0M1562 115h0M1844 371h0"/><path stroke="#f1f426" d="M1829 349h0M1833 340h0M1835 342h0M1834 341h0M1834 333h0M1830 345h0M1717 248h0M1800 323h0M1619 160h0M1615 158h0M1663 203h0M1588 137h0M1813 333h0M1560 112h0M1794 314h0M1694 228h0M1799 321h0M1824 343h0M1745 273h0M1785 306h0M1569 120h0M1586 133h0M1599 144h0M1804 323h0M1681 216h0M1773 300h0M1638 179h0M1701 232h0M1760 287h0M1763 288h0M1673 212h0M1662 202h0M1582 131h0M1720 252h0M1590 136h0M1735 264h0M1731 259h0M1802 324h0M1580 128h0M1654 195h0M1745 273h0M1781 308h0M1586 133h0M1690 223h0M1716 247h0M1593 139h0M1630 174h0M1694 230h0M1691 224h0"/></g></g></g></g><g id="patch_73"><path d="M 1034.95 354.1 L 1034.95 40.73 " style="fill: none; stroke: #000000; stroke-width: 1.25; stroke-linejoin: miter; stroke-linecap: square"/></g><g id="patch_74"><path d="M 1034.95 354.1 L 1320.07 354.1 " style="fill: none; stroke: #000000; stroke-width: 1.25; stroke-linejoin: miter; stroke-linecap: square"/></g><g id="text_58"><g transform="translate(1090.008571 20.091429)"><text xml:space="preserve"><tspan x="0.00" y="-0.86" style="font-style: italic; font-size: 14px; font-family: 'Liberation Sans', sans-serif">T</tspan><tspan x="8.55" y="3.32" style="font-size: 9.8px; font-family: 'Liberation Sans', sans-serif">1</tspan><tspan x="14.70" y="-0.86" style="font-size: 14px; font-family: 'Liberation Sans', sans-serif">/</tspan><tspan x="18.59" y="-0.86" style="font-style: italic; font-size: 14px; font-family: 'Liberation Sans', sans-serif">S</tspan><tspan x="27.93" y="3.32" style="font-size: 9.8px; font-family: 'Liberation Sans', sans-serif">1</tspan><tspan x="34.07" y="-0.86" style="font-weight: 700; font-size: 14px; font-family: 'Liberation Sans', sans-serif"> Ratio vs Energy Gap</tspan></text></g></g></g><g id="axes_5"><g id="patch_75"><path d="M 1337.83 322.77 L 1350.38 322.77 L 1350.38 72.07 L 1337.83 72.07 z " style="fill: #ffffff"/></g><g transform="scale(0.68571429)"><linearGradient id="gc" x1="0" y1="0" x2="0" y2="1"><stop offset="0.000" stop-color="#f0f921"/><stop offset="0.031" stop-color="#f4ed27"/><stop offset="0.062" stop-color="#f8df25"/><stop offset="0.094" stop-color="#fcd225"/><stop offset="0.125" stop-color="#fdc527"/><stop offset="0.156" stop-color="#feb82c"/><stop offset="0.188" stop-color="#fdac33"/><stop offset="0.219" stop-color="#fba139"/><stop offset="0.250" stop-color="#f89540"/><stop offset="0.281" stop-color="#f58b47"/><stop offset="0.312" stop-color="#f0804e"/><stop offset="0.344" stop-color="#eb7655"/><stop offset="0.375" stop-color="#e66c5c"/><stop offset="0.406" stop-color="#e06363"/><stop offset="0.438" stop-color="#da5a6a"/><stop offset="0.469" stop-color="#d35171"/><stop offset="0.500" stop-color="#cc4778"/><stop offset="0.531" stop-color="#c43e7f"/><stop offset="0.562" stop-color="#bc3587"/><stop offset="0.594" stop-color="#b32c8e"/><stop offset="0.625" stop-color="#aa2395"/><stop offset="0.656" stop-color="#a01a9c"/><stop offset="0.688" stop-color="#9511a1"/><stop offset="0.719" stop-color="#8a09a5"/><stop offset="0.750" stop-color="#7e03a8"/><stop offset="0.781" stop-color="#7201a8"/><stop offset="0.812" stop-color="#6600a7"/><stop offset="0.844" stop-color="#5901a5"/><stop offset="0.875" stop-color="#4c02a1"/><stop offset="0.906" stop-color="#3f049c"/><stop offset="0.938" stop-color="#310597"/><stop offset="0.969" stop-color="#220690"/><stop offset="1.000" stop-color="#0d0887"/></linearGradient><rect x="1951.00" y="105.10" width="18.30" height="365.60" fill="url(#gc)" fill-opacity="0.6"/></g><g id="matplotlib.axis_9"/><g id="matplotlib.axis_10"><g id="ytick_27"><g id="line2d_90"><g><use href="#m9adf3d6901" x="1350.377143" y="303.200726" style="stroke: #000000; stroke-width: 1.2"/></g></g><g id="text_59"><text style="font-size: 11px; font-family: 'Liberation Sans', sans-serif; text-anchor: start" x="1357.377143" y="307.186507" transform="rotate(-0 1357.377143 307.186507)">2</text></g></g><g id="ytick_28"><g id="line2d_91"><g><use href="#m9adf3d6901" x="1350.377143" y="247.932396" style="stroke: #000000; stroke-width: 1.2"/></g></g><g id="text_60"><text style="font-size: 11px; font-family: 'Liberation Sans', sans-serif; text-anchor: start" x="1357.377143" y="251.918177" transform="rotate(-0 1357.377143 251.918177)">3</text></g></g><g id="ytick_29"><g id="line2d_92"><g><use href="#m9adf3d6901" x="1350.377143" y="192.664067" style="stroke: #000000; stroke-width: 1.2"/></g></g><g id="text_61"><text style="font-size: 11px; font-family: 'Liberation Sans', sans-serif; text-anchor: start" x="1357.377143" y="196.649848" transform="rotate(-0 1357.377143 196.649848)">4</text></g></g><g id="ytick_30"><g id="line2d_93"><g><use href="#m9adf3d6901" x="1350.377143" y="137.395737" style="stroke: #000000; stroke-width: 1.2"/></g></g><g id="text_62"><text style="font-size: 11px; font-family: 'Liberation Sans', sans-serif; text-anchor: start" x="1357.377143" y="141.381518" transform="rotate(-0 1357.377143 141.381518)">5</text></g></g><g id="ytick_31"><g id="line2d_94"><g><use href="#m9adf3d6901" x="1350.377143" y="82.127407" style="stroke: #000000; stroke-width: 1.2"/></g></g><g id="text_63"><text style="font-size: 11px; font-family: 'Liberation Sans', sans-serif; text-anchor: start" x="1357.377143" y="86.113189" transform="rotate(-0 1357.377143 86.113189)">6</text></g></g><g id="text_64"><g transform="translate(1377.254174 256.097143) rotate(-90)"><text xml:space="preserve"><tspan x="0.00" y="-0.30" style="font-style: italic; font-size: 12px; font-family: 'Liberation Sans', sans-serif">S</tspan><tspan x="8.00" y="3.29" style="font-size: 8.4px; font-family: 'Liberation Sans', sans-serif">1</tspan><tspan x="13.27" y="-0.30" style="font-weight: 700; font-size: 12px; font-family: 'Liberation Sans', sans-serif"> Energy Level (eV)</tspan></text></g></g></g><g id="LineCollection_2"/><g id="patch_76"><path d="M 1337.83 322.77 L 1344.1 322.77 L 1350.38 322.77 L 1350.38 72.07 L 1344.1 72.07 L 1337.83 72.07 L 1337.83 322.77 z " style="fill: none; stroke: #000000; stroke-width: 1.25; stroke-linejoin: miter; stroke-linecap: square"/></g></g><g id="axes_6"><g id="patch_77"><path d="M 37.92 824.64 L 323.38 824.64 L 323.38 511.13 L 37.92 511.13 z " style="fill: #ffffff"/></g><g id="matplotlib.axis_11"><g id="xtick_20"><g id="line2d_95"><path d="M 50.32 824.64 L 50.32 511.13 " clip-path="url(#pe6bf9d81a1)" style="fill: none; stroke: #b0b0b0; stroke-opacity: 0.3; stroke-width: 0.8; stroke-linecap: square"/></g><g id="line2d_96"><g><use href="#me52e4beeaa" x="50.318594" y="824.64" style="stroke: #000000; stroke-width: 1.2"/></g></g><g id="text_65"><text style="font-size: 12px; font-family: 'Liberation Sans', sans-serif; text-anchor: middle" x="50.318594" y="841.38625" transform="rotate(-0 50.318594 841.38625)">0</text></g></g><g id="xtick_21"><g id="line2d_97"><path d="M 92.49 824.64 L 92.49 511.13 " clip-path="url(#pe6bf9d81a1)" style="fill: none; stroke: #b0b0b0; stroke-opacity: 0.3; stroke-width: 0.8; stroke-linecap: square"/></g><g id="line2d_98"><g><use href="#me52e4beeaa" x="92.490681" y="824.64" style="stroke: #000000; stroke-width: 1.2"/></g></g><g id="text_66"><text style="font-size: 12px; font-family: 'Liberation Sans', sans-serif; text-anchor: middle" x="92.490681" y="841.38625" transform="rotate(-0 92.490681 841.38625)">1000</text></g></g><g id="xtick_22"><g id="line2d_99"><path d="M 134.66 824.64 L 134.66 511.13 " clip-path="url(#pe6bf9d81a1)" style="fill: none; stroke: #b0b0b0; stroke-opacity: 0.3; stroke-width: 0.8; stroke-linecap: square"/></g><g id="line2d_100"><g><use href="#me52e4beeaa" x="134.662768" y="824.64" style="stroke: #000000; stroke-width: 1.2"/></g></g><g id="text_67"><text style="font-size: 12px; font-family: 'Liberation Sans', sans-serif; text-anchor: middle" x="134.662768" y="841.38625" transform="rotate(-0 134.662768 841.38625)">2000</text></g></g><g id="xtick_23"><g id="line2d_101"><path d="M 176.83 824.64 L 176.83 511.13 " clip-path="url(#pe6bf9d81a1)" style="fill: none; stroke: #b0b0b0; stroke-opacity: 0.3; stroke-width: 0.8; stroke-linecap: square"/></g><g id="line2d_102"><g><use href="#me52e4beeaa" x="176.834855" y="824.64" style="stroke: #000000; stroke-width: 1.2"/></g></g><g id="text_68"><text style="font-size: 12px; font-family: 'Liberation Sans', sans-serif; text-anchor: middle" x="176.834855" y="841.38625" transform="rotate(-0 176.834855 841.38625)">3000</text></g></g><g id="xtick_24"><g id="line2d_103"><path d="M 219.01 824.64 L 219.01 511.13 " clip-path="url(#pe6bf9d81a1)" style="fill: none; stroke: #b0b0b0; stroke-opacity: 0.3; stroke-width: 0.8; stroke-linecap: square"/></g><g id="line2d_104"><g><use href="#me52e4beeaa" x="219.006942" y="824.64" style="stroke: #000000; stroke-width: 1.2"/></g></g><g id="text_69"><text style="font-size: 12px; font-family: 'Liberation Sans', sans-serif; text-anchor: middle" x="219.006942" y="841.38625" transform="rotate(-0 219.006942 841.38625)">4000</text></g></g><g id="xtick_25"><g id="line2d_105"><path d="M 261.18 824.64 L 261.18 511.13 " clip-path="url(#pe6bf9d81a1)" style="fill: none; stroke: #b0b0b0; stroke-opacity: 0.3; stroke-width: 0.8; stroke-linecap: square"/></g><g id="line2d_106"><g><use href="#me52e4beeaa" x="261.179029" y="824.64" style="stroke: #000000; stroke-width: 1.2"/></g></g><g id="text_70"><text style="font-size: 12px; font-family: 'Liberation Sans', sans-serif; text-anchor: middle" x="261.179029" y="841.38625" transform="rotate(-0 261.179029 841.38625)">5000</text></g></g><g id="xtick_26"><g id="line2d_107"><path d="M 303.35 824.64 L 303.35 511.13 " clip-path="url(#pe6bf9d81a1)" style="fill: none; stroke: #b0b0b0; stroke-opacity: 0.3; stroke-width: 0.8; stroke-linecap: square"/></g><g id="line2d_108"><g><use href="#me52e4beeaa" x="303.351116" y="824.64" style="stroke: #000000; stroke-width: 1.2"/></g></g><g id="text_71"><text style="font-size: 12px; font-family: 'Liberation Sans', sans-serif; text-anchor: middle" x="303.351116" y="841.38625" transform="rotate(-0 303.351116 841.38625)">6000</text></g></g><g id="text_72"><text style="font-weight: 700; font-size: 13px; font-family: 'Liberation Sans', sans-serif; text-anchor: middle" x="180.651429" y="856.267187" transform="rotate(-0 180.651429 856.267187)">Molecular Weight (g/mol)</text></g></g><g id="matplotlib.axis_12"><g id="ytick_32"><g id="line2d_109"><path d="M 37.92 788.14 L 323.38 788.14 " clip-path="url(#pe6bf9d81a1)" style="fill: none; stroke: #b0b0b0; stroke-opacity: 0.3; stroke-width: 0.8; stroke-linecap: square"/></g><g id="line2d_110"><g><use href="#m4d9286fa7c" x="37.92" y="788.137299" style="stroke: #000000; stroke-width: 1.2"/></g></g><g id="text_73"><text style="font-size: 12px; font-family: 'Liberation Sans', sans-serif; text-anchor: end" x="30.92" y="792.485424" transform="rotate(-0 30.92 792.485424)">2</text></g></g><g id="ytick_33"><g id="line2d_111"><path d="M 37.92 725.31 L 323.38 725.31 " clip-path="url(#pe6bf9d81a1)" style="fill: none; stroke: #b0b0b0; stroke-opacity: 0.3; stroke-width: 0.8; stroke-linecap: square"/></g><g id="line2d_112"><g><use href="#m4d9286fa7c" x="37.92" y="725.30993" style="stroke: #000000; stroke-width: 1.2"/></g></g><g id="text_74"><text style="font-size: 12px; font-family: 'Liberation Sans', sans-serif; text-anchor: end" x="30.92" y="729.658055" transform="rotate(-0 30.92 729.658055)">3</text></g></g><g id="ytick_34"><g id="line2d_113"><path d="M 37.92 662.48 L 323.38 662.48 " clip-path="url(#pe6bf9d81a1)" style="fill: none; stroke: #b0b0b0; stroke-opacity: 0.3; stroke-width: 0.8; stroke-linecap: square"/></g><g id="line2d_114"><g><use href="#m4d9286fa7c" x="37.92" y="662.482561" style="stroke: #000000; stroke-width: 1.2"/></g></g><g id="text_75"><text style="font-size: 12px; font-family: 'Liberation Sans', sans-serif; text-anchor: end" x="30.92" y="666.830686" transform="rotate(-0 30.92 666.830686)">4</text></g></g><g id="ytick_35"><g id="line2d_115"><path d="M 37.92 599.66 L 323.38 599.66 " clip-path="url(#pe6bf9d81a1)" style="fill: none; stroke: #b0b0b0; stroke-opacity: 0.3; stroke-width: 0.8; stroke-linecap: square"/></g><g id="line2d_116"><g><use href="#m4d9286fa7c" x="37.92" y="599.655192" style="stroke: #000000; stroke-width: 1.2"/></g></g><g id="text_76"><text style="font-size: 12px; font-family: 'Liberation Sans', sans-serif; text-anchor: end" x="30.92" y="604.003317" transform="rotate(-0 30.92 604.003317)">5</text></g></g><g id="ytick_36"><g id="line2d_117"><path d="M 37.92 536.83 L 323.38 536.83 " clip-path="url(#pe6bf9d81a1)" style="fill: none; stroke: #b0b0b0; stroke-opacity: 0.3; stroke-width: 0.8; stroke-linecap: square"/></g><g id="line2d_118"><g><use href="#m4d9286fa7c" x="37.92" y="536.827823" style="stroke: #000000; stroke-width: 1.2"/></g></g><g id="text_77"><text style="font-size: 12px; font-family: 'Liberation Sans', sans-serif; text-anchor: end" x="30.92" y="541.175948" transform="rotate(-0 30.92 541.175948)">6</text></g></g><g id="text_78"><g transform="translate(14.846875 731.455714) rotate(-90)"><text xml:space="preserve"><tspan x="0.00" y="-0.58" style="font-style: italic; font-size: 13px; font-family: 'Liberation Sans', sans-serif">S</tspan><tspan x="8.67" y="3.30" style="font-size: 9.1px; font-family: 'Liberation Sans', sans-serif">1</tspan><tspan x="14.38" y="-0.58" style="font-weight: 700; font-size: 13px; font-family: 'Liberation Sans', sans-serif"> Energy Level (eV)</tspan></text></g></g></g><g id="cloud_d"><g transform="scale(0.68571429)"><clipPath id="xd"><rect x="55.30" y="745.40" width="416.30" height="457.20"/></clipPath><g clip-path="url(#xd)"><linearGradient id="gdb" x1="0" y1="767.3" x2="0" y2="1180.1" gradientUnits="userSpaceOnUse"><stop offset="0.00" stop-color="#8cd159"/><stop offset="0.25" stop-color="#73c26b"/><stop offset="0.50" stop-color="#40ad80"/><stop offset="0.75" stop-color="#2b8f8c"/><stop offset="1.00" stop-color="#33668c"/></linearGradient><path fill="url(#gdb)" fill-opacity="0.85" d="M74 767.3L159.8 767.3L161.4 781.5L163.3 795.8L166.2 810L169 824.2L172.1 838.5L175.2 852.7L178.3 866.9L181.4 881.2L184.5 895.4L188.1 909.6L192.2 923.9L196.2 938.1L199.1 952.3L202 966.6L204.9 980.8L206.3 995L207.3 1009.3L208.2 1023.5L208.7 1037.7L208.7 1052L208.7 1066.2L208.7 1080.4L207.9 1094.7L206.7 1108.9L205.5 1123.1L204.3 1137.4L203.1 1151.6L201.6 1165.8L199.6 1180.1L74 1180.1Z"/><g style="fill:none;stroke-width:6.2;stroke-linecap:round;stroke-opacity:0.6"><path stroke="#450559" d="M200 1141h0M219 1051h0M210 1011h0M191 992h0M214 1077h0M220 971h0M148 1098h0M234 1013h0M216 1122h0M176 1177h0M215 1083h0M212 1128h0M203 1166h0M213 1113h0M227 1081h0"/><path stroke="#470e61" d="M209 932h0M179 1154h0M221 1101h0M186 1125h0M75 1161h0M220 1071h0M204 1040h0M200 1163h0M222 1020h0M244 1076h0M207 932h0M227 1045h0"/><path stroke="#48186a" d="M88 1121h0M220 1112h0M229 1069h0M113 1134h0M124 1121h0M208 1179h0M174 1143h0M200 1052h0M180 1064h0M227 1099h0M236 1164h0M175 1026h0M218 1146h0M256 974h0M206 966h0"/><path stroke="#482071" d="M215 1019h0M186 1096h0M229 1097h0M218 1096h0M85 1160h0M197 1032h0M209 948h0M216 1035h0M227 1056h0M209 997h0M221 982h0M240 1064h0M231 951h0M214 1034h0M249 1030h0M98 1166h0M207 938h0M222 1074h0M229 1178h0M221 1083h0M199 1152h0M214 1144h0M228 1003h0M210 1047h0M211 1085h0M210 1086h0M218 1150h0M225 1150h0M198 933h0M208 1044h0M231 1107h0M223 965h0M231 973h0M219 995h0M211 930h0M211 912h0"/><path stroke="#482878" d="M213 1013h0M208 1035h0M205 948h0M221 979h0M222 1119h0M214 980h0M224 956h0M183 1084h0M205 1057h0M234 1015h0M215 1015h0M233 1108h0M217 1174h0M220 1156h0M227 1169h0M218 1055h0M200 1008h0M189 1115h0M191 1024h0M202 1084h0M219 946h0M202 1151h0M232 1075h0M216 1120h0M248 989h0M77 1119h0M239 1087h0M235 1033h0M211 945h0M223 1099h0M217 1059h0M233 1070h0M217 951h0M207 1175h0M223 1100h0"/><path stroke="#46307e" d="M214 1111h0M221 1082h0M163 1121h0M239 984h0M211 1113h0M232 1113h0M202 964h0M223 1128h0M237 1175h0M215 1092h0M216 1139h0M223 1080h0M204 986h0M226 983h0M216 1163h0M233 1051h0M195 1056h0M97 1133h0M217 1114h0M236 1167h0M229 1009h0M214 1134h0M235 1034h0M242 1165h0M197 1031h0M169 1099h0M224 1100h0M200 958h0M210 1153h0M124 1123h0M220 1154h0M163 1130h0M218 1121h0M242 1018h0M98 1127h0M219 1137h0M218 1157h0M209 1066h0M219 1117h0M230 966h0M213 1074h0M229 1057h0M217 959h0M226 1073h0M213 1117h0M244 1058h0M236 951h0M217 966h0M217 1115h0M208 941h0M217 1069h0M232 1164h0M220 942h0"/><path stroke="#453882" d="M231 1079h0M233 997h0M222 952h0M202 1018h0M129 1139h0M223 1081h0M224 1070h0M225 1156h0M182 966h0M246 1071h0M218 1001h0M103 1169h0M139 1178h0M124 1150h0M227 1025h0M203 1080h0M209 1014h0M216 1038h0M125 1125h0M207 1173h0M228 1003h0M196 1087h0M212 978h0M226 1131h0M211 940h0M249 1046h0M217 1048h0M215 1112h0M210 1163h0M180 1026h0M227 1017h0M93 1168h0M189 1025h0M224 1017h0M87 1133h0M227 972h0M198 1179h0M261 1073h0M202 1035h0M161 1159h0M242 1073h0M178 1077h0M245 1046h0M196 976h0M228 947h0M223 1110h0M211 987h0M224 1157h0M192 1138h0M206 1077h0M80 1063h0M236 1020h0M215 998h0M215 1179h0M202 1170h0M228 1156h0M227 1108h0M236 1144h0M224 1023h0M221 1080h0M232 1050h0M220 1124h0M209 935h0M223 1056h0M224 980h0M208 1035h0M215 1046h0M219 1114h0M230 1123h0M217 966h0M197 958h0M221 933h0M294 1069h0M277 1105h0"/><path stroke="#424086" d="M218 965h0M217 1064h0M199 1142h0M180 1009h0M233 1013h0M221 1170h0M221 1179h0M158 1177h0M201 1048h0M222 1101h0M182 1030h0M111 1165h0M116 1153h0M237 1105h0M233 1075h0M201 947h0M201 1090h0M217 1157h0M180 962h0M222 1088h0M195 1129h0M221 1000h0M173 1139h0M218 974h0M185 1146h0M208 1102h0M206 1095h0M227 1097h0M174 1103h0M220 926h0M112 1111h0M196 1112h0M210 1180h0M204 923h0M225 1135h0M218 1104h0M247 1135h0M228 1178h0M223 1075h0M219 1159h0M213 1138h0M98 1102h0M192 1007h0M217 1149h0M196 1105h0M207 1174h0M229 1010h0M180 1155h0M208 1069h0M203 933h0M205 1112h0M218 1122h0M208 976h0M211 1058h0M213 1130h0M210 1070h0M223 1033h0M201 963h0M209 945h0M244 1132h0M224 1067h0M244 1151h0M253 1116h0M221 1172h0M213 952h0M232 993h0M227 1105h0M217 983h0M202 1108h0M223 1131h0M239 1027h0M232 1140h0M213 1154h0M213 996h0M212 918h0M214 987h0M222 1080h0M224 1103h0M222 1037h0M204 1169h0"/><path stroke="#3f4788" d="M219 1165h0M205 1049h0M194 1156h0M211 940h0M79 1095h0M197 1024h0M228 968h0M213 1095h0M211 1089h0M186 1132h0M221 1075h0M139 1115h0M207 954h0M225 936h0M133 1120h0M224 991h0M128 1142h0M220 1098h0M150 1159h0M129 1064h0M207 1129h0M218 1149h0M234 1137h0M84 1126h0M142 1111h0M230 1080h0M216 988h0M115 1129h0M215 964h0M141 1166h0M213 1146h0M180 1159h0M124 1134h0M222 1098h0M224 1004h0M236 980h0M203 966h0M222 1146h0M187 1170h0M233 1084h0M210 1052h0M226 972h0M187 1097h0M225 1026h0M142 1121h0M214 1095h0M203 1064h0M196 1072h0M250 1117h0M190 1137h0M221 967h0M230 1152h0M222 958h0M205 1153h0M220 1078h0M237 1107h0M238 967h0M219 1118h0M209 1088h0M205 954h0M218 1134h0M224 925h0M196 1174h0M211 964h0M244 1139h0"/><path stroke="#3d4e8a" d="M221 952h0M207 1180h0M229 1095h0M224 1056h0M199 1099h0M220 1112h0M99 1175h0M177 1032h0M190 1051h0M222 980h0M155 1136h0M210 1126h0M201 986h0M192 918h0M76 1082h0M210 1151h0M150 1121h0M131 872h0M198 917h0M218 1039h0M205 1121h0M183 1089h0M230 1121h0M218 1019h0M177 1119h0M229 1125h0M129 1139h0M84 1175h0M142 1125h0M136 1179h0M175 1158h0M201 1098h0M220 1018h0M221 1080h0M120 1136h0M211 1058h0M241 1098h0M215 1180h0M225 994h0M126 1140h0M155 1170h0M107 1156h0M157 1143h0M124 1158h0M228 918h0M229 1039h0M224 1070h0M204 1169h0M228 1005h0M213 1171h0M231 1070h0M217 1089h0M229 1105h0M219 1000h0M236 1033h0M266 1042h0M209 989h0M212 1178h0M225 1110h0M209 1038h0M206 1041h0M223 1155h0M222 1137h0M215 1021h0M206 1057h0M220 960h0M240 1108h0M206 1160h0M240 1156h0"/><path stroke="#39558c" d="M169 1165h0M136 1158h0M217 996h0M200 940h0M242 1048h0M104 1092h0M235 1179h0M140 1108h0M230 1069h0M113 1137h0M165 1153h0M83 1108h0M205 1012h0M222 1178h0M117 1161h0M214 1030h0M212 1096h0M205 966h0M117 1119h0M223 1001h0M195 1090h0M223 1099h0M221 1095h0M146 1146h0M89 1096h0M197 982h0M198 1114h0M221 1125h0M228 1106h0M189 1179h0M198 1089h0M205 1145h0M225 1010h0M191 1044h0M179 1153h0M221 1089h0M218 1115h0M208 1073h0M223 1096h0"/><path stroke="#365c8d" d="M218 1146h0M157 1152h0M82 933h0M201 1046h0M217 1057h0M186 1135h0M151 1162h0M236 1022h0M130 1102h0M97 1005h0M218 1104h0M96 1139h0M159 1073h0M214 1123h0M204 1072h0M111 1132h0M214 965h0M224 978h0M215 1069h0M170 1162h0M222 999h0M141 1100h0M240 1098h0M214 954h0M235 957h0M229 1066h0M216 1000h0M207 1029h0M370 1070h0"/><path stroke="#33638d" d="M105 1152h0M87 1107h0M187 1101h0M95 1116h0M230 1081h0M205 1150h0M216 985h0M98 1120h0M83 1117h0M161 1092h0M148 976h0M206 1135h0M144 968h0M85 1135h0M222 922h0M199 969h0M235 1070h0M88 1172h0M112 1123h0M200 1023h0M211 1008h0M82 1026h0M226 1106h0M122 1157h0M174 783h0M81 1118h0M230 1121h0M204 941h0M235 1097h0M220 1160h0M256 1176h0"/><path stroke="#30698e" d="M177 1106h0M169 1119h0M132 986h0M107 976h0M144 1022h0M183 1051h0M130 947h0M96 1176h0M202 1098h0M234 1160h0M78 1133h0M90 1090h0M78 1034h0M203 1159h0M92 1116h0M212 995h0M78 1127h0M211 1160h0M103 1170h0M199 1169h0M162 912h0M158 1036h0M227 1038h0M176 1133h0M232 1128h0M302 1048h0M249 1005h0"/><path stroke="#2e6f8e" d="M182 1115h0M77 865h0M115 1178h0M118 775h0M85 794h0M138 1163h0M183 1160h0M96 1048h0M100 1071h0M180 1068h0M233 995h0M137 813h0M196 1076h0M122 1137h0M80 772h0M166 1157h0M141 1080h0M185 1108h0M154 1105h0M147 1141h0M196 883h0M195 1138h0M143 1060h0M151 1110h0M143 1111h0M214 908h0M106 1171h0M217 1169h0M204 1001h0M197 914h0"/><path stroke="#2b758e" d="M155 1025h0M160 1162h0M210 1121h0M109 1118h0M135 794h0M194 1104h0M156 1158h0M149 1155h0M170 1106h0M95 1027h0M181 999h0M153 1124h0M128 1067h0M203 895h0M148 810h0M183 1068h0M144 968h0M229 1049h0M185 1142h0M137 1016h0M134 1093h0M137 1101h0M176 1038h0M87 1143h0M157 1097h0M112 1062h0M130 1100h0M191 861h0M170 1138h0M106 788h0M149 1121h0M89 833h0M107 1164h0M216 1114h0M230 1101h0M221 1097h0"/><path stroke="#297b8e" d="M91 1022h0M197 1099h0M145 1022h0M180 1108h0M164 1135h0M118 1160h0M196 1177h0M115 1091h0M137 1003h0M209 1146h0M104 1092h0M172 961h0M188 967h0M137 1179h0M106 1020h0M193 947h0M174 883h0M131 799h0M106 1065h0M151 1084h0M120 1158h0M168 971h0M191 885h0M116 953h0M99 1116h0M220 1054h0M104 895h0M89 1160h0M173 1035h0M105 1128h0M178 951h0M101 1143h0M77 1163h0M97 1116h0M129 1061h0M221 1078h0M184 841h0M219 1171h0M225 1152h0"/><path stroke="#26828e" d="M94 828h0M142 1122h0M139 1012h0M109 895h0M150 1092h0M129 1088h0M173 1000h0M101 1140h0M177 1061h0M118 1078h0M141 1107h0M151 1060h0M76 777h0M144 852h0M83 783h0M119 896h0M100 1024h0M90 1129h0M203 1156h0M194 993h0M105 866h0M110 1140h0M175 953h0M119 1052h0M160 979h0M160 960h0M150 1021h0M125 1016h0M87 1012h0M96 1112h0M158 990h0M142 1074h0M180 983h0M119 837h0M129 982h0M124 1116h0M127 888h0M98 1069h0M127 963h0M151 772h0M88 1178h0M211 935h0M80 1093h0M182 1022h0M131 841h0M112 1086h0M90 1119h0M108 1091h0M89 984h0M78 968h0M116 823h0M188 872h0M107 944h0M122 889h0M93 1160h0M157 958h0M152 812h0M147 1131h0M142 1062h0M80 1063h0M244 1138h0M208 1174h0M214 1103h0M209 941h0"/><path stroke="#24878e" d="M82 996h0M183 781h0M105 1019h0M107 874h0M157 1018h0M88 768h0M94 1085h0M108 1160h0M119 783h0M185 978h0M92 1167h0M200 986h0M171 1132h0M79 776h0M81 1124h0M105 877h0M164 1022h0M103 912h0M124 781h0M135 976h0M83 1060h0M198 969h0M103 990h0M112 834h0M149 1027h0M75 1024h0M87 1141h0M148 1017h0M133 800h0M167 1119h0M197 1076h0M171 1139h0M146 1156h0M209 1141h0M202 954h0M117 856h0M133 1013h0M143 783h0M210 1172h0M103 886h0M147 952h0M153 923h0M112 781h0M186 1069h0M164 959h0M206 1120h0M82 888h0M83 847h0M134 810h0M115 1110h0M102 852h0M117 874h0M94 1037h0M95 839h0M208 996h0M220 1120h0"/><path stroke="#228d8d" d="M137 1013h0M165 958h0M86 927h0M98 781h0M82 989h0M125 1098h0M153 954h0M124 1011h0M172 946h0M138 1161h0M189 1127h0M82 1073h0M191 968h0M78 1078h0M161 1107h0M145 1142h0M109 850h0M156 830h0M93 1102h0M193 1158h0M93 1059h0M120 1155h0M130 1135h0M210 1036h0M136 909h0M180 943h0M79 1125h0M154 1160h0M118 904h0M92 1009h0M132 1065h0M112 1122h0M195 1004h0M125 1066h0M137 884h0M178 930h0M102 782h0M151 911h0M107 985h0M191 1025h0M135 1047h0M126 986h0M140 1148h0M120 1132h0M127 932h0M146 1095h0M168 986h0M81 1158h0M168 1023h0M167 1040h0M111 1133h0M116 978h0M101 1017h0M141 1099h0M217 896h0M83 846h0M159 1052h0M137 877h0M82 1004h0M114 824h0M113 1122h0M135 1113h0M157 1087h0M136 1148h0M86 1146h0M79 1167h0M160 1015h0M197 899h0M223 805h0M223 1136h0M416 1175h0M270 1145h0M274 1118h0M266 1009h0"/><path stroke="#20938c" d="M172 928h0M76 879h0M152 831h0M83 928h0M134 1033h0M96 987h0M148 1114h0M78 1077h0M91 1069h0M111 978h0M77 1027h0M97 1129h0M95 868h0M108 1013h0M115 879h0M151 1124h0M224 928h0M178 1100h0M117 812h0M87 790h0M166 1082h0M95 793h0M132 978h0M146 1102h0M167 1063h0M147 1011h0M112 1042h0M135 804h0M165 901h0M165 921h0M181 938h0M148 866h0M172 961h0M130 933h0M117 1120h0M223 1047h0M139 1053h0M172 1029h0M208 1044h0M216 1150h0M189 1006h0M117 924h0M215 1085h0M156 1062h0M127 948h0M213 933h0M92 1011h0M103 1110h0M157 948h0M194 819h0M192 807h0M97 903h0M128 829h0M96 926h0M165 1022h0M133 1112h0M172 964h0M112 876h0M186 872h0M90 841h0M132 888h0M188 773h0M112 873h0M232 971h0M95 815h0M200 917h0M200 955h0M226 1058h0M79 1091h0M187 964h0M93 1085h0M138 1010h0M140 811h0M94 1055h0M77 1072h0M150 881h0M115 941h0M162 1022h0M151 1038h0M102 1000h0M126 1170h0M130 866h0M82 852h0M126 786h0M213 1158h0M200 956h0M194 926h0M177 851h0M215 923h0M393 1031h0"/><path stroke="#1f998a" d="M165 815h0M110 1060h0M103 916h0M108 1058h0M122 805h0M86 877h0M198 1155h0M102 1092h0M77 1025h0M83 868h0M81 1110h0M164 1037h0M86 1066h0M162 990h0M152 1122h0M212 981h0M154 799h0M183 1099h0M127 972h0M167 1130h0M103 883h0M96 1150h0M212 1110h0M212 925h0M77 863h0M83 802h0M147 995h0M99 1103h0M117 862h0M132 1032h0M199 1088h0M166 865h0M81 885h0M208 883h0M98 950h0M131 836h0M138 1000h0M97 773h0M149 896h0M98 792h0M140 1146h0M89 909h0M82 1048h0M153 1020h0M121 954h0M148 821h0M220 1047h0M137 1026h0M102 958h0M183 1001h0M96 1155h0M137 1072h0M127 1135h0M148 943h0M179 840h0M172 952h0M147 1070h0M202 1069h0M86 1155h0M106 1077h0M132 777h0M147 1133h0M136 988h0M154 1058h0M188 1102h0M91 805h0M187 1021h0M147 822h0M81 855h0M168 888h0M148 948h0M220 1087h0M121 974h0M176 795h0M207 1072h0"/><path stroke="#1fa088" d="M99 802h0M106 884h0M173 1103h0M169 810h0M193 881h0M163 1000h0M136 1114h0M149 883h0M97 933h0M89 921h0M164 948h0M84 1035h0M132 1108h0M87 888h0M135 872h0M193 1122h0M135 802h0M140 826h0M100 1098h0M136 798h0M99 1067h0M145 1048h0M113 1052h0M220 1037h0M139 898h0M180 1037h0M82 844h0M105 872h0M130 1107h0M159 1128h0M179 935h0M77 789h0M153 1124h0M184 1039h0M83 913h0M172 905h0M234 1067h0M143 1052h0M154 1148h0M164 1176h0M185 1159h0M111 993h0M88 980h0M172 1044h0M134 1072h0M190 893h0M151 900h0M149 799h0M181 1010h0M154 791h0M190 876h0M105 1026h0M127 926h0M196 918h0M85 961h0M87 932h0M215 1068h0M110 948h0M132 804h0M141 886h0M153 953h0M219 1002h0M226 1052h0M196 914h0M94 952h0M137 1116h0M82 938h0M114 1019h0M223 974h0M153 832h0M126 971h0M106 1050h0M176 987h0M228 968h0M163 930h0M194 998h0M166 897h0M131 1012h0M88 866h0M130 1010h0M102 1127h0M136 946h0M176 1031h0M156 1171h0M92 1053h0M229 1087h0M211 894h0M219 1117h0M174 773h0M247 982h0"/><path stroke="#21a585" d="M90 924h0M124 1007h0M92 1088h0M91 775h0M166 957h0M114 1107h0M148 1090h0M144 856h0M94 974h0M91 852h0M100 1119h0M146 1033h0M115 878h0M96 1097h0M159 956h0M151 847h0M231 1128h0M90 982h0M136 955h0M157 842h0M166 890h0M193 1095h0M139 823h0M207 843h0M84 1014h0M151 858h0M146 1074h0M105 883h0M103 1077h0M187 878h0M114 1060h0M139 1090h0M84 787h0M200 1102h0M179 996h0M115 987h0M146 1133h0M77 790h0M99 1055h0M197 1083h0M108 830h0M125 1031h0M155 974h0M153 947h0M226 1098h0M141 934h0M106 785h0M139 944h0M93 830h0M115 927h0M184 979h0M116 867h0M135 1172h0M183 888h0M220 954h0M122 1035h0M170 930h0M153 1008h0M146 883h0M133 855h0M208 934h0M103 1090h0M85 1121h0M143 988h0M190 824h0M192 914h0M153 1014h0M122 1006h0M106 975h0M127 1044h0M192 947h0M139 780h0M167 1103h0M85 919h0M161 807h0M100 849h0M111 825h0M102 797h0M122 918h0M125 976h0M79 970h0M114 1123h0M151 1078h0M76 924h0M127 1072h0M127 866h0M99 820h0M89 841h0M192 938h0M226 933h0M111 982h0M105 987h0M163 893h0M182 812h0M205 908h0M196 913h0M185 890h0M218 1140h0M202 910h0M187 794h0"/><path stroke="#25ab82" d="M109 1080h0M133 1044h0M76 871h0M108 1149h0M208 1177h0M90 1041h0M85 933h0M166 1001h0M141 1075h0M143 852h0M184 934h0M213 969h0M130 822h0M125 936h0M140 830h0M111 789h0M76 968h0M148 924h0M196 846h0M80 836h0M138 1062h0M155 1038h0M85 891h0M188 1032h0M174 915h0M216 1180h0M170 893h0M125 1122h0M188 1122h0M155 1088h0M88 1016h0M179 1025h0M204 867h0M134 1006h0M151 846h0M162 1004h0M82 815h0M181 1082h0M136 935h0M229 1042h0M129 823h0M85 832h0M100 872h0M81 1076h0M172 1084h0M141 832h0M189 1092h0M107 1051h0M138 902h0M182 792h0M135 904h0M100 789h0M134 962h0M146 929h0M177 1059h0M85 987h0M161 903h0M86 786h0M117 1028h0M206 920h0M173 939h0M114 1134h0M144 1122h0M203 1005h0M150 791h0M147 1007h0M106 931h0M184 858h0M159 1132h0M185 785h0M192 897h0M135 839h0M193 926h0M115 817h0M89 1065h0M137 1023h0M142 777h0M104 823h0M101 1050h0M171 924h0M87 1111h0M142 785h0M83 1008h0M86 824h0M223 1120h0M96 963h0M165 835h0M169 784h0M224 1070h0M204 885h0M201 895h0M179 786h0M207 892h0M215 1040h0M226 1011h0M181 848h0M217 999h0"/><path stroke="#2cb17e" d="M189 835h0M129 976h0M214 949h0M135 1016h0M197 960h0M206 871h0M146 887h0M162 849h0M200 887h0M130 808h0M158 1111h0M231 1126h0M75 1064h0M191 868h0M87 893h0M155 966h0M148 1087h0M144 956h0M186 801h0M87 810h0M177 1061h0M143 839h0M98 1151h0M205 1154h0M197 1089h0M108 1097h0M115 897h0M90 776h0M208 1169h0M107 1115h0M143 1132h0M90 1150h0M124 889h0M142 913h0M166 931h0M164 958h0M139 1098h0M154 773h0M223 932h0M81 955h0M119 808h0M85 1011h0M88 818h0M192 946h0M168 998h0M77 798h0M183 876h0M128 810h0M122 916h0M158 979h0M80 824h0M150 775h0M112 814h0M147 1112h0M80 1027h0M142 798h0M117 1132h0M102 1067h0M176 935h0M116 777h0M171 806h0M182 928h0M79 1007h0M105 1014h0M192 862h0M78 854h0M79 869h0M136 963h0M95 993h0M133 821h0M163 800h0M150 862h0M191 777h0M83 861h0M187 836h0M90 905h0M78 888h0M156 774h0M84 1010h0M158 1030h0M91 801h0M174 827h0M154 1070h0M84 900h0M167 786h0M151 819h0M194 929h0M138 1046h0M128 938h0M100 1004h0M103 996h0M130 895h0M80 925h0M193 920h0M177 801h0M165 769h0M189 809h0M204 943h0M219 1009h0M204 892h0M185 870h0M207 1037h0M181 819h0M204 922h0M205 917h0"/><path stroke="#34b679" d="M115 983h0M96 916h0M193 928h0M78 883h0M105 793h0M173 1138h0M93 922h0M130 980h0M101 1044h0M82 1087h0M121 936h0M82 882h0M120 883h0M185 794h0M85 851h0M124 808h0M168 1075h0M146 1013h0M143 1109h0M139 1100h0M80 879h0M209 912h0M233 1054h0M126 942h0M185 878h0M132 882h0M192 894h0M104 803h0M102 816h0M168 834h0M164 952h0M89 960h0M123 1012h0M117 788h0M161 829h0M189 945h0M140 994h0M127 863h0M94 788h0M192 992h0M81 977h0M130 942h0M173 784h0M165 959h0M161 847h0M115 851h0M155 1018h0M96 772h0M167 1120h0M127 1110h0M151 873h0M176 1125h0M169 870h0M224 899h0M183 767h0M164 972h0M93 799h0M77 982h0M92 1022h0M101 880h0M149 799h0M185 798h0M128 845h0M90 780h0M100 835h0M199 1112h0M85 907h0M137 1124h0M179 1127h0M163 826h0M150 1031h0M96 870h0M223 1000h0M201 1014h0M187 927h0M87 805h0M157 896h0M92 800h0M159 807h0M95 952h0M135 1010h0M162 947h0M199 780h0M216 908h0M246 1081h0M198 935h0M224 993h0M172 791h0M170 792h0"/><path stroke="#3fbc73" d="M150 942h0M136 894h0M179 880h0M150 886h0M105 775h0M126 1041h0M219 1007h0M130 990h0M191 884h0M160 1064h0M135 931h0M135 827h0M131 808h0M85 806h0M149 869h0M112 878h0M145 816h0M157 842h0M114 848h0M192 816h0M172 841h0M159 979h0M115 901h0M138 837h0M77 1010h0M174 779h0M114 853h0M158 858h0M106 964h0M186 997h0M76 845h0M79 966h0M142 812h0M90 812h0M94 849h0M166 1055h0M170 1061h0M179 901h0M118 1015h0M106 788h0M163 949h0M204 946h0M76 1003h0M126 876h0M110 1034h0M171 1061h0M168 890h0M115 787h0M111 842h0M145 1032h0M90 985h0M177 767h0M88 873h0M181 832h0M195 846h0M198 864h0M182 819h0M140 907h0M210 952h0M146 918h0M152 972h0M136 930h0M214 940h0M146 912h0M99 780h0M98 792h0M118 790h0M131 1031h0M200 908h0M151 916h0M152 825h0M108 871h0M149 882h0M171 1115h0M192 824h0M225 903h0M187 901h0M200 883h0M191 880h0M193 904h0M240 863h0M215 809h0M171 799h0M212 815h0M212 817h0"/><path stroke="#4ac16d" d="M149 928h0M131 1002h0M105 997h0M195 1096h0M137 941h0M214 1012h0M186 866h0M132 1006h0M97 866h0M172 868h0M148 994h0M172 863h0M87 847h0M193 770h0M106 951h0M123 833h0M95 792h0M176 869h0M193 913h0M195 836h0M123 847h0M79 784h0M182 1010h0M220 958h0M195 867h0M185 903h0M205 871h0M90 869h0M188 864h0M98 945h0M118 1084h0M114 1040h0M96 983h0M138 910h0M100 1068h0M214 893h0M143 976h0M121 964h0M155 806h0M221 978h0M163 829h0M159 958h0M144 987h0M127 1045h0M160 1047h0M189 849h0M195 855h0M168 964h0M91 1035h0M100 948h0M165 880h0M200 831h0M100 804h0M210 918h0M132 1002h0M110 871h0M115 776h0M178 1073h0M217 981h0M171 845h0M112 960h0M212 876h0M191 888h0M217 969h0M190 899h0M186 823h0M169 784h0M196 903h0M183 874h0M228 815h0M304 1014h0"/><path stroke="#56c667" d="M127 806h0M163 802h0M128 1045h0M180 825h0M168 891h0M184 826h0M106 799h0M129 778h0M172 781h0M204 880h0M145 809h0M156 1074h0M173 861h0M84 933h0M101 781h0M95 903h0M168 792h0M103 1058h0M182 985h0M76 790h0M167 846h0M192 897h0M188 856h0M184 818h0M184 949h0M146 809h0M186 821h0M96 856h0M197 846h0M181 858h0M178 909h0M150 965h0M160 1038h0M119 803h0M174 805h0M171 824h0M129 1070h0M148 803h0M171 858h0M85 966h0M84 838h0M124 1114h0M158 863h0M77 855h0M122 779h0M125 916h0M109 882h0M153 861h0M132 829h0M89 836h0M177 851h0M76 926h0M203 863h0M195 891h0M139 768h0M178 820h0M180 964h0M81 881h0M192 827h0M202 904h0M219 955h0M166 831h0M230 1028h0M167 797h0M179 824h0M219 1054h0M187 858h0M177 803h0M193 853h0M195 837h0M186 780h0M196 901h0M167 786h0M220 808h0M216 847h0"/><path stroke="#65cb5e" d="M162 860h0M122 870h0M164 964h0M178 811h0M188 1080h0M190 795h0M79 958h0M96 1002h0M98 827h0M91 843h0M151 771h0M89 783h0M154 827h0M171 998h0M185 921h0M77 960h0M102 858h0M195 790h0M150 823h0M140 887h0M169 907h0M175 819h0M145 953h0M75 846h0M170 812h0M176 883h0M147 981h0M87 829h0M81 1079h0M121 904h0M162 870h0M196 997h0M154 900h0M171 907h0M194 816h0M185 800h0M141 1061h0M211 863h0M169 807h0M170 1034h0M194 1016h0M172 777h0M114 1055h0M196 946h0M183 919h0M123 798h0M125 837h0M109 974h0M156 937h0M108 877h0M166 911h0M116 831h0M163 868h0M175 987h0M179 907h0M136 843h0M201 832h0M193 851h0M178 788h0M191 875h0M204 873h0M205 908h0M187 848h0M170 792h0M216 957h0"/><path stroke="#73d056" d="M156 835h0M202 904h0M185 864h0M105 806h0M122 836h0M87 1011h0M106 1082h0M161 858h0M222 954h0M138 961h0M187 800h0M146 911h0M77 1048h0M114 896h0M191 833h0M174 785h0M106 816h0M196 828h0M80 840h0M190 857h0M134 954h0M183 789h0M162 1031h0M156 844h0M123 981h0M181 899h0M96 774h0M85 835h0M181 844h0M86 953h0M200 893h0M183 778h0M110 857h0M96 810h0M201 906h0M206 951h0M175 916h0M160 827h0M106 834h0M195 869h0M200 853h0M186 768h0M112 883h0M132 835h0M172 768h0M224 825h0M176 769h0M189 903h0M167 799h0M201 895h0M177 852h0M183 837h0M208 928h0M200 887h0M198 881h0M211 799h0M209 833h0M188 865h0M216 967h0M192 806h0M213 887h0"/><path stroke="#84d44b" d="M92 806h0M120 849h0M219 1011h0M148 803h0M89 888h0M182 997h0M200 927h0M166 860h0M144 1036h0M157 985h0M168 973h0M157 833h0M194 880h0M117 930h0M165 910h0M196 908h0M97 854h0M148 817h0M100 771h0M149 909h0M126 812h0M169 844h0M89 809h0M189 896h0M192 801h0M92 883h0M107 825h0M190 795h0M149 788h0M200 924h0M139 947h0M76 768h0M159 819h0M130 875h0M190 932h0M212 873h0M186 853h0M220 1014h0M213 979h0M186 897h0M216 1041h0M178 856h0M219 877h0M433 1085h0"/><path stroke="#93d741" d="M210 908h0M119 800h0M162 1015h0M138 1091h0M190 876h0M175 854h0M177 810h0M182 980h0M114 819h0M136 854h0M176 824h0M184 861h0M107 871h0M109 790h0M162 905h0M137 925h0M109 942h0M207 889h0M110 992h0M157 898h0M101 978h0M133 1020h0M130 1042h0M189 848h0M182 804h0M208 965h0M224 1017h0"/><path stroke="#a2da37" d="M80 955h0M191 772h0M158 972h0M140 887h0M158 854h0M151 960h0M171 920h0M126 1066h0M144 808h0M206 1004h0M85 772h0M182 859h0M129 892h0M114 776h0M135 1043h0M180 898h0M189 879h0M160 784h0M158 846h0M156 779h0M141 1022h0M176 856h0M165 900h0M95 850h0M177 804h0M187 851h0M203 893h0M186 814h0M196 826h0"/><path stroke="#b5de2b" d="M172 899h0M165 930h0M164 834h0M158 788h0M211 867h0M169 857h0M198 838h0M95 799h0M98 1037h0M203 846h0M171 858h0M209 875h0M163 891h0M220 828h0"/><path stroke="#c5e021" d="M102 879h0M185 777h0M191 809h0M113 779h0M165 811h0M159 768h0M113 769h0M171 932h0M117 795h0M152 776h0M183 828h0M80 836h0M176 786h0"/><path stroke="#d8e219" d="M127 1073h0M106 774h0M157 839h0M210 861h0M193 900h0"/><path stroke="#e7e419" d="M224 884h0M112 771h0M172 816h0M176 889h0M75 789h0M138 880h0M230 983h0M168 817h0"/><path stroke="#f6e620" d="M121 807h0M112 806h0M191 1042h0M168 978h0M126 834h0M149 795h0M128 1013h0M123 806h0M137 946h0M177 776h0"/><path stroke="#450559" d="M201 1071h0M222 1131h0M193 939h0M206 1148h0M217 1032h0M195 943h0M199 1012h0M202 1009h0"/><path stroke="#470e61" d="M233 999h0M238 1025h0M247 964h0M174 1119h0M240 1166h0M226 930h0M214 985h0"/><path stroke="#48186a" d="M226 1070h0M223 1063h0M235 1084h0M131 1158h0M236 1020h0M172 972h0M248 1063h0M214 1099h0M194 1137h0M184 1163h0M215 1036h0M226 1160h0M195 1135h0M234 1076h0M190 1143h0M230 999h0M205 1127h0M194 1111h0M191 981h0M200 1038h0M199 976h0M180 1122h0M220 1168h0M227 1063h0M208 1088h0M218 1075h0"/><path stroke="#482071" d="M214 1088h0M175 955h0M183 977h0M236 1156h0M253 1007h0M225 961h0M224 1148h0M216 1000h0M181 995h0M207 1174h0M207 946h0M198 1047h0M233 1054h0M221 980h0M204 1066h0M217 1076h0M215 1083h0M218 1047h0M199 1094h0M217 1035h0M207 1122h0M264 1098h0M213 1132h0M227 1120h0M213 935h0M173 1070h0M218 948h0M235 1065h0M226 1053h0M228 1048h0M219 1033h0M223 1108h0M229 1026h0M202 917h0"/><path stroke="#482878" d="M155 1128h0M203 1073h0M76 1129h0M209 935h0M205 1039h0M209 1165h0M204 967h0M195 1068h0M218 1000h0M187 958h0M212 973h0M207 974h0M223 1180h0M214 944h0M192 958h0M244 1101h0M235 1027h0M193 1129h0M219 967h0M208 1135h0M243 970h0M205 986h0M217 1138h0M186 997h0M235 1015h0M171 1164h0M216 1146h0M189 963h0M202 966h0M212 913h0M239 1130h0M219 1009h0M216 1179h0M187 944h0M198 958h0M215 1132h0M234 1099h0M199 938h0M220 934h0M231 1065h0M213 1057h0M217 1145h0M228 1091h0M210 1041h0M224 920h0M231 970h0M247 958h0"/><path stroke="#46307e" d="M99 1128h0M211 1136h0M224 1013h0M212 1033h0M205 1038h0M183 1061h0M229 982h0M196 971h0M244 954h0M205 1050h0M226 999h0M231 1147h0M218 1107h0M124 1170h0M222 1149h0M224 1065h0M167 1143h0M222 991h0M153 1126h0M220 976h0M235 1089h0M246 1097h0M205 1007h0M204 1069h0M218 932h0M222 930h0M223 1021h0M200 1001h0M222 978h0M227 1133h0M205 965h0M206 957h0M213 1037h0M211 1110h0M201 1147h0M92 1177h0M227 1141h0M172 1159h0M209 967h0M227 1069h0M205 1166h0M234 1081h0M214 939h0M226 1002h0M227 948h0M220 1156h0M222 1036h0M290 1134h0"/><path stroke="#453882" d="M128 1118h0M182 1003h0M202 968h0M247 1079h0M214 965h0M206 998h0M193 1032h0M230 1062h0M202 1117h0M229 1007h0M165 1144h0M101 1100h0M195 1150h0M217 917h0M155 1170h0M241 968h0M216 1030h0M195 1034h0M240 1051h0M113 1111h0M207 1083h0M211 1088h0M226 1010h0M220 1034h0M203 1148h0M230 1025h0M223 1040h0M217 997h0M210 1123h0M219 1159h0M176 973h0M230 1142h0M218 1062h0M94 985h0M174 1127h0M81 1142h0M201 1025h0M199 1046h0M197 1016h0M239 1075h0M223 1106h0M201 1063h0M199 1109h0M200 1010h0M121 1179h0M228 1161h0M186 1151h0M218 1098h0M105 1124h0M191 1159h0M212 1103h0M206 1003h0M237 1154h0M223 1049h0M205 1123h0M228 1091h0M210 1038h0M225 1036h0M225 968h0M203 1048h0M211 945h0M216 1102h0M205 934h0M231 1064h0M232 971h0M203 978h0M218 1097h0M225 1065h0M210 946h0M214 981h0M243 1148h0M207 952h0"/><path stroke="#424086" d="M229 1073h0M107 1095h0M208 1053h0M218 983h0M213 1124h0M191 1066h0M178 1171h0M220 1031h0M235 1087h0M170 1148h0M190 1179h0M239 1116h0M216 1080h0M222 947h0M239 968h0M222 1037h0M82 1160h0M242 1078h0M221 1164h0M223 1138h0M216 950h0M212 1090h0M227 1051h0M231 1105h0M92 1121h0M214 1163h0M186 1174h0M233 1084h0M185 961h0M226 1018h0M233 1058h0M204 1113h0M198 989h0M242 1019h0M195 989h0M215 1100h0M235 970h0M229 979h0M230 986h0M189 1065h0M216 1101h0M206 927h0M207 1066h0M231 1020h0M156 965h0M148 1156h0M214 1124h0M192 1051h0M88 1129h0M222 1074h0M92 1138h0M228 986h0M77 1136h0M202 952h0M217 1023h0M221 1117h0M215 1131h0M215 967h0M203 1081h0M208 985h0M223 1028h0M224 1019h0M201 959h0M238 1111h0M220 1050h0M216 974h0M249 1028h0M226 959h0M207 1057h0M216 1043h0"/><path stroke="#3f4788" d="M212 928h0M145 1104h0M196 1147h0M129 1142h0M231 1111h0M114 1165h0M200 1085h0M166 1100h0M203 1030h0M213 975h0M218 1106h0M200 1146h0M204 1060h0M226 1133h0M135 1151h0M196 973h0M147 1154h0M189 1152h0M186 1015h0M122 1106h0M244 1157h0M213 976h0M223 1147h0M218 1159h0M211 1047h0M232 925h0M196 1006h0M245 1130h0M97 1100h0M103 1177h0M205 1101h0M227 981h0M223 991h0M208 1109h0M219 1049h0M101 1096h0M213 1026h0M214 1102h0M224 998h0M219 944h0M160 1145h0M219 981h0M213 1132h0M224 1116h0M234 965h0M211 1143h0M224 1005h0M225 1027h0M210 1132h0M214 1085h0M207 964h0M207 1102h0M198 935h0"/><path stroke="#3d4e8a" d="M159 1129h0M129 1140h0M151 1149h0M238 1076h0M96 1117h0M197 1029h0M75 1153h0M210 915h0M216 1081h0M197 1023h0M212 967h0M193 1137h0M185 999h0M206 1077h0M213 1150h0M201 1166h0M163 919h0M213 1086h0M197 1158h0M216 1003h0M128 1092h0M209 1041h0M201 1085h0M211 1140h0M222 1046h0M205 926h0M220 1039h0M158 1147h0M246 1006h0M224 1038h0M216 1130h0M211 1147h0M106 1177h0M136 1169h0M211 976h0M223 1103h0M192 985h0M196 931h0M221 1179h0M83 1095h0M214 960h0M235 985h0M223 1016h0M200 1152h0M225 1066h0M228 1024h0M210 1131h0M276 1131h0"/><path stroke="#39558c" d="M78 1129h0M218 1105h0M122 1052h0M193 1110h0M189 1018h0M204 950h0M219 952h0M213 1095h0M235 1044h0M80 1170h0M120 1157h0M162 1155h0M217 970h0M209 1107h0M209 1052h0M116 934h0M108 1167h0M223 1153h0M218 1088h0M219 1129h0M219 1044h0M250 983h0M185 973h0M92 1109h0M182 1137h0M141 1119h0M224 1124h0M227 1165h0M211 1075h0M211 1154h0M188 969h0M220 1155h0M130 1144h0M218 1151h0M207 972h0M218 1010h0M236 1019h0M206 1145h0M225 962h0M208 1084h0"/><path stroke="#365c8d" d="M222 972h0M214 1176h0M201 1160h0M76 1152h0M163 1031h0M134 1167h0M219 984h0M232 1078h0M210 973h0M98 1141h0M187 1161h0M160 1046h0M137 1140h0M225 1062h0M227 1164h0M190 1142h0M195 1173h0M225 1072h0M221 967h0M234 1117h0M232 1107h0M229 1041h0M213 922h0M217 955h0M367 1103h0"/><path stroke="#33638d" d="M125 1145h0M211 1176h0M226 1025h0M80 1157h0M77 1160h0M170 1168h0M78 813h0M196 1112h0M137 1078h0M210 1011h0M164 1178h0M205 971h0M206 1063h0M126 1137h0M222 972h0M80 1138h0M146 1101h0M123 1132h0M222 1045h0M143 1138h0M154 1132h0M213 1013h0M141 1096h0M206 1146h0M166 1135h0M121 1151h0M189 1121h0M141 1158h0M217 1107h0M77 1102h0M240 1087h0M132 939h0M217 1147h0M229 1068h0M210 1036h0M226 1102h0M223 1029h0M217 1067h0"/><path stroke="#30698e" d="M155 1012h0M144 1002h0M117 966h0M102 991h0M90 1103h0M95 1180h0M191 1169h0M130 1124h0M181 1137h0M227 1020h0M79 1109h0M90 944h0M221 946h0M129 1126h0M80 832h0M88 1126h0M230 1059h0M144 1155h0M94 1172h0M114 1125h0M86 1015h0M183 1055h0M75 1170h0M89 1145h0M235 1112h0M217 1077h0M225 1038h0M204 1110h0M220 1095h0M338 1062h0M380 1114h0"/><path stroke="#2e6f8e" d="M101 1151h0M102 1086h0M188 1128h0M177 938h0M130 1155h0M121 1139h0M96 898h0M81 1167h0M96 1126h0M217 1055h0M139 1114h0M115 1140h0M121 1113h0M134 1172h0M104 1062h0M123 981h0M139 1015h0M225 1047h0M88 1164h0M151 1076h0M128 1025h0M127 1093h0M140 993h0M103 1062h0M113 1051h0M180 972h0M120 807h0M122 895h0M185 984h0M195 841h0M211 1120h0M207 960h0"/><path stroke="#2b758e" d="M75 974h0M96 1148h0M125 793h0M138 939h0M140 771h0M141 1155h0M85 958h0M81 1041h0M198 1006h0M115 1172h0M231 1062h0M236 1151h0M96 1039h0M106 1130h0M164 1102h0M127 1050h0M132 966h0M163 1173h0M135 1150h0M108 963h0M109 920h0M107 1100h0M88 1076h0M231 1032h0"/><path stroke="#297b8e" d="M138 1151h0M84 871h0M201 936h0M221 1096h0M145 1138h0M154 1017h0M93 987h0M105 924h0M95 1129h0M169 1115h0M174 995h0M182 1082h0M140 864h0M156 1162h0M164 1082h0M87 838h0M120 1029h0M131 853h0M109 969h0M114 904h0M174 1124h0M234 1160h0M151 1094h0M148 1006h0M220 899h0M80 982h0M84 1077h0M126 1068h0M129 1087h0M77 1138h0M102 820h0M102 1129h0M109 964h0M110 1144h0M165 1078h0M166 1138h0M103 993h0M130 1092h0M126 1154h0M160 788h0M156 1156h0M242 1103h0M213 945h0M215 947h0"/><path stroke="#26828e" d="M77 1126h0M202 960h0M158 1045h0M96 805h0M133 910h0M198 1176h0M159 1111h0M102 1141h0M173 1131h0M78 977h0M126 862h0M109 1177h0M87 918h0M112 1146h0M141 906h0M153 898h0M169 1081h0M177 1111h0M170 1059h0M131 787h0M125 1054h0M186 836h0M180 904h0M155 1002h0M138 795h0M172 973h0M85 1049h0M156 995h0M142 802h0M183 871h0M219 975h0M168 1131h0M86 976h0M188 962h0M81 1030h0M234 1029h0M173 1139h0M92 992h0M105 1037h0M138 805h0M124 1146h0M156 1122h0M137 1038h0M263 1020h0M229 1090h0"/><path stroke="#24878e" d="M144 1088h0M135 1053h0M173 1171h0M179 1130h0M83 903h0M123 1102h0M139 962h0M100 1027h0M137 1090h0M238 1079h0M81 1050h0M101 931h0M76 910h0M78 912h0M88 1128h0M110 857h0M88 1163h0M97 836h0M226 1059h0M133 997h0M196 1159h0M187 971h0M183 1155h0M125 1050h0M118 1147h0M174 848h0M165 923h0M169 1112h0M75 1125h0M169 928h0M186 1043h0M218 895h0M215 932h0M146 935h0M83 1153h0M143 1158h0M103 1034h0M107 972h0M184 1025h0M105 1050h0M100 1126h0M219 982h0M165 1012h0M125 1111h0M186 815h0M188 878h0M223 1076h0M210 807h0M234 1065h0"/><path stroke="#228d8d" d="M84 867h0M98 854h0M119 906h0M86 1163h0M133 907h0M79 995h0M140 911h0M119 883h0M122 808h0M210 976h0M140 770h0M252 1116h0M145 940h0M115 1074h0M108 847h0M121 1131h0M88 1108h0M98 1038h0M142 1163h0M169 1165h0M82 822h0M179 987h0M88 1128h0M135 1174h0M166 1163h0M163 962h0M137 1051h0M187 1046h0M172 830h0M162 970h0M147 1080h0M98 1116h0M90 1056h0M123 986h0M79 1082h0M121 1176h0M201 833h0M105 1040h0M94 989h0M124 1015h0M115 1066h0M159 1026h0M124 991h0M199 1014h0M167 1161h0M83 973h0M160 964h0M148 1126h0M195 1174h0M174 1121h0M132 1077h0M98 939h0M153 1021h0M109 1109h0M132 864h0M95 933h0M99 984h0M117 1084h0M156 985h0M162 1156h0M117 1140h0M85 1123h0M172 1097h0M185 1159h0M87 943h0M120 793h0M184 788h0M226 1074h0M223 803h0M184 790h0M210 860h0M171 778h0M208 1074h0M214 955h0M372 943h0M405 1040h0M284 964h0M310 1053h0M287 1097h0M262 1053h0M258 1063h0M236 847h0M232 1134h0"/><path stroke="#20938c" d="M75 885h0M171 1097h0M88 1066h0M80 1021h0M111 776h0M219 1055h0M125 841h0M140 1072h0M159 1084h0M217 915h0M204 890h0M173 928h0M212 988h0M131 873h0M125 829h0M95 1155h0M161 1017h0M144 1015h0M108 865h0M94 1078h0M190 1037h0M163 1143h0M100 1072h0M92 1042h0M118 852h0M214 1144h0M147 958h0M141 1127h0M194 1094h0M124 1087h0M110 1001h0M103 1030h0M171 1168h0M179 912h0M167 1031h0M137 1056h0M159 916h0M228 1047h0M127 1058h0M84 984h0M132 1052h0M185 909h0M168 870h0M107 887h0M99 1021h0M95 958h0M225 930h0M172 992h0M116 958h0M132 842h0M117 792h0M158 1105h0M160 850h0M87 922h0M160 956h0M134 796h0M85 855h0M207 866h0M193 1050h0M156 932h0M176 1033h0M103 927h0M90 817h0M176 992h0M175 785h0M236 1031h0M182 830h0M205 827h0M243 1157h0M197 927h0M221 965h0M180 838h0M344 891h0M290 1067h0M302 1068h0M261 1023h0"/><path stroke="#1f998a" d="M138 855h0M105 1051h0M112 1087h0M88 972h0M147 1121h0M185 945h0M79 959h0M86 844h0M98 1095h0M128 1159h0M164 1031h0M120 854h0M100 819h0M117 1170h0M152 996h0M198 893h0M140 1027h0M117 950h0M91 789h0M183 864h0M92 1084h0M155 951h0M103 1137h0M184 1082h0M86 870h0M113 1033h0M132 1041h0M176 1020h0M79 1113h0M85 864h0M145 940h0M214 1145h0M85 1046h0M164 945h0M246 1041h0M108 799h0M151 885h0M161 1050h0M92 1090h0M167 1020h0M79 1014h0M78 811h0M165 792h0M118 1022h0M102 1019h0M103 944h0M233 921h0M89 981h0M87 892h0M132 1076h0M128 1119h0M96 820h0M187 1074h0M144 1100h0M140 1005h0M186 989h0M190 948h0M84 786h0M100 1162h0M132 1171h0M83 1131h0M138 769h0M133 791h0M154 1094h0M97 1065h0M100 1102h0M149 821h0M164 1034h0M148 1161h0M163 858h0M155 1080h0M158 991h0M103 788h0M112 996h0M123 792h0M168 928h0M160 1109h0M138 1133h0M172 1022h0M131 964h0M235 1036h0M191 896h0M212 934h0M219 915h0M216 955h0M166 786h0"/><path stroke="#1fa088" d="M101 916h0M89 919h0M195 847h0M83 829h0M102 1079h0M144 1087h0M107 1036h0M146 1056h0M186 883h0M110 846h0M177 1026h0M151 788h0M119 995h0M229 1077h0M139 1085h0M162 1037h0M96 869h0M151 879h0M212 918h0M117 1175h0M106 885h0M146 1077h0M191 828h0M213 1146h0M83 929h0M188 899h0M76 977h0M170 794h0M113 777h0M168 1045h0M162 916h0M98 819h0M155 838h0M95 822h0M104 1131h0M181 868h0M134 861h0M109 949h0M120 807h0M81 881h0M96 981h0M196 872h0M195 1158h0M135 1051h0M175 1094h0M108 878h0M154 824h0M117 987h0M104 1007h0M136 806h0M105 777h0M82 1073h0M186 782h0M193 1083h0M157 1130h0M121 1111h0M110 1021h0M115 891h0M76 985h0M183 977h0M163 848h0M83 1031h0M100 1155h0M174 943h0M186 1024h0M162 792h0M75 865h0M152 871h0M205 888h0M113 1015h0M146 1147h0M102 801h0M174 929h0M170 1121h0M173 1121h0M195 888h0M216 1021h0M112 953h0M111 1083h0M157 1104h0M143 798h0M117 1153h0M78 934h0M174 1032h0M193 855h0M116 1046h0M115 840h0M160 1129h0M115 881h0M155 1023h0M114 896h0M195 901h0M210 885h0M217 1049h0M211 946h0M181 791h0"/><path stroke="#21a585" d="M94 891h0M165 911h0M225 947h0M160 816h0M78 1063h0M97 901h0M136 976h0M159 818h0M133 910h0M147 994h0M84 1031h0M181 805h0M121 1080h0M83 831h0M131 806h0M180 1074h0M110 811h0M108 886h0M84 849h0M148 968h0M87 906h0M182 895h0M196 827h0M122 970h0M146 1111h0M129 893h0M130 954h0M117 868h0M146 878h0M139 917h0M94 876h0M163 788h0M87 888h0M132 1169h0M148 1171h0M100 1035h0M81 1050h0M87 1101h0M141 1076h0M93 843h0M89 1030h0M138 1120h0M81 927h0M138 1140h0M159 842h0M141 865h0M209 818h0M163 995h0M102 942h0M81 1095h0M119 1025h0M81 771h0M161 1095h0M119 983h0M163 946h0M94 771h0M168 1095h0M137 1004h0M130 1013h0M127 836h0M210 989h0M197 922h0M157 927h0M190 768h0M183 1152h0M86 1158h0M109 791h0M199 1068h0M160 1060h0M118 1074h0M113 934h0M112 1108h0M108 832h0M168 1122h0M140 1038h0M88 773h0M108 818h0M118 990h0M152 948h0M102 853h0M92 923h0M120 974h0M124 1060h0M190 894h0M106 1023h0M165 904h0M147 1095h0M82 938h0M174 795h0M124 1117h0M100 846h0M150 1146h0M159 1103h0M167 987h0M130 920h0M210 904h0M239 935h0M191 1062h0M145 1014h0M90 1141h0M195 801h0M187 878h0M196 920h0M190 865h0M187 843h0M225 934h0M193 880h0M201 923h0"/><path stroke="#25ab82" d="M172 976h0M156 1073h0M99 934h0M147 1056h0M178 964h0M93 812h0M135 833h0M156 934h0M84 966h0M93 989h0M202 906h0M166 1064h0M130 1029h0M82 1019h0M140 1009h0M131 1053h0M218 949h0M112 906h0M91 991h0M158 808h0M127 935h0M172 951h0M143 916h0M92 820h0M96 786h0M173 1025h0M132 981h0M171 953h0M173 1126h0M78 794h0M78 1085h0M120 820h0M115 919h0M154 918h0M157 1011h0M178 1109h0M95 779h0M89 1142h0M95 979h0M140 1084h0M136 786h0M97 976h0M170 930h0M169 1006h0M130 908h0M179 982h0M175 982h0M87 813h0M173 775h0M77 965h0M84 990h0M200 912h0M169 1036h0M117 823h0M214 943h0M81 1094h0M94 861h0M205 904h0M227 1033h0M180 939h0M80 957h0M141 864h0M154 1148h0M77 1075h0M141 783h0M152 1030h0M184 1008h0M199 931h0M94 948h0M117 1009h0M176 1009h0M87 961h0M146 921h0M79 940h0M126 859h0M185 796h0M127 877h0M78 973h0M158 1041h0M121 874h0M107 883h0M159 1016h0M159 1036h0M139 1091h0M76 1010h0M93 820h0M97 821h0M120 1099h0M109 1139h0M210 885h0M214 1061h0M238 984h0M195 845h0M176 831h0M177 804h0"/><path stroke="#2cb17e" d="M112 1050h0M150 1091h0M78 792h0M88 900h0M116 892h0M126 823h0M127 830h0M103 967h0M199 896h0M99 810h0M164 826h0M123 971h0M89 1033h0M135 949h0M169 906h0M118 1048h0M156 1012h0M104 1033h0M76 983h0M115 1046h0M135 800h0M78 1053h0M84 1110h0M173 1022h0M77 1157h0M116 877h0M102 989h0M188 874h0M126 842h0M99 1074h0M161 1090h0M84 800h0M76 1010h0M83 1046h0M95 915h0M136 1168h0M118 887h0M101 927h0M154 968h0M155 1157h0M136 974h0M98 989h0M85 1027h0M170 1152h0M145 838h0M99 904h0M131 1082h0M120 911h0M105 1005h0M233 976h0M118 862h0M125 1074h0M157 898h0M119 822h0M215 954h0M86 930h0M84 966h0M192 890h0M182 917h0M121 844h0M102 855h0M194 1001h0M178 843h0M82 770h0M97 844h0M206 773h0M174 1015h0M87 1053h0M100 910h0M194 1107h0M138 1007h0M142 1030h0M117 854h0M135 1104h0M177 781h0M209 985h0M212 892h0M212 889h0M176 834h0M225 951h0M202 858h0M373 904h0M444 1016h0M270 1047h0"/><path stroke="#34b679" d="M145 976h0M204 972h0M140 927h0M85 966h0M117 811h0M211 1087h0M116 1091h0M174 824h0M149 795h0M139 886h0M130 792h0M84 942h0M231 1006h0M214 903h0M235 1084h0M172 1066h0M79 838h0M119 863h0M97 944h0M79 806h0M86 1001h0M149 1088h0M160 1003h0M124 850h0M154 779h0M174 770h0M125 807h0M176 783h0M123 957h0M95 1047h0M184 797h0M167 993h0M122 887h0M96 1079h0M175 917h0M135 1069h0M131 944h0M192 968h0M147 843h0M206 925h0M116 866h0M138 847h0M187 834h0M138 768h0M172 972h0M130 1101h0M99 797h0M76 969h0M132 1048h0M134 1005h0M152 1089h0M90 775h0M101 919h0M80 819h0M149 953h0M108 970h0M107 824h0M154 965h0M115 805h0M89 823h0M153 1057h0M127 803h0M177 798h0M162 862h0M78 917h0M147 845h0M146 1063h0M98 847h0M78 793h0M163 985h0M190 856h0M171 845h0M155 768h0M189 870h0M154 810h0M138 1060h0M162 832h0M92 775h0M99 990h0M83 959h0M105 822h0M188 972h0M123 805h0M140 960h0M201 970h0M220 868h0M210 933h0M218 879h0M199 890h0M178 793h0M237 1072h0M177 815h0M244 1057h0M201 812h0"/><path stroke="#3fbc73" d="M177 816h0M177 1013h0M155 904h0M150 926h0M172 1063h0M76 860h0M163 883h0M132 796h0M95 846h0M186 803h0M101 945h0M171 904h0M90 987h0M89 972h0M159 869h0M161 925h0M108 933h0M116 809h0M156 945h0M82 798h0M168 935h0M148 859h0M187 796h0M163 891h0M144 1131h0M112 934h0M158 805h0M141 888h0M142 896h0M124 875h0M169 844h0M82 904h0M114 943h0M190 799h0M92 786h0M231 1052h0M167 885h0M153 771h0M107 1019h0M203 1010h0M200 1006h0M133 779h0M128 969h0M128 815h0M135 851h0M80 967h0M177 953h0M203 881h0M175 817h0M143 800h0M212 968h0M185 836h0M136 870h0M205 1097h0M174 846h0M127 943h0M143 895h0M137 1074h0M133 980h0M180 851h0M94 803h0M191 892h0M85 804h0M127 775h0M204 1017h0M189 853h0M134 900h0M134 897h0M103 870h0M162 814h0M136 1109h0M157 1034h0M156 824h0M148 965h0M164 938h0M168 879h0M236 981h0M154 801h0M115 1083h0M161 986h0M160 894h0M193 873h0M172 789h0M214 936h0M134 834h0M109 1073h0M176 923h0M146 1003h0M172 1001h0M172 771h0M188 925h0M158 1127h0M195 913h0M173 806h0M221 1005h0M254 1038h0M194 793h0"/><path stroke="#4ac16d" d="M82 906h0M170 893h0M162 1063h0M180 1055h0M150 801h0M141 907h0M168 811h0M84 843h0M143 781h0M195 994h0M137 909h0M175 875h0M184 837h0M124 853h0M114 864h0M168 842h0M138 851h0M93 823h0M138 780h0M149 1018h0M177 934h0M140 855h0M76 779h0M196 787h0M173 887h0M143 867h0M175 999h0M164 849h0M168 851h0M167 1001h0M140 788h0M156 861h0M156 823h0M149 966h0M135 781h0M206 881h0M96 798h0M145 786h0M174 899h0M173 826h0M101 1020h0M170 792h0M143 793h0M148 1004h0M173 965h0M89 912h0M181 970h0M175 879h0M181 1133h0M191 816h0M191 905h0M148 816h0M121 933h0M76 861h0M192 867h0M103 960h0M142 1056h0M133 835h0M75 806h0M77 874h0M177 851h0M102 855h0M163 892h0M180 888h0M158 1130h0M153 838h0M128 811h0M156 803h0M113 814h0M84 1011h0M76 998h0M165 1000h0M95 813h0M171 816h0M159 951h0M79 834h0M164 1099h0M193 854h0M165 993h0M100 839h0M188 903h0M221 1027h0M116 838h0M185 823h0M135 808h0M174 776h0M108 934h0M100 819h0M123 882h0M192 823h0M199 895h0M214 1043h0M195 874h0M216 931h0M210 876h0M206 890h0M170 816h0M185 857h0M217 951h0M188 865h0M174 791h0M178 787h0"/><path stroke="#56c667" d="M136 1012h0M76 1093h0M136 877h0M147 924h0M105 928h0M78 833h0M99 859h0M142 936h0M215 876h0M195 976h0M160 887h0M194 865h0M114 914h0M126 911h0M96 777h0M125 972h0M173 904h0M135 902h0M129 842h0M130 771h0M127 793h0M148 981h0M155 871h0M95 820h0M163 871h0M173 849h0M86 1067h0M165 868h0M200 869h0M108 838h0M179 809h0M105 963h0M80 919h0M135 821h0M207 896h0M104 951h0M154 785h0M150 813h0M127 914h0M87 955h0M181 911h0M138 959h0M175 816h0M164 851h0M228 1003h0M198 852h0M191 801h0M157 783h0M119 966h0M162 953h0M104 1090h0M190 1061h0M185 966h0M165 925h0M150 899h0M222 1037h0M162 969h0M81 836h0M107 1027h0M86 889h0M167 960h0M114 978h0M107 866h0M144 904h0M118 973h0M216 907h0M161 857h0M144 1005h0M173 768h0M76 886h0M86 925h0M205 878h0M171 823h0M144 806h0M199 975h0M192 790h0M183 845h0M181 801h0M224 1101h0M189 789h0M214 917h0M173 770h0M211 929h0M180 850h0"/><path stroke="#65cb5e" d="M141 889h0M160 887h0M202 907h0M142 849h0M110 817h0M133 824h0M164 866h0M166 783h0M153 1011h0M162 850h0M76 933h0M99 833h0M95 805h0M193 799h0M134 956h0M102 1018h0M132 767h0M179 1084h0M184 865h0M166 878h0M187 1002h0M165 1067h0M183 915h0M179 838h0M176 821h0M138 846h0M124 818h0M158 919h0M99 839h0M109 1004h0M182 861h0M163 881h0M161 799h0M99 927h0M194 861h0M193 804h0M137 1033h0M190 874h0M88 963h0M191 897h0M168 1019h0M178 871h0M118 812h0M143 919h0M214 959h0M191 876h0M122 966h0M192 841h0M95 958h0M220 970h0M140 863h0M152 984h0M84 861h0M155 793h0M189 797h0M190 923h0M150 779h0M164 985h0M209 901h0M158 1014h0M209 908h0M89 1056h0M139 835h0M102 858h0M95 1025h0M167 1013h0M174 837h0M204 822h0M187 877h0M188 902h0M238 1079h0M211 923h0M187 874h0M196 922h0M184 908h0"/><path stroke="#73d056" d="M187 779h0M198 902h0M187 943h0M231 1046h0M196 820h0M175 775h0M172 887h0M147 902h0M126 1046h0M227 928h0M135 815h0M195 852h0M102 773h0M174 771h0M186 928h0M171 906h0M85 933h0M90 858h0M92 946h0M183 771h0M198 919h0M176 826h0M148 1057h0M95 942h0M159 799h0M132 939h0M87 841h0M141 839h0M180 854h0M203 862h0M158 837h0M192 876h0M127 849h0M82 861h0M140 875h0M207 861h0M133 776h0M148 860h0M79 817h0M173 914h0M188 845h0M101 814h0M78 859h0M197 873h0M178 781h0M198 863h0M220 1070h0M188 831h0M185 825h0M250 870h0M210 961h0M197 876h0M177 774h0M202 885h0M185 819h0"/><path stroke="#84d44b" d="M94 990h0M78 945h0M174 872h0M157 864h0M240 965h0M117 811h0M94 873h0M167 787h0M97 1020h0M172 928h0M143 976h0M86 836h0M189 886h0M132 943h0M197 878h0M83 926h0M185 821h0M100 1019h0M181 789h0M206 897h0M167 770h0M138 1006h0M80 833h0M151 828h0M193 821h0M169 823h0M82 838h0M82 838h0M127 976h0M139 861h0M169 843h0M163 802h0M208 916h0M89 944h0M122 806h0M132 866h0M77 787h0M138 816h0M182 844h0M105 878h0M154 956h0M199 899h0M209 931h0M79 827h0M176 968h0M172 832h0M174 816h0M124 984h0M76 889h0M202 822h0M205 923h0M123 866h0M180 793h0M208 908h0M172 804h0M179 840h0M232 1024h0M188 830h0M214 909h0M179 780h0M183 808h0M223 839h0M181 820h0"/><path stroke="#93d741" d="M160 769h0M113 916h0M195 927h0M225 954h0M159 1002h0M92 828h0M174 902h0M183 788h0M126 769h0M120 1063h0M151 992h0M201 903h0M122 850h0M116 839h0M157 839h0M134 883h0M103 924h0M161 1023h0M218 923h0M136 799h0M206 933h0M175 805h0M148 1050h0M212 883h0M119 1031h0M152 940h0M146 863h0M77 809h0M107 977h0M158 786h0M185 814h0M162 808h0M216 1014h0M92 874h0M167 828h0M224 821h0M183 835h0M183 857h0M192 826h0M182 859h0M184 824h0"/><path stroke="#a2da37" d="M124 981h0M154 887h0M114 789h0M191 881h0M202 851h0M94 851h0M179 871h0M226 1023h0M209 831h0M121 856h0M78 852h0M149 817h0M171 862h0M169 829h0M170 965h0M171 974h0M129 980h0M139 893h0M164 863h0M174 889h0M147 805h0M127 849h0M196 868h0M202 864h0M141 871h0M115 867h0M104 930h0M200 871h0M90 782h0M192 874h0M143 829h0M169 1018h0M156 970h0M190 873h0M180 819h0M167 810h0"/><path stroke="#b5de2b" d="M141 825h0M106 791h0M81 815h0M86 804h0M100 811h0M174 774h0M148 780h0M126 857h0M179 790h0M160 860h0M156 777h0M156 893h0M114 859h0M76 920h0M173 831h0M146 792h0M99 1029h0M116 897h0M118 958h0M179 796h0"/><path stroke="#c5e021" d="M212 889h0M181 802h0M198 851h0M162 866h0M196 876h0M150 787h0M133 971h0M150 832h0M98 782h0M166 1044h0M118 889h0M185 1039h0M156 793h0M101 874h0M166 808h0M172 773h0M174 774h0M191 789h0"/><path stroke="#d8e219" d="M226 922h0M180 839h0M97 878h0M84 903h0M155 837h0M185 781h0M182 853h0M89 793h0M140 1071h0M105 863h0"/><path stroke="#e7e419" d="M155 960h0M162 935h0M180 800h0"/><path stroke="#f6e620" d="M183 801h0M140 772h0M130 931h0M100 881h0M94 791h0M147 901h0M164 817h0M93 983h0"/><path stroke="#450559" d="M229 1006h0M196 1044h0M224 1116h0M210 1091h0M218 1119h0M219 959h0M236 1123h0M223 1110h0"/><path stroke="#470e61" d="M107 1096h0M240 1082h0M237 1103h0M207 940h0M221 1068h0M215 1058h0M229 1166h0"/><path stroke="#48186a" d="M243 1170h0M207 930h0M191 1049h0M224 1042h0M224 1092h0M222 929h0M213 932h0M231 1140h0M211 946h0M221 1126h0M219 1138h0M221 1033h0M243 1151h0M207 1167h0M212 1020h0M216 1124h0M215 951h0M220 1100h0M212 1034h0"/><path stroke="#482071" d="M188 1105h0M208 1085h0M235 1168h0M177 1113h0M183 1130h0M214 988h0M194 938h0M210 1179h0M140 1121h0M222 1040h0M221 1058h0M79 1161h0M218 1171h0M224 1025h0M225 1148h0M174 1109h0M202 922h0M218 963h0M227 1027h0M179 1061h0M200 998h0M226 1112h0M200 1149h0M224 1107h0M214 1118h0M224 1060h0M211 971h0M229 958h0M207 916h0M223 1006h0"/><path stroke="#482878" d="M202 1033h0M182 991h0M205 1070h0M195 1043h0M188 975h0M238 1072h0M207 965h0M204 1145h0M227 1001h0M214 951h0M253 1110h0M212 1170h0M230 951h0M209 1019h0M213 946h0M89 1166h0M97 1164h0M229 1090h0M117 1164h0M215 965h0M232 1052h0M220 983h0M185 1087h0M175 1019h0M214 952h0M222 1041h0M117 1152h0M192 1170h0M228 1173h0M242 1006h0M220 928h0M184 1151h0M225 1072h0M238 974h0M236 1052h0M215 1063h0M231 1054h0M220 946h0M217 936h0M170 1101h0M244 971h0M240 1124h0M218 1036h0M229 1044h0M166 1108h0M228 1132h0M123 1152h0M230 1093h0M231 1015h0M215 1109h0M228 1045h0M208 1152h0M222 1002h0M239 1005h0M229 1007h0M218 1100h0M204 1058h0M233 1117h0M216 996h0M229 939h0M218 1049h0M235 1076h0M203 1115h0M227 1138h0"/><path stroke="#46307e" d="M207 1024h0M195 1080h0M216 1081h0M216 1014h0M242 980h0M215 942h0M201 1027h0M203 925h0M226 1086h0M136 1121h0M214 1086h0M214 1143h0M226 1013h0M221 1092h0M138 1119h0M227 1071h0M94 1128h0M233 1028h0M163 1110h0M208 1061h0M216 1054h0M216 1002h0M232 1042h0M225 1148h0M213 1070h0M135 1099h0M227 1019h0M106 1164h0M218 1015h0M215 1109h0M233 996h0M190 980h0M215 1138h0M189 1171h0M191 1141h0M217 1068h0M215 939h0M238 1007h0M194 1000h0M234 1062h0M229 1014h0M216 1056h0M158 1176h0M203 1128h0M189 987h0M220 1081h0M208 1073h0M213 1007h0M212 1131h0M196 936h0M222 1153h0M211 1116h0M207 1172h0M209 1140h0M206 1069h0M221 955h0"/><path stroke="#453882" d="M196 1015h0M247 1031h0M224 1077h0M201 976h0M212 1026h0M206 961h0M231 1073h0M147 1136h0M186 1153h0M233 1120h0M84 1160h0M226 1160h0M218 1002h0M224 986h0M89 1129h0M194 1004h0M229 1125h0M212 1117h0M217 934h0M205 938h0M168 1073h0M185 912h0M207 1157h0M193 1006h0M216 971h0M225 991h0M217 1064h0M248 1108h0M112 1124h0M180 975h0M172 1127h0M237 1108h0M207 1068h0M114 1174h0M214 992h0M194 1120h0M185 1108h0M181 1105h0M214 1130h0M220 1064h0M219 1054h0M141 1168h0M206 1045h0M176 1145h0M180 1147h0M79 1135h0M211 952h0M189 1140h0M182 1102h0M212 1006h0M212 1159h0M153 1164h0M227 1008h0M221 1107h0M201 1178h0M217 994h0M206 1171h0M214 1155h0M225 1051h0M222 1160h0M224 959h0M217 1161h0M219 1090h0M212 1175h0M208 1155h0M217 1169h0M213 993h0M252 1104h0"/><path stroke="#424086" d="M212 1155h0M233 994h0M207 1163h0M208 966h0M110 1129h0M200 1104h0M187 1157h0M207 1043h0M234 1062h0M224 950h0M217 1121h0M230 1073h0M206 962h0M226 1078h0M215 1128h0M195 1125h0M221 913h0M240 995h0M199 959h0M212 1123h0M208 1097h0M230 1132h0M225 1097h0M100 1139h0M173 969h0M232 1150h0M213 1109h0M228 1126h0M215 981h0M221 996h0M208 1179h0M194 1172h0M196 939h0M226 1113h0M215 1047h0M219 1041h0M217 1167h0M97 1144h0M220 943h0M199 1028h0M232 983h0M238 1178h0M215 1111h0M225 981h0M195 1044h0M243 1071h0M203 1176h0M189 1128h0M101 987h0M220 974h0M212 939h0M241 1087h0M212 1167h0M219 973h0M225 1033h0M209 1069h0M225 1132h0M213 1062h0M233 1090h0M216 998h0M214 1043h0M202 1115h0M215 957h0M229 1060h0M218 1052h0M219 1178h0M214 1171h0M227 1167h0"/><path stroke="#3f4788" d="M236 1043h0M209 1124h0M166 1159h0M231 1171h0M223 1121h0M131 1107h0M127 1157h0M144 1142h0M78 1092h0M218 1116h0M213 1100h0M218 1000h0M201 1098h0M132 1158h0M218 978h0M194 1059h0M208 1133h0M226 1047h0M188 1150h0M215 1042h0M211 1126h0M219 1063h0M167 1163h0M203 1120h0M208 1026h0M190 948h0M178 1101h0M208 1018h0M220 1082h0M218 1134h0M175 1127h0M91 1171h0M202 931h0M214 965h0M215 1163h0M232 1034h0M139 1160h0M196 1151h0M135 1108h0M166 1140h0M216 1137h0M232 1066h0M213 975h0M174 1135h0M200 1138h0M218 1160h0M217 1078h0M235 1020h0M214 1003h0M216 1119h0M233 1069h0M216 1100h0M204 1160h0M224 1018h0M217 1016h0M215 1094h0M209 958h0"/><path stroke="#3d4e8a" d="M239 953h0M208 1044h0M213 1103h0M199 957h0M232 1088h0M150 1163h0M164 1114h0M135 1174h0M197 969h0M227 1116h0M180 920h0M196 1010h0M213 1002h0M253 999h0M227 1079h0M205 1031h0M215 1104h0M207 1175h0M158 1136h0M102 1073h0M238 1135h0M222 1048h0M207 1172h0M97 1123h0M212 949h0M175 1168h0M114 1178h0M235 1136h0M162 1153h0M81 1124h0M213 992h0M182 996h0M193 1060h0M212 1111h0M224 1073h0M214 1140h0M197 1172h0M217 970h0M219 1172h0M224 981h0M215 986h0M219 981h0M203 955h0M215 972h0M217 1127h0M215 1072h0M230 1154h0M210 1018h0M225 949h0M254 1035h0"/><path stroke="#39558c" d="M134 1099h0M173 962h0M206 1002h0M216 1158h0M201 1165h0M151 1137h0M188 1155h0M207 1166h0M217 991h0M87 916h0M145 1161h0M151 1120h0M213 1040h0M207 996h0M185 1127h0M204 1107h0M201 931h0M181 1000h0M190 1088h0M234 1092h0M220 1060h0M152 1145h0M191 1147h0M104 1128h0M88 1109h0M210 1177h0M100 1056h0M216 1109h0M117 1146h0M221 1096h0M216 1073h0M235 1110h0M225 1178h0M227 1041h0M215 1040h0M231 1069h0M227 1123h0M217 1123h0M213 926h0M209 1119h0M209 930h0"/><path stroke="#365c8d" d="M148 1040h0M95 1122h0M84 1131h0M215 1165h0M208 973h0M163 841h0M77 1151h0M107 1173h0M191 1061h0M203 1166h0M101 1129h0M211 1151h0M156 1134h0M153 1097h0M123 1121h0M154 1138h0M102 991h0M209 1150h0M222 963h0M93 1034h0M208 982h0M134 1164h0M227 1117h0M150 1116h0M145 1117h0M119 990h0M109 1119h0M197 1093h0M214 1034h0M210 963h0M202 857h0M235 1053h0M214 986h0M222 1076h0"/><path stroke="#33638d" d="M156 1168h0M215 1142h0M129 1125h0M223 1087h0M114 1035h0M201 1140h0M84 934h0M115 945h0M162 1149h0M104 1048h0M97 1087h0M216 1121h0M154 1166h0M79 1164h0M224 1128h0M127 1133h0M181 1159h0M217 1125h0M168 1110h0M143 1036h0M143 1176h0M173 1178h0M216 1027h0M220 1133h0M215 1177h0M223 928h0M223 990h0M148 1169h0M215 993h0M215 1085h0M81 1122h0M184 1133h0M184 1078h0M178 1128h0M222 1014h0M233 1153h0M219 1127h0M232 1050h0M212 1036h0M203 1164h0M222 1044h0M234 1028h0M247 1120h0"/><path stroke="#30698e" d="M159 1137h0M221 998h0M76 1127h0M147 1115h0M91 1164h0M118 1107h0M210 1119h0M174 1148h0M103 1000h0M191 1024h0M108 950h0M125 1175h0M102 1112h0M219 1179h0M148 1157h0M105 923h0M132 904h0M200 1062h0M183 1163h0M202 1131h0M161 1091h0M153 1089h0M152 973h0M96 1027h0M201 1115h0M92 1032h0M161 927h0M98 1086h0M91 1109h0M173 1136h0M292 1112h0"/><path stroke="#2e6f8e" d="M163 1144h0M221 1023h0M81 1168h0M188 1117h0M89 775h0M154 1166h0M203 1007h0M131 1164h0M114 1146h0M91 896h0M136 946h0M138 1100h0M217 999h0M129 1168h0M146 1026h0M164 1110h0M126 1085h0M210 1147h0M80 1147h0M165 1098h0M143 1137h0M131 1062h0M123 1177h0M170 1179h0M93 902h0M209 1130h0M216 1126h0M221 950h0"/><path stroke="#2b758e" d="M148 940h0M104 986h0M105 1100h0M86 1053h0M156 1176h0M161 963h0M154 1025h0M179 988h0M231 972h0M148 1113h0M175 1161h0M141 988h0M182 830h0M226 924h0M135 768h0M138 1169h0M138 1097h0M138 777h0M138 928h0M139 1026h0M124 926h0M176 1099h0M88 1016h0M227 1065h0M229 1150h0M76 1040h0M189 1045h0M157 932h0M158 1179h0M76 1064h0M109 1035h0M199 837h0"/><path stroke="#297b8e" d="M166 1172h0M220 1157h0M108 1131h0M93 1042h0M127 772h0M175 1124h0M192 1092h0M77 966h0M111 860h0M138 1028h0M173 1001h0M196 1018h0M136 848h0M87 1041h0M128 911h0M155 1070h0M183 1159h0M186 1120h0M211 1085h0M166 1072h0M106 1024h0M156 1088h0M127 1161h0M143 1100h0M131 1114h0M166 1163h0M234 1121h0M112 906h0M93 1073h0M193 943h0M174 1172h0M191 942h0M151 787h0M97 1134h0M109 1178h0M85 1035h0M115 822h0M166 993h0M178 984h0M79 1096h0M167 822h0M206 926h0M245 1077h0M187 862h0"/><path stroke="#26828e" d="M140 1106h0M157 1105h0M200 881h0M179 922h0M117 994h0M158 1124h0M139 903h0M104 967h0M145 838h0M221 1109h0M127 859h0M189 1076h0M104 1009h0M164 973h0M109 1127h0M87 978h0M216 1014h0M196 891h0M89 818h0M217 1139h0M106 1113h0M186 907h0M208 1118h0M86 955h0M175 1124h0M104 914h0M144 892h0M125 767h0M86 907h0M201 905h0M164 826h0M135 1173h0M136 1153h0M81 1028h0M142 872h0M187 796h0M76 911h0M119 772h0M109 946h0M107 972h0M148 985h0M113 1069h0M128 945h0M130 796h0M222 1113h0M88 794h0M78 1038h0M78 1139h0M135 869h0M86 829h0M233 1055h0M81 1124h0M148 1022h0M134 1166h0M162 1029h0M85 945h0M211 1123h0M185 814h0M214 1050h0M244 1006h0"/><path stroke="#24878e" d="M183 1141h0M144 1107h0M182 980h0M178 1013h0M228 893h0M156 1168h0M224 1165h0M120 1122h0M135 1020h0M147 1093h0M127 944h0M177 932h0M146 872h0M210 893h0M125 1027h0M93 1078h0M145 1110h0M133 892h0M168 906h0M202 992h0M95 1129h0M130 976h0M96 854h0M168 881h0M175 1073h0M232 1150h0M199 1153h0M102 1000h0M120 852h0M97 1082h0M157 1152h0M105 1125h0M170 1031h0M81 828h0M137 899h0M149 931h0M160 1148h0M172 1039h0M178 770h0M81 1111h0M113 1082h0M97 834h0M81 1163h0M80 768h0M90 906h0M135 1156h0M94 1088h0M115 846h0M94 1080h0M168 811h0M155 1025h0M177 1145h0M77 1085h0M233 988h0M82 923h0M127 785h0M83 894h0M213 934h0M184 776h0M207 1060h0M211 1030h0M215 969h0M294 847h0"/><path stroke="#228d8d" d="M151 873h0M89 927h0M185 1116h0M100 912h0M115 871h0M147 988h0M131 776h0M94 906h0M228 1036h0M203 921h0M155 1135h0M116 1077h0M101 855h0M192 978h0M140 1121h0M167 995h0M146 959h0M168 1129h0M149 818h0M176 800h0M86 963h0M224 1173h0M173 1137h0M82 816h0M96 1167h0M147 970h0M124 984h0M216 922h0M98 1127h0M147 879h0M112 1096h0M183 1013h0M105 1089h0M181 1041h0M106 1081h0M124 903h0M163 1016h0M137 954h0M111 1018h0M118 887h0M110 1039h0M118 1123h0M112 995h0M80 772h0M160 811h0M140 1147h0M120 1018h0M194 913h0M81 1148h0M163 1065h0M101 931h0M174 990h0M196 1141h0M183 1068h0M78 1103h0M129 1006h0M79 1093h0M120 1022h0M218 981h0M221 934h0M218 976h0M175 789h0M247 931h0M377 992h0M435 1105h0M285 932h0M296 1031h0M267 1034h0M261 1094h0"/><path stroke="#20938c" d="M189 821h0M97 869h0M191 932h0M162 1108h0M112 1053h0M115 847h0M165 939h0M175 794h0M94 1149h0M88 904h0M86 1003h0M156 1044h0M188 860h0M105 1078h0M215 1041h0M165 941h0M202 1102h0M136 1060h0M102 830h0M101 1124h0M150 1038h0M88 960h0M88 1063h0M150 964h0M173 1008h0M200 896h0M125 1145h0M146 838h0M138 1068h0M116 783h0M97 864h0M175 1052h0M117 910h0M217 919h0M185 809h0M99 1084h0M152 1083h0M201 1006h0M113 876h0M166 913h0M224 1091h0M128 1062h0M175 966h0M138 1060h0M156 1038h0M184 828h0M209 977h0M130 789h0M90 808h0M222 1102h0M103 1003h0M99 934h0M140 842h0M139 785h0M117 885h0M105 1147h0M178 1064h0M119 856h0M139 1171h0M112 1068h0M156 936h0M90 1104h0M88 1053h0M177 1006h0M125 835h0M153 990h0M220 1059h0M191 1077h0M206 1105h0M158 923h0M97 1012h0M122 907h0M133 792h0M87 891h0M90 1122h0M86 992h0M206 1008h0M135 876h0M241 892h0M220 1033h0M185 849h0M221 993h0M233 953h0M215 1135h0M376 1125h0"/><path stroke="#1f998a" d="M84 924h0M109 998h0M107 991h0M126 781h0M197 1034h0M89 901h0M154 1024h0M118 1065h0M121 1049h0M181 802h0M139 808h0M120 1091h0M146 1168h0M208 1013h0M164 1119h0M108 1070h0M127 961h0M75 914h0M148 823h0M164 1022h0M147 975h0M135 852h0M228 995h0M159 1104h0M153 1125h0M102 959h0M134 835h0M88 776h0M85 800h0M88 927h0M149 1023h0M81 803h0M212 845h0M190 1051h0M121 777h0M89 802h0M175 819h0M84 812h0M210 960h0M137 988h0M78 895h0M137 940h0M91 1168h0M206 897h0M169 797h0M205 1041h0M111 1144h0M153 772h0M146 1058h0M168 948h0M107 853h0M172 862h0M184 1155h0M170 872h0M215 1131h0M108 922h0M162 955h0M140 1068h0M176 782h0M174 778h0M201 851h0M194 916h0M201 911h0M219 1020h0M170 805h0"/><path stroke="#1fa088" d="M219 1044h0M137 786h0M128 1030h0M153 1003h0M89 887h0M162 854h0M85 1004h0M125 1104h0M144 784h0M131 849h0M97 1036h0M163 1007h0M101 858h0M215 884h0M199 916h0M143 1079h0M110 1071h0M151 906h0M200 884h0M128 818h0M117 1082h0M108 1092h0M98 768h0M169 809h0M102 844h0M130 989h0M107 902h0M171 788h0M146 1008h0M181 1018h0M192 892h0M179 946h0M102 1157h0M81 1020h0M160 828h0M111 906h0M163 1008h0M96 1086h0M207 1127h0M213 922h0M98 1135h0M86 866h0M132 851h0M102 818h0M163 988h0M104 1042h0M145 805h0M158 865h0M177 990h0M185 902h0M113 955h0M117 1053h0M141 1029h0M226 1098h0M164 1051h0M151 1061h0M168 825h0M174 1040h0M94 870h0M160 926h0M152 1122h0M127 972h0M94 1023h0M138 1044h0M181 840h0M162 1039h0M198 883h0M161 937h0M104 970h0M77 786h0M184 843h0M98 1161h0M133 781h0M183 1080h0M145 789h0M97 1121h0M88 1102h0M152 1016h0M192 1100h0M140 982h0M184 817h0M213 943h0M211 920h0M237 941h0M179 841h0M201 917h0"/><path stroke="#21a585" d="M144 856h0M84 910h0M134 1066h0M169 931h0M124 953h0M202 1007h0M141 959h0M160 938h0M107 1071h0M181 1094h0M92 1051h0M198 924h0M93 959h0M96 803h0M106 932h0M143 1028h0M147 966h0M199 1022h0M77 1156h0M198 957h0M177 1114h0M98 879h0M135 1105h0M163 1072h0M131 1028h0M128 1169h0M195 880h0M111 1027h0M129 826h0M196 918h0M165 1021h0M124 912h0M145 875h0M231 1036h0M129 836h0M91 797h0M164 995h0M76 1101h0M212 943h0M142 898h0M75 860h0M110 911h0M187 1002h0M187 927h0M205 1024h0M78 1128h0M96 784h0M159 787h0M114 958h0M131 796h0M104 954h0M95 770h0M200 852h0M199 940h0M189 1020h0M162 971h0M193 1040h0M222 1093h0M169 912h0M163 806h0M166 1076h0M102 963h0M172 937h0M111 843h0M216 1147h0M200 798h0M127 865h0M89 853h0M145 1104h0M77 770h0M182 797h0M92 883h0M109 806h0M116 973h0M98 1145h0M175 1088h0M150 882h0M147 1049h0M175 854h0M142 966h0M133 927h0M128 1003h0M93 1021h0M79 1014h0M106 1153h0M187 1043h0M158 936h0M103 796h0M130 1120h0M197 887h0M177 833h0M198 922h0M173 794h0M222 926h0M193 877h0M202 921h0"/><path stroke="#25ab82" d="M83 1084h0M142 1081h0M138 1165h0M136 975h0M127 839h0M99 907h0M94 787h0M171 1119h0M165 917h0M155 907h0M136 787h0M170 800h0M116 854h0M195 844h0M189 820h0M113 904h0M79 834h0M112 1065h0M88 920h0M159 876h0M139 1011h0M159 1134h0M118 831h0M122 768h0M174 1096h0M152 1045h0M125 822h0M121 858h0M84 943h0M84 1066h0M112 915h0M124 1088h0M126 1043h0M185 926h0M117 875h0M179 873h0M132 946h0M141 927h0M113 1049h0M92 1010h0M160 842h0M138 1059h0M118 959h0M165 844h0M145 796h0M231 960h0M191 830h0M174 801h0M168 867h0M100 917h0M124 831h0M90 838h0M189 970h0M226 1036h0M128 1119h0M152 833h0M172 995h0M108 866h0M98 788h0M173 961h0M179 1143h0M93 833h0M77 899h0M100 910h0M157 1044h0M223 906h0M81 972h0M91 1014h0M131 1095h0M136 980h0M203 913h0M188 811h0M208 917h0M78 881h0M172 1103h0M151 1162h0M86 972h0M99 795h0M131 868h0M85 947h0M104 1051h0M184 919h0M203 857h0M137 876h0M130 891h0M92 1026h0M112 784h0M86 1020h0M118 924h0M135 865h0M103 929h0M123 843h0M167 874h0M212 1014h0M212 944h0M194 911h0M246 1085h0M194 912h0M214 974h0M207 987h0M244 859h0M213 1009h0M218 937h0M175 770h0M186 834h0"/><path stroke="#2cb17e" d="M228 1174h0M169 794h0M102 990h0M143 791h0M172 785h0M84 832h0M90 877h0M119 1045h0M224 1009h0M82 895h0M103 1031h0M172 919h0M164 833h0M84 792h0M187 829h0M121 836h0M127 934h0M154 1010h0M155 814h0M125 983h0M84 892h0M130 841h0M173 963h0M98 841h0M143 830h0M82 916h0M178 1062h0M99 1083h0M91 1015h0M89 861h0M147 849h0M125 968h0M107 778h0M194 895h0M196 854h0M90 890h0M135 917h0M191 843h0M159 927h0M100 794h0M107 951h0M94 898h0M172 1035h0M84 796h0M132 870h0M113 1049h0M150 814h0M125 941h0M251 1030h0M148 820h0M219 946h0M173 788h0M92 1085h0M110 1038h0M135 832h0M147 770h0M151 1010h0M147 1007h0M175 917h0M148 878h0M201 880h0M122 808h0M85 963h0M97 941h0M101 791h0M89 994h0M126 969h0M158 1035h0M146 770h0M193 804h0M204 930h0M158 811h0M166 854h0M131 985h0M134 813h0M80 1067h0M159 1085h0M237 958h0M174 769h0M200 940h0M185 795h0M202 956h0M199 932h0M199 981h0M218 990h0M197 886h0M179 876h0M195 869h0M213 1164h0M178 844h0M378 948h0M402 1014h0M306 976h0"/><path stroke="#34b679" d="M108 958h0M103 957h0M144 860h0M77 814h0M160 1166h0M194 1096h0M150 909h0M210 884h0M189 861h0M96 785h0M114 1096h0M168 911h0M145 856h0M216 1025h0M137 803h0M224 1023h0M155 811h0M95 870h0M77 1076h0M122 1101h0M96 944h0M164 1086h0M215 1078h0M106 975h0M183 984h0M179 791h0M180 958h0M108 991h0M107 832h0M158 1168h0M99 889h0M79 1018h0M150 815h0M90 838h0M192 868h0M132 1025h0M91 1011h0M114 1059h0M182 778h0M118 823h0M161 843h0M106 1166h0M92 893h0M130 954h0M152 1042h0M192 784h0M162 1015h0M162 907h0M118 1052h0M129 1004h0M106 845h0M158 879h0M172 927h0M150 949h0M86 1062h0M137 1043h0M195 818h0M164 1139h0M178 830h0M138 943h0M95 925h0M149 861h0M102 954h0M182 847h0M170 767h0M100 942h0M87 1094h0M98 1087h0M90 924h0M123 952h0M144 870h0M162 1087h0M161 827h0M172 781h0M97 804h0M164 896h0M190 961h0M188 816h0M189 823h0M138 767h0M108 900h0M142 868h0M144 1150h0M130 892h0M203 875h0M147 853h0M188 885h0M89 808h0M132 1039h0M93 794h0M89 1090h0M113 858h0M171 784h0M130 805h0M87 1030h0M99 908h0M218 1063h0M195 813h0M174 802h0M198 856h0M201 956h0M185 851h0M165 768h0M199 839h0M209 897h0M203 794h0M202 939h0M190 858h0M208 929h0M216 1048h0"/><path stroke="#3fbc73" d="M211 862h0M116 1070h0M89 1089h0M85 798h0M185 905h0M94 829h0M183 915h0M154 846h0M170 895h0M178 811h0M137 942h0M209 1052h0M232 1049h0M186 953h0M221 954h0M181 969h0M103 1041h0M128 881h0M174 822h0M207 884h0M223 929h0M207 898h0M106 786h0M194 883h0M130 825h0M84 914h0M191 1021h0M219 1001h0M82 937h0M170 822h0M126 837h0M223 894h0M85 1034h0M82 1063h0M86 927h0M94 831h0M80 957h0M116 1118h0M162 780h0M120 791h0M86 829h0M166 814h0M162 800h0M118 985h0M156 854h0M119 1007h0M101 812h0M175 1054h0M81 819h0M196 778h0M184 1011h0M182 829h0M104 1006h0M111 984h0M94 813h0M189 857h0M195 877h0M113 856h0M186 894h0M113 857h0M105 1052h0M116 966h0M204 890h0M153 776h0M104 882h0M214 934h0M206 869h0M150 769h0M95 932h0M178 796h0M120 946h0M98 844h0M120 877h0M149 865h0M95 805h0M169 908h0M83 837h0M117 987h0M138 868h0M177 803h0M93 791h0M193 1017h0M207 993h0M142 954h0M116 1006h0M148 789h0M153 810h0M126 799h0M129 841h0M171 867h0M184 784h0M220 909h0M195 788h0M182 814h0M216 1028h0M184 845h0M180 822h0M424 1044h0"/><path stroke="#4ac16d" d="M155 1034h0M182 776h0M164 1069h0M123 773h0M90 909h0M178 903h0M165 805h0M189 930h0M131 868h0M183 806h0M85 990h0M112 787h0M137 816h0M151 779h0M194 838h0M188 794h0M179 818h0M146 826h0M111 891h0M201 877h0M169 789h0M179 864h0M147 1033h0M192 826h0M96 809h0M123 830h0M129 888h0M136 814h0M132 991h0M192 969h0M106 815h0M93 964h0M144 819h0M108 982h0M201 995h0M115 773h0M102 860h0M173 895h0M136 982h0M112 909h0M181 848h0M90 836h0M144 913h0M102 901h0M136 954h0M187 903h0M134 782h0M158 911h0M177 998h0M78 871h0M112 838h0M96 845h0M211 928h0M169 976h0M152 976h0M202 869h0M103 841h0M228 1161h0M181 793h0M92 1056h0M193 883h0M113 827h0M84 900h0M138 833h0M116 891h0M190 819h0M91 912h0M127 841h0M90 779h0M199 885h0M119 868h0M227 916h0M163 985h0M161 924h0M87 811h0M208 937h0M92 869h0M165 911h0M90 769h0M97 838h0M147 775h0M105 805h0M142 1065h0M194 883h0M184 770h0M174 782h0M222 1102h0M184 842h0M218 848h0M196 776h0M213 978h0M184 822h0M258 1014h0"/><path stroke="#56c667" d="M105 984h0M89 951h0M184 907h0M76 810h0M181 985h0M114 832h0M110 1094h0M174 874h0M181 820h0M136 793h0M174 836h0M105 793h0M113 1015h0M138 920h0M213 1077h0M113 1099h0M133 783h0M82 884h0M78 815h0M122 843h0M147 889h0M126 887h0M131 792h0M129 944h0M160 783h0M173 799h0M176 957h0M93 867h0M199 904h0M159 887h0M112 1003h0M189 829h0M175 896h0M178 778h0M107 858h0M105 1074h0M106 804h0M188 857h0M218 1004h0M233 938h0M85 802h0M139 903h0M145 980h0M133 817h0M164 933h0M129 1061h0M178 815h0M200 878h0M139 832h0M108 1036h0M135 851h0M101 984h0M109 829h0M110 822h0M199 988h0M133 922h0M203 868h0M140 918h0M121 879h0M99 960h0M97 781h0M140 891h0M140 1061h0M105 812h0M85 1087h0M91 898h0M204 880h0M174 1162h0M245 1016h0M133 994h0M157 917h0M139 1032h0M150 887h0M192 847h0M180 837h0M192 894h0M179 805h0M196 873h0M235 934h0M205 937h0M206 1146h0M203 854h0M192 797h0M202 872h0M189 815h0M176 839h0M192 843h0M187 861h0M176 843h0"/><path stroke="#65cb5e" d="M195 883h0M177 920h0M103 770h0M153 834h0M138 1078h0M217 1113h0M170 790h0M82 795h0M137 1047h0M192 844h0M152 922h0M134 980h0M110 934h0M166 877h0M187 873h0M159 1019h0M182 818h0M163 839h0M97 1063h0M96 950h0M163 853h0M171 807h0M199 904h0M190 880h0M173 778h0M130 1006h0M211 853h0M106 770h0M145 879h0M99 1130h0M151 801h0M161 863h0M184 976h0M135 1010h0M154 955h0M186 908h0M168 843h0M179 805h0M151 934h0M168 861h0M108 880h0M127 867h0M90 975h0M134 958h0M156 1057h0M201 846h0M87 816h0M148 999h0M113 798h0M124 977h0M180 890h0M89 845h0M199 932h0M181 854h0M187 832h0M173 767h0"/><path stroke="#73d056" d="M201 862h0M161 807h0M147 981h0M136 842h0M204 804h0M78 926h0M128 981h0M129 803h0M151 829h0M92 837h0M187 771h0M101 1119h0M119 829h0M106 926h0M125 820h0M215 904h0M158 997h0M175 815h0M220 913h0M200 932h0M172 905h0M163 824h0M180 851h0M178 868h0M154 828h0M231 956h0M78 833h0M90 913h0M156 810h0M184 846h0M124 864h0M157 840h0M172 807h0M202 949h0M167 848h0M185 1074h0M133 825h0M87 929h0M117 999h0M111 913h0M134 770h0M130 815h0M132 1020h0M173 786h0M156 804h0M96 996h0M86 1005h0M92 833h0M147 793h0M195 855h0M217 953h0M212 942h0M197 849h0M198 914h0M201 825h0M180 875h0M221 1014h0M195 789h0M193 863h0M174 839h0M180 835h0M207 874h0M179 786h0M176 808h0M233 900h0"/><path stroke="#84d44b" d="M210 833h0M110 779h0M186 869h0M178 832h0M134 818h0M140 968h0M173 845h0M188 865h0M184 828h0M96 784h0M141 925h0M184 832h0M153 867h0M159 770h0M193 877h0M180 794h0M205 891h0M105 784h0M138 858h0M91 842h0M114 813h0M101 973h0M186 952h0M145 855h0M159 799h0M234 972h0M97 812h0M102 902h0M150 958h0M95 1013h0M173 893h0M122 786h0M88 804h0M205 793h0M166 968h0M171 1054h0M88 769h0M84 817h0M208 857h0M183 889h0M163 784h0M173 788h0M170 769h0M192 881h0M180 853h0M173 794h0"/><path stroke="#93d741" d="M151 776h0M143 1063h0M87 822h0M161 1064h0M100 920h0M128 857h0M116 1032h0M182 973h0M199 891h0M109 820h0M174 832h0M95 816h0M119 856h0M134 811h0M173 778h0M148 1010h0M94 826h0M105 792h0M192 869h0M186 881h0M107 814h0M156 847h0M77 807h0M156 939h0M90 797h0M104 890h0M139 957h0M104 906h0M176 776h0M124 843h0M187 792h0M184 769h0M192 861h0M180 796h0"/><path stroke="#a2da37" d="M83 919h0M166 805h0M76 879h0M168 890h0M98 1057h0M120 889h0M132 849h0M141 865h0M191 792h0M164 901h0M125 860h0M132 814h0M147 861h0M110 839h0M149 784h0M107 776h0M156 863h0M198 863h0M165 825h0M118 870h0M131 889h0M160 777h0M216 910h0M169 778h0M172 769h0M180 789h0M193 915h0M181 789h0M194 900h0M196 856h0"/><path stroke="#b5de2b" d="M109 799h0M136 837h0M181 862h0M197 903h0M177 809h0M126 852h0M187 790h0M205 894h0M164 875h0M170 808h0M209 896h0M92 868h0M180 795h0M211 875h0M91 800h0M76 960h0M165 886h0M86 906h0M139 833h0M166 771h0M185 857h0M210 953h0M215 916h0M171 820h0M232 884h0"/><path stroke="#c5e021" d="M194 797h0M209 890h0M144 865h0M158 807h0M103 844h0M129 1001h0M85 1055h0M159 814h0M168 963h0M106 774h0M143 940h0M182 817h0M186 840h0"/><path stroke="#d8e219" d="M119 929h0M140 971h0M152 822h0M211 918h0M165 807h0M87 946h0M177 855h0M191 925h0"/><path stroke="#e7e419" d="M176 804h0M238 920h0M89 794h0M151 838h0M102 769h0M196 838h0M145 976h0M153 830h0M197 918h0"/><path stroke="#f6e620" d="M160 822h0M98 780h0M84 796h0M143 1063h0M194 788h0M128 829h0M104 807h0"/><path stroke="#450559" d="M203 1073h0M219 1055h0M124 1127h0M247 990h0M216 954h0M225 1121h0M201 1139h0M99 1141h0M211 1019h0M210 1155h0"/><path stroke="#470e61" d="M223 1038h0M244 975h0M217 975h0M210 1096h0M179 1123h0M171 1002h0M212 1002h0M244 1098h0M84 1157h0M217 1118h0M221 1040h0M217 1139h0M222 1074h0"/><path stroke="#48186a" d="M87 1125h0M84 1110h0M215 1071h0M218 980h0M133 1135h0M221 1030h0M206 1025h0M127 1117h0M194 1170h0M197 1012h0M174 1165h0M212 1010h0M223 1095h0M221 1089h0M229 1031h0M223 942h0M225 1066h0M203 1065h0M223 1109h0M131 1116h0M201 1028h0M225 1064h0M214 939h0M241 1057h0"/><path stroke="#482071" d="M204 1151h0M216 952h0M201 1135h0M102 1165h0M130 1157h0M187 987h0M250 1008h0M221 1042h0M213 1081h0M216 1033h0M189 1064h0M220 1111h0M177 1113h0M212 1080h0M119 1149h0M195 1071h0M153 1124h0M242 1126h0M237 1148h0M214 967h0M80 1173h0M203 947h0M229 1086h0M218 1116h0M205 1074h0M220 986h0M216 1112h0M201 1135h0M245 1003h0M223 1098h0M205 947h0M225 1021h0M217 1155h0M240 1035h0"/><path stroke="#482878" d="M209 1157h0M204 1039h0M201 937h0M207 1110h0M245 1044h0M203 1094h0M199 1125h0M148 1122h0M195 1110h0M101 1131h0M222 1153h0M236 1070h0M195 954h0M225 947h0M219 1018h0M236 1084h0M232 1104h0M123 1124h0M185 1057h0M238 1031h0M228 1078h0M188 1023h0M218 936h0M209 1000h0M190 969h0M220 966h0M181 1177h0M223 1089h0M217 1123h0M210 1178h0M218 1027h0M216 964h0M220 1038h0M220 999h0M227 1044h0M231 1118h0M225 1103h0M228 1061h0M247 1020h0M236 974h0M201 922h0"/><path stroke="#46307e" d="M190 953h0M234 1132h0M209 1120h0M229 989h0M232 1117h0M222 1036h0M217 1150h0M78 1140h0M213 1138h0M189 1014h0M209 1158h0M232 1069h0M219 1067h0M211 1122h0M212 1136h0M203 932h0M187 970h0M214 1130h0M216 1177h0M227 1126h0M213 1009h0M124 1177h0M207 1175h0M207 920h0M225 1069h0M193 1145h0M221 1052h0M217 980h0M195 1125h0M157 1127h0M224 1080h0M231 1084h0M215 998h0M193 977h0M195 965h0M225 979h0M224 998h0M226 984h0M217 1061h0M258 952h0M207 963h0M212 969h0M233 1065h0M228 1123h0M233 1079h0M92 1118h0M116 1106h0M217 1029h0M210 1123h0M218 966h0M211 1129h0M229 1083h0M212 1174h0M235 1139h0M200 1167h0M228 1065h0M231 1162h0M214 1076h0M208 1064h0M217 968h0M205 1050h0"/><path stroke="#453882" d="M213 1110h0M212 1173h0M191 1146h0M161 1071h0M214 1117h0M190 1003h0M219 1145h0M210 973h0M248 1000h0M223 1105h0M176 1134h0M182 1023h0M199 1176h0M213 1022h0M221 1133h0M230 1003h0M250 1038h0M233 1086h0M211 1166h0M189 1157h0M215 1045h0M216 944h0M219 953h0M180 1064h0M197 997h0M235 1115h0M218 1015h0M220 1003h0M173 1128h0M213 929h0M207 1084h0M233 1045h0M194 1131h0M229 1087h0M189 1070h0M188 1116h0M207 948h0M212 965h0M213 1165h0M194 968h0M233 1161h0M226 994h0M218 1180h0M225 1148h0M201 1120h0M218 1063h0M199 1155h0M216 1050h0M224 1104h0M212 1058h0M236 1125h0M218 1153h0M202 1002h0M222 1140h0M213 919h0M238 1096h0M226 1093h0M218 1134h0M220 1081h0M230 990h0M228 1063h0M210 1138h0M450 1160h0"/><path stroke="#424086" d="M203 964h0M169 1179h0M216 1170h0M199 957h0M190 1171h0M221 1177h0M213 982h0M196 1122h0M235 1132h0M228 1096h0M210 942h0M233 1052h0M245 1142h0M94 1131h0M209 1071h0M207 1081h0M225 966h0M217 1167h0M201 1018h0M224 1049h0M175 924h0M238 1073h0M236 938h0M228 1172h0M234 983h0M195 1094h0M137 1128h0M230 1068h0M227 1133h0M173 1176h0M84 1096h0M212 1032h0M211 1139h0M223 1026h0M172 1027h0M224 1086h0M222 1025h0M209 1018h0M202 1071h0M229 1142h0M233 956h0M204 1076h0M229 1008h0M85 1155h0M187 1121h0M227 969h0M228 1096h0M221 1074h0M182 1176h0M205 1100h0M219 1121h0M229 1125h0M201 1168h0M212 963h0M231 1043h0M257 1037h0M272 991h0M214 982h0M240 1036h0M216 1131h0M219 1090h0M243 1102h0M219 1102h0M251 996h0M212 1113h0M249 1144h0M222 1065h0M253 1043h0M214 1180h0"/><path stroke="#3f4788" d="M218 1147h0M175 1141h0M104 1103h0M149 886h0M236 1175h0M216 1071h0M191 1117h0M193 1015h0M227 1033h0M220 1023h0M197 1089h0M198 943h0M210 1124h0M117 1126h0M209 970h0M202 942h0M178 1038h0M193 1044h0M224 1060h0M229 987h0M217 1165h0M204 959h0M205 1046h0M182 1148h0M225 1006h0M159 1121h0M99 1176h0M224 1119h0M216 1022h0M198 1013h0M226 1133h0M199 1121h0M235 1136h0M78 1113h0M236 1042h0M240 1133h0M158 1110h0M210 1072h0M222 1082h0M204 1059h0M211 1077h0M212 982h0M157 1167h0M207 917h0M233 1015h0M193 960h0M224 1053h0M231 1170h0M202 958h0M203 972h0M245 1055h0M221 1018h0M218 1090h0M216 989h0M203 1131h0M210 1020h0M212 1029h0M214 964h0"/><path stroke="#3d4e8a" d="M225 986h0M216 1161h0M216 958h0M214 944h0M212 1152h0M207 1155h0M127 1126h0M197 1155h0M97 1128h0M94 1107h0M208 1059h0M221 1165h0M141 1128h0M253 1052h0M135 1127h0M133 1110h0M192 1115h0M165 1168h0M192 1172h0M213 987h0M136 777h0M211 942h0M214 1128h0M255 1146h0M222 1123h0M210 1005h0M227 1099h0M251 1124h0M225 974h0M108 1171h0M220 1103h0M192 1137h0M169 1128h0M231 1072h0M210 939h0M212 1120h0M214 1158h0M176 1100h0M219 1046h0M184 1104h0M225 986h0M204 964h0M199 936h0M257 1098h0M214 1011h0M209 1068h0M215 1138h0M205 1110h0M215 963h0M247 1069h0"/><path stroke="#39558c" d="M146 1110h0M212 1129h0M93 1084h0M190 1012h0M175 1109h0M229 1150h0M207 974h0M163 1112h0M227 1141h0M204 1084h0M230 982h0M182 976h0M202 1066h0M233 1076h0M221 1099h0M207 1073h0M186 1147h0M232 1087h0M218 1063h0M86 910h0M231 1008h0M207 933h0M174 1108h0M166 1009h0M125 1148h0M230 1028h0M215 1116h0M131 1177h0M212 1002h0M210 1105h0M231 996h0M199 912h0M236 1041h0M205 1129h0M212 1082h0M208 911h0M221 1015h0M215 1069h0M219 1128h0"/><path stroke="#365c8d" d="M180 995h0M216 974h0M223 1163h0M106 1080h0M90 1028h0M142 1095h0M184 1177h0M186 1173h0M191 1035h0M140 1106h0M179 1137h0M127 1033h0M224 1169h0M206 979h0M221 913h0M169 1136h0M108 1112h0M114 1097h0M95 803h0M223 940h0M232 993h0M194 1178h0M232 988h0M105 1102h0M232 1092h0M173 940h0M162 1152h0M215 995h0M167 1108h0M208 1166h0M224 1036h0M210 1141h0M254 1157h0M224 1099h0"/><path stroke="#33638d" d="M112 1110h0M169 1157h0M228 1093h0M215 1114h0M221 937h0M125 1156h0M89 1091h0M137 1116h0M115 1169h0M132 1142h0M208 1116h0M123 1101h0M96 1138h0M129 923h0M173 1166h0M122 1148h0M81 1162h0M207 1071h0M187 986h0M87 970h0M132 1175h0M127 1005h0M245 945h0M135 1179h0M213 1162h0M218 1174h0M224 1143h0"/><path stroke="#30698e" d="M230 1081h0M200 1154h0M181 1173h0M153 1117h0M177 1102h0M176 1036h0M171 1105h0M96 1169h0M124 1129h0M216 993h0M136 1082h0M167 1172h0M96 1090h0M155 1132h0M138 822h0M76 882h0M126 1133h0M167 1126h0M93 871h0M175 903h0M86 1130h0M161 878h0M98 1095h0M220 975h0M205 1060h0M237 1033h0M216 972h0M213 1112h0M247 964h0M228 1126h0"/><path stroke="#2e6f8e" d="M111 1094h0M182 1094h0M187 812h0M231 1080h0M99 827h0M143 1023h0M102 1097h0M172 948h0M219 1051h0M122 1088h0M76 1167h0M191 853h0M127 846h0M148 781h0M136 932h0M143 1047h0M185 1151h0M78 972h0M192 864h0M201 1158h0M100 1169h0M109 1085h0M150 1139h0M111 957h0M228 1143h0M223 1134h0M218 1105h0M175 835h0M219 1141h0"/><path stroke="#2b758e" d="M87 1070h0M152 1142h0M115 1101h0M116 847h0M139 1085h0M88 897h0M84 1101h0M77 1025h0M185 1170h0M76 953h0M136 853h0M139 953h0M93 1133h0M148 1087h0M139 1054h0M172 1170h0M106 1091h0M90 769h0M122 776h0M162 1168h0M142 1066h0M137 993h0M149 836h0M84 1158h0M219 1057h0M126 1071h0M160 882h0M111 1083h0M154 1147h0M113 1108h0M84 865h0M207 1146h0"/><path stroke="#297b8e" d="M251 1062h0M195 947h0M115 1078h0M100 1148h0M159 1177h0M80 1128h0M118 1065h0M108 830h0M84 818h0M158 1152h0M183 1138h0M123 821h0M75 1126h0M185 1101h0M171 958h0M150 1100h0M90 994h0M108 992h0M184 1136h0M210 1058h0M221 1076h0M210 1032h0M131 981h0M101 1180h0M111 1054h0M153 951h0M121 909h0M88 961h0M170 822h0M188 828h0M91 1137h0M154 1038h0M204 1071h0M264 1043h0M219 1168h0"/><path stroke="#26828e" d="M215 1151h0M135 1094h0M125 855h0M118 843h0M75 1068h0M142 896h0M156 1069h0M96 926h0M88 1176h0M172 1134h0M151 965h0M87 1093h0M123 897h0M134 1004h0M163 968h0M128 1089h0M145 977h0M115 1081h0M122 898h0M143 831h0M163 861h0M155 1065h0M198 888h0M232 1153h0M126 838h0M117 914h0M79 1060h0M136 1120h0M116 1062h0M156 1054h0M171 1082h0M166 965h0M210 1135h0M149 930h0M134 1110h0M117 875h0M148 1137h0M167 1127h0M115 1025h0M158 1026h0M134 774h0M227 1060h0M169 1109h0M163 1029h0M113 812h0M145 831h0M197 877h0M197 862h0M213 999h0"/><path stroke="#24878e" d="M167 1159h0M187 1112h0M166 967h0M155 1056h0M164 971h0M123 1138h0M146 1054h0M122 1140h0M187 906h0M147 1175h0M169 1065h0M143 863h0M133 944h0M101 985h0M83 850h0M131 1154h0M79 978h0M93 870h0M105 1008h0M195 827h0M163 988h0M121 1036h0M177 1111h0M157 1179h0M219 1090h0M101 1146h0M92 822h0M143 935h0M160 1112h0M116 1062h0M217 976h0M170 1121h0M94 927h0M181 894h0M199 823h0M79 1175h0M133 1124h0M197 966h0M133 1161h0M201 1051h0M180 1006h0M147 1040h0M135 1083h0M91 1153h0M128 799h0M144 1155h0M185 768h0M179 914h0M91 1021h0M228 1029h0M102 771h0M138 1046h0M77 1126h0M209 977h0M229 1118h0M210 1105h0"/><path stroke="#228d8d" d="M216 1139h0M169 930h0M142 1024h0M94 980h0M154 1038h0M77 1046h0M217 1023h0M111 1131h0M153 1080h0M155 1098h0M225 997h0M184 927h0M159 1068h0M145 1135h0M152 1134h0M116 909h0M80 831h0M130 1085h0M184 917h0M141 912h0M183 1138h0M76 854h0M153 850h0M129 1025h0M204 903h0M113 1079h0M90 775h0M110 972h0M108 947h0M123 816h0M92 1037h0M189 1113h0M183 1075h0M122 1148h0M97 1075h0M217 1074h0M100 992h0M186 971h0M120 1083h0M88 930h0M124 786h0M160 974h0M232 1106h0M152 1090h0M175 1129h0M137 969h0M101 1129h0M181 891h0M180 842h0M103 834h0M87 782h0M112 771h0M160 1004h0M117 855h0M207 937h0M149 1134h0M138 928h0M113 959h0M220 1179h0M179 1041h0M206 916h0M161 1077h0M114 996h0M142 798h0M183 1144h0M92 963h0M175 1120h0M86 902h0M157 1067h0M122 1124h0M109 905h0M232 1016h0M193 925h0M225 1092h0M295 1085h0M257 970h0"/><path stroke="#20938c" d="M103 1075h0M79 777h0M171 931h0M153 805h0M108 1153h0M177 872h0M158 1030h0M131 1019h0M84 1092h0M145 809h0M243 1082h0M93 1162h0M87 934h0M110 794h0M92 994h0M230 1117h0M172 1007h0M145 1022h0M177 805h0M145 773h0M148 1149h0M134 1053h0M91 936h0M78 1159h0M202 888h0M80 879h0M167 949h0M238 998h0M200 899h0M147 936h0M176 819h0M172 938h0M138 956h0M117 1112h0M180 1099h0M116 858h0M161 986h0M143 949h0M171 938h0M227 898h0M143 891h0M182 955h0M106 937h0M92 1073h0M109 778h0M81 773h0M153 1102h0M87 926h0M128 1092h0M95 914h0M148 900h0M103 976h0M92 907h0M142 1105h0M120 1103h0M119 1154h0M88 991h0M243 1048h0M148 1122h0M218 1057h0M197 886h0M223 1095h0M203 924h0M189 873h0M237 1158h0"/><path stroke="#1f998a" d="M156 1096h0M197 948h0M102 1005h0M113 979h0M127 779h0M151 835h0M92 792h0M184 776h0M80 1078h0M165 970h0M171 918h0M137 943h0M76 1065h0M155 901h0M224 1119h0M88 927h0M203 983h0M209 959h0M149 852h0M156 1160h0M216 1066h0M179 1019h0M192 1023h0M165 888h0M181 845h0M118 773h0M91 1065h0M128 854h0M100 854h0M135 894h0M164 937h0M140 843h0M174 1107h0M143 935h0M225 1115h0M172 912h0M211 958h0M135 1093h0M136 828h0M185 996h0M166 936h0M146 1010h0M167 923h0M114 997h0M165 801h0M189 1055h0M112 814h0M95 911h0M116 942h0M229 949h0M114 1093h0M159 820h0M129 1062h0M162 1079h0M227 1088h0M110 834h0M87 1032h0M195 887h0M123 1002h0M179 959h0M81 1118h0M138 931h0M199 1099h0M169 1134h0M88 1141h0M206 855h0M176 1034h0M105 919h0M89 1029h0M207 943h0M91 851h0M141 851h0M225 1019h0M179 885h0M88 1090h0M110 1004h0M206 920h0M136 989h0M110 1141h0M140 916h0M121 1028h0M118 973h0M113 1065h0M160 1049h0M96 815h0M180 853h0M184 799h0M189 769h0M190 854h0M227 1065h0M205 1159h0"/><path stroke="#1fa088" d="M216 902h0M92 821h0M208 922h0M165 846h0M151 1014h0M111 830h0M107 961h0M152 930h0M233 1090h0M109 845h0M189 1106h0M219 912h0M92 1175h0M85 1036h0M193 1081h0M95 814h0M79 908h0M108 1017h0M158 808h0M76 818h0M180 889h0M145 921h0M149 1006h0M168 948h0M169 956h0M141 862h0M94 1022h0M129 1093h0M99 974h0M132 901h0M188 879h0M122 775h0M205 980h0M150 960h0M159 978h0M137 798h0M109 957h0M86 859h0M97 857h0M76 1173h0M126 916h0M198 1062h0M150 906h0M88 814h0M186 997h0M123 773h0M99 785h0M84 944h0M199 922h0M178 805h0M110 840h0M156 950h0M89 987h0M137 1025h0M146 1109h0M157 906h0M188 1122h0M127 819h0M141 798h0M156 826h0M188 993h0M107 1165h0M148 958h0M138 897h0M102 785h0M152 848h0M90 877h0M162 1099h0M143 965h0M116 1108h0M185 1128h0M123 839h0M162 919h0M114 1099h0M189 823h0M108 1137h0M191 917h0M193 884h0M193 898h0M188 855h0M221 1009h0M171 792h0M219 1021h0M210 1001h0M212 996h0M203 1166h0"/><path stroke="#21a585" d="M83 1060h0M139 849h0M126 915h0M89 900h0M159 998h0M94 857h0M144 811h0M125 1115h0M180 890h0M209 949h0M111 963h0M77 796h0M96 1043h0M183 911h0M125 1078h0M169 884h0M172 873h0M107 1052h0M88 796h0M111 1102h0M112 895h0M126 1012h0M96 1041h0M137 896h0M121 872h0M211 948h0M81 1059h0M145 875h0M108 1018h0M120 877h0M197 1173h0M165 888h0M150 1040h0M191 1032h0M111 789h0M132 854h0M143 812h0M154 1093h0M142 887h0M140 784h0M130 980h0M188 817h0M95 994h0M189 904h0M127 911h0M144 987h0M229 1056h0M162 938h0M224 1115h0M149 1131h0M224 1089h0M117 935h0M152 976h0M191 861h0M182 852h0M89 901h0M167 994h0M121 1067h0M81 903h0M181 1031h0M121 842h0M175 973h0M93 895h0M189 907h0M117 768h0M122 918h0M80 908h0M111 786h0M88 888h0M119 899h0M160 927h0M176 1067h0M191 1042h0M143 1067h0M123 1046h0M97 1054h0M140 792h0M179 1134h0M141 1097h0M203 1030h0M165 829h0M79 853h0M184 838h0M141 1037h0M139 997h0M130 841h0M91 1071h0M222 943h0M258 1055h0M174 825h0"/><path stroke="#25ab82" d="M136 829h0M190 833h0M202 866h0M194 986h0M90 838h0M140 1064h0M124 1094h0M82 1096h0M85 996h0M131 1017h0M92 1153h0M88 1094h0M76 875h0M81 870h0M180 840h0M142 833h0M210 940h0M111 1053h0M164 888h0M102 860h0M119 946h0M169 919h0M152 991h0M106 874h0M89 773h0M103 1157h0M224 957h0M114 907h0M97 1044h0M185 782h0M181 936h0M107 890h0M186 1050h0M153 826h0M157 866h0M173 779h0M153 911h0M173 948h0M249 1019h0M195 977h0M129 966h0M156 989h0M148 1081h0M149 946h0M117 903h0M167 1117h0M179 803h0M90 1065h0M121 769h0M105 873h0M140 970h0M180 803h0M185 932h0M191 1064h0M127 866h0M230 1067h0M188 947h0M94 843h0M131 783h0M137 1064h0M123 983h0M93 934h0M146 916h0M211 1005h0M145 917h0M103 909h0M195 864h0M207 919h0M174 830h0M146 796h0M92 905h0M116 918h0M196 1081h0M207 929h0M81 949h0M96 867h0M123 1033h0M91 893h0M123 1146h0M109 811h0M144 818h0M125 962h0M133 1091h0M106 781h0M222 1037h0M76 925h0M150 1002h0M197 909h0M118 883h0M105 1020h0M183 801h0M215 1009h0M186 824h0M201 905h0M207 939h0M217 937h0"/><path stroke="#2cb17e" d="M171 992h0M107 883h0M89 835h0M96 1038h0M217 1044h0M117 904h0M177 919h0M80 899h0M199 840h0M237 1045h0M110 887h0M170 1057h0M148 773h0M160 886h0M149 855h0M143 1021h0M192 887h0M128 1043h0M111 887h0M140 837h0M177 929h0M169 949h0M142 797h0M77 1073h0M160 908h0M111 816h0M181 850h0M110 782h0M87 946h0M146 769h0M153 887h0M219 886h0M154 854h0M159 964h0M187 1112h0M148 835h0M223 973h0M123 941h0M147 911h0M83 769h0M126 1041h0M159 945h0M97 1031h0M159 1000h0M190 918h0M87 1090h0M246 1134h0M77 768h0M189 821h0M134 1080h0M189 847h0M193 808h0M139 1105h0M223 1143h0M204 986h0M95 922h0M104 841h0M165 954h0M105 1049h0M169 951h0M152 798h0M150 783h0M139 768h0M98 959h0M178 1007h0M104 906h0M188 821h0M103 819h0M99 865h0M81 774h0M97 1020h0M212 926h0M156 840h0M208 870h0M209 857h0M216 1079h0M206 848h0M182 882h0M290 1015h0M286 1110h0M269 1025h0"/><path stroke="#34b679" d="M136 931h0M79 853h0M104 775h0M180 769h0M91 876h0M102 940h0M206 948h0M182 850h0M156 933h0M125 901h0M204 906h0M147 814h0M94 841h0M106 999h0M153 919h0M91 777h0M120 864h0M141 826h0M215 943h0M178 923h0M79 948h0M126 844h0M125 1049h0M109 847h0M162 961h0M94 884h0M153 832h0M196 867h0M97 794h0M94 873h0M100 906h0M77 923h0M128 1004h0M86 806h0M194 902h0M128 971h0M89 1057h0M110 898h0M148 967h0M132 1036h0M87 1093h0M166 1088h0M112 871h0M88 829h0M99 973h0M147 988h0M99 868h0M84 793h0M81 822h0M169 920h0M110 817h0M104 853h0M133 816h0M87 870h0M78 850h0M199 942h0M119 775h0M137 852h0M142 784h0M178 768h0M184 836h0M148 928h0M203 1077h0M104 942h0M154 1131h0M86 985h0M148 849h0M86 978h0M199 841h0M154 992h0M231 1052h0M108 845h0M89 769h0M221 1151h0M174 784h0M182 830h0M179 834h0M271 1053h0M229 883h0M207 851h0M224 1015h0M187 872h0"/><path stroke="#3fbc73" d="M164 1031h0M97 947h0M206 888h0M137 941h0M129 848h0M204 930h0M127 850h0M90 1034h0M118 1054h0M166 795h0M130 1020h0M115 889h0M130 901h0M175 1022h0M130 952h0M145 852h0M85 845h0M94 908h0M191 804h0M170 1017h0M130 818h0M187 1071h0M152 922h0M113 842h0M197 1097h0M178 894h0M225 961h0M189 1076h0M169 817h0M157 968h0M112 832h0M174 932h0M112 1034h0M155 894h0M78 834h0M133 1092h0M78 784h0M187 876h0M154 894h0M96 905h0M118 843h0M93 855h0M182 874h0M105 928h0M131 789h0M173 915h0M150 973h0M193 1031h0M122 771h0M155 1012h0M93 888h0M126 769h0M102 1071h0M79 824h0M108 839h0M213 1078h0M208 910h0M84 806h0M153 775h0M109 773h0M140 827h0M155 793h0M203 1000h0M93 856h0M102 1052h0M214 909h0M174 1065h0M89 1168h0M136 797h0M100 896h0M126 997h0M133 915h0M102 768h0M113 866h0M187 902h0M113 1038h0M114 997h0M160 820h0M92 885h0M179 911h0M134 808h0M202 879h0M209 936h0M210 984h0M177 838h0M179 813h0M201 832h0M191 852h0M185 796h0M236 975h0M166 805h0M190 928h0M206 972h0M303 936h0M315 1016h0M306 1113h0M247 889h0"/><path stroke="#4ac16d" d="M124 769h0M162 938h0M95 968h0M106 1037h0M169 832h0M169 799h0M121 784h0M133 940h0M124 887h0M80 1040h0M173 996h0M161 830h0M135 1027h0M185 1153h0M204 894h0M199 897h0M189 980h0M134 918h0M122 797h0M82 825h0M159 946h0M116 864h0M150 830h0M144 802h0M83 850h0M207 1136h0M162 1052h0M196 841h0M194 881h0M215 952h0M138 908h0M141 887h0M157 892h0M124 892h0M192 882h0M99 910h0M206 1134h0M138 796h0M159 837h0M207 886h0M100 844h0M169 801h0M81 1023h0M99 859h0M158 919h0M107 1049h0M155 816h0M221 913h0M115 1048h0M148 1060h0M83 864h0M180 805h0M91 922h0M120 904h0M166 903h0M231 1062h0M165 780h0M204 902h0M213 1102h0M172 788h0M210 858h0M196 843h0M219 882h0M219 882h0M199 914h0M210 771h0M163 777h0M193 886h0M312 1028h0"/><path stroke="#56c667" d="M196 921h0M87 982h0M181 956h0M142 864h0M174 852h0M178 844h0M222 909h0M178 909h0M145 915h0M180 774h0M122 933h0M90 936h0M117 829h0M143 840h0M122 1046h0M226 1048h0M90 768h0M80 1023h0M193 793h0M173 784h0M75 1029h0M177 830h0M145 868h0M145 977h0M141 778h0M188 822h0M170 923h0M82 930h0M83 933h0M122 901h0M171 798h0M180 1014h0M192 880h0M154 837h0M148 771h0M89 1065h0M145 876h0M150 1006h0M129 768h0M89 827h0M195 895h0M180 856h0M163 796h0M224 946h0M210 963h0M172 1088h0M124 905h0M133 862h0M203 985h0M133 866h0M155 944h0M94 882h0M161 771h0M159 823h0M209 1090h0M174 983h0M83 901h0M119 1049h0M180 827h0M78 805h0M182 964h0M211 907h0M227 1042h0M141 910h0M222 917h0M237 977h0M213 913h0M169 810h0M195 776h0M178 789h0M181 784h0M212 932h0M439 1064h0"/><path stroke="#65cb5e" d="M122 982h0M162 978h0M205 967h0M145 911h0M161 812h0M241 1040h0M180 778h0M188 861h0M240 895h0M152 806h0M181 884h0M107 965h0M107 1010h0M76 846h0M113 795h0M158 891h0M89 1046h0M82 855h0M167 1057h0M181 830h0M112 863h0M119 870h0M149 947h0M203 854h0M85 879h0M175 869h0M222 1063h0M226 899h0M174 959h0M214 953h0M81 894h0M91 807h0M100 790h0M155 909h0M183 818h0M90 781h0M156 854h0M169 1047h0M169 861h0M147 872h0M202 769h0M124 806h0M84 771h0M85 1015h0M167 882h0M78 873h0M182 904h0M174 970h0M158 820h0M99 893h0M162 795h0M132 909h0M130 1146h0M77 787h0M192 862h0M167 776h0M212 925h0M186 846h0M196 835h0M174 920h0M155 860h0M195 854h0M189 806h0M183 814h0M79 1063h0M126 797h0M165 806h0M190 833h0M214 890h0M193 769h0M211 1056h0M174 770h0M187 830h0M178 806h0M180 828h0M222 1055h0M183 832h0M217 873h0M206 888h0M202 872h0"/><path stroke="#73d056" d="M168 826h0M130 896h0M176 996h0M170 785h0M130 806h0M76 902h0M183 817h0M118 780h0M156 974h0M179 784h0M92 1011h0M216 941h0M139 958h0M189 993h0M193 861h0M200 891h0M163 868h0M103 880h0M145 866h0M142 866h0M169 930h0M146 907h0M82 992h0M156 804h0M170 817h0M205 903h0M190 783h0M133 786h0M159 837h0M195 842h0M103 826h0M193 873h0M88 807h0M132 1012h0M166 958h0M187 899h0M212 944h0M210 891h0M201 928h0M94 901h0M134 870h0M93 891h0M210 903h0M150 773h0M166 812h0M94 780h0M129 895h0M155 836h0M161 769h0M145 1073h0M178 885h0M188 855h0M162 857h0M182 835h0M180 794h0M172 787h0M178 815h0M208 892h0M197 798h0M183 826h0M200 878h0"/><path stroke="#84d44b" d="M156 779h0M160 769h0M215 879h0M89 1037h0M168 920h0M96 830h0M134 1069h0M155 877h0M120 906h0M145 1082h0M154 964h0M86 1094h0M191 836h0M159 860h0M208 1035h0M129 857h0M159 956h0M88 967h0M133 893h0M154 886h0M206 862h0M191 879h0M125 768h0M207 913h0M166 837h0M180 854h0M193 772h0M161 886h0M168 824h0M142 775h0M121 963h0M170 931h0M120 839h0M75 777h0M96 788h0M87 915h0M144 809h0M155 978h0M156 900h0M214 787h0M180 874h0M175 769h0M191 908h0M187 863h0M201 817h0M187 859h0M201 924h0"/><path stroke="#93d741" d="M155 829h0M184 823h0M147 984h0M187 817h0M90 775h0M144 898h0M154 884h0M148 806h0M172 836h0M104 881h0M142 897h0M130 831h0M102 940h0M196 771h0M135 941h0M196 938h0M181 828h0M203 1050h0M157 832h0M146 859h0M93 984h0M122 908h0M203 850h0M99 960h0M122 859h0M107 961h0M130 789h0M186 994h0M164 832h0M162 822h0M219 943h0M84 776h0M123 961h0M175 896h0M123 838h0M191 864h0M166 782h0M180 851h0"/><path stroke="#a2da37" d="M186 871h0M239 1102h0M207 879h0M118 930h0M96 868h0M177 841h0M93 779h0M122 845h0M113 1043h0M148 1136h0M177 830h0M142 826h0M156 1066h0M134 842h0M92 843h0M172 863h0M130 899h0M197 880h0M160 835h0M143 1005h0M116 997h0M190 910h0M161 779h0M123 990h0M176 816h0M185 886h0M203 926h0M192 888h0M193 891h0M203 863h0M173 788h0M182 873h0M196 793h0"/><path stroke="#b5de2b" d="M144 854h0M111 883h0M197 881h0M93 826h0M124 946h0M91 927h0M92 865h0M84 897h0M93 949h0M82 801h0M81 801h0M197 877h0M198 794h0M204 771h0"/><path stroke="#c5e021" d="M184 774h0M180 826h0M97 805h0M168 812h0M90 819h0M197 877h0M163 927h0M146 881h0M102 771h0M137 861h0M116 807h0M185 826h0"/><path stroke="#d8e219" d="M151 784h0M167 857h0M98 1040h0M192 802h0M102 968h0M124 831h0M110 797h0M186 847h0M185 963h0M138 905h0M153 848h0M164 947h0M168 787h0M204 911h0"/><path stroke="#e7e419" d="M103 768h0M158 794h0M165 947h0M188 836h0M89 988h0M110 804h0"/><path stroke="#f6e620" d="M86 818h0M114 939h0M151 781h0M127 793h0M118 884h0M203 860h0M179 826h0M104 982h0"/></g></g></g></g><g id="patch_78"><path d="M 37.92 824.64 L 37.92 511.13 " style="fill: none; stroke: #000000; stroke-width: 1.25; stroke-linejoin: miter; stroke-linecap: square"/></g><g id="patch_79"><path d="M 37.92 824.64 L 323.38 824.64 " style="fill: none; stroke: #000000; stroke-width: 1.25; stroke-linejoin: miter; stroke-linecap: square"/></g><g id="text_79"><g transform="translate(77.541429 490.491429)"><text xml:space="preserve"><tspan x="0.00" y="-0.86" style="font-weight: 700; font-size: 14px; font-family: 'Liberation Sans', sans-serif">Molecular Weight vs </tspan><tspan x="139.25" y="-0.86" style="font-style: italic; font-size: 14px; font-family: 'Liberation Sans', sans-serif">S</tspan><tspan x="148.59" y="3.32" style="font-size: 9.8px; font-family: 'Liberation Sans', sans-serif">1</tspan><tspan x="154.73" y="-0.86" style="font-weight: 700; font-size: 14px; font-family: 'Liberation Sans', sans-serif"> Energy</tspan></text></g></g></g><g id="axes_7"><g id="patch_80"><path d="M 341.01 793.17 L 353.55 793.17 L 353.55 542.47 L 341.01 542.47 z " style="fill: #ffffff"/></g><g transform="scale(0.68571429)"><linearGradient id="gd" x1="0" y1="0" x2="0" y2="1"><stop offset="0.000" stop-color="#fde725"/><stop offset="0.031" stop-color="#ece51b"/><stop offset="0.062" stop-color="#d8e219"/><stop offset="0.094" stop-color="#c2df23"/><stop offset="0.125" stop-color="#addc30"/><stop offset="0.156" stop-color="#98d83e"/><stop offset="0.188" stop-color="#84d44b"/><stop offset="0.219" stop-color="#70cf57"/><stop offset="0.250" stop-color="#5ec962"/><stop offset="0.281" stop-color="#4ec36b"/><stop offset="0.312" stop-color="#3fbc73"/><stop offset="0.344" stop-color="#32b67a"/><stop offset="0.375" stop-color="#28ae80"/><stop offset="0.406" stop-color="#22a785"/><stop offset="0.438" stop-color="#1fa088"/><stop offset="0.469" stop-color="#1f988b"/><stop offset="0.500" stop-color="#21918c"/><stop offset="0.531" stop-color="#23898e"/><stop offset="0.562" stop-color="#26828e"/><stop offset="0.594" stop-color="#297a8e"/><stop offset="0.625" stop-color="#2c728e"/><stop offset="0.656" stop-color="#2f6b8e"/><stop offset="0.688" stop-color="#33638d"/><stop offset="0.719" stop-color="#375b8d"/><stop offset="0.750" stop-color="#3b528b"/><stop offset="0.781" stop-color="#3e4989"/><stop offset="0.812" stop-color="#424086"/><stop offset="0.844" stop-color="#453781"/><stop offset="0.875" stop-color="#472d7b"/><stop offset="0.906" stop-color="#482374"/><stop offset="0.938" stop-color="#48186a"/><stop offset="0.969" stop-color="#470d60"/><stop offset="1.000" stop-color="#440154"/></linearGradient><rect x="497.30" y="791.10" width="18.30" height="365.60" fill="url(#gd)" fill-opacity="0.6"/></g><g id="matplotlib.axis_13"/><g id="matplotlib.axis_14"><g id="ytick_37"><g id="line2d_119"><g><use href="#m9adf3d6901" x="353.554286" y="791.124598" style="stroke: #000000; stroke-width: 1.2"/></g></g><g id="text_80"><text style="font-size: 11px; font-family: 'Liberation Sans', sans-serif; text-anchor: start" x="360.554286" y="795.110379" transform="rotate(-0 360.554286 795.110379)">0.4</text></g></g><g id="ytick_38"><g id="line2d_120"><g><use href="#m9adf3d6901" x="353.554286" y="751.102704" style="stroke: #000000; stroke-width: 1.2"/></g></g><g id="text_81"><text style="font-size: 11px; font-family: 'Liberation Sans', sans-serif; text-anchor: start" x="360.554286" y="755.088485" transform="rotate(-0 360.554286 755.088485)">0.5</text></g></g><g id="ytick_39"><g id="line2d_121"><g><use href="#m9adf3d6901" x="353.554286" y="711.08081" style="stroke: #000000; stroke-width: 1.2"/></g></g><g id="text_82"><text style="font-size: 11px; font-family: 'Liberation Sans', sans-serif; text-anchor: start" x="360.554286" y="715.066591" transform="rotate(-0 360.554286 715.066591)">0.6</text></g></g><g id="ytick_40"><g id="line2d_122"><g><use href="#m9adf3d6901" x="353.554286" y="671.058916" style="stroke: #000000; stroke-width: 1.2"/></g></g><g id="text_83"><text style="font-size: 11px; font-family: 'Liberation Sans', sans-serif; text-anchor: start" x="360.554286" y="675.044698" transform="rotate(-0 360.554286 675.044698)">0.7</text></g></g><g id="ytick_41"><g id="line2d_123"><g><use href="#m9adf3d6901" x="353.554286" y="631.037022" style="stroke: #000000; stroke-width: 1.2"/></g></g><g id="text_84"><text style="font-size: 11px; font-family: 'Liberation Sans', sans-serif; text-anchor: start" x="360.554286" y="635.022804" transform="rotate(-0 360.554286 635.022804)">0.8</text></g></g><g id="ytick_42"><g id="line2d_124"><g><use href="#m9adf3d6901" x="353.554286" y="591.015129" style="stroke: #000000; stroke-width: 1.2"/></g></g><g id="text_85"><text style="font-size: 11px; font-family: 'Liberation Sans', sans-serif; text-anchor: start" x="360.554286" y="595.00091" transform="rotate(-0 360.554286 595.00091)">0.9</text></g></g><g id="ytick_43"><g id="line2d_125"><g><use href="#m9adf3d6901" x="353.554286" y="550.993235" style="stroke: #000000; stroke-width: 1.2"/></g></g><g id="text_86"><text style="font-size: 11px; font-family: 'Liberation Sans', sans-serif; text-anchor: start" x="360.554286" y="554.979016" transform="rotate(-0 360.554286 554.979016)">1.0</text></g></g><g id="text_87"><g transform="translate(389.604286 699.137143) rotate(-90)"><text xml:space="preserve"><tspan x="0.00" y="-0.30" style="font-style: italic; font-size: 12px; font-family: 'Liberation Sans', sans-serif">T</tspan><tspan x="7.33" y="3.29" style="font-size: 8.4px; font-family: 'Liberation Sans', sans-serif">1</tspan><tspan x="12.60" y="-0.30" style="font-size: 12px; font-family: 'Liberation Sans', sans-serif">/</tspan><tspan x="15.93" y="-0.30" style="font-style: italic; font-size: 12px; font-family: 'Liberation Sans', sans-serif">S</tspan><tspan x="23.94" y="3.29" style="font-size: 8.4px; font-family: 'Liberation Sans', sans-serif">1</tspan><tspan x="29.21" y="-0.30" style="font-weight: 700; font-size: 12px; font-family: 'Liberation Sans', sans-serif"> Ratio</tspan></text></g></g></g><g id="LineCollection_3"/><g id="patch_81"><path d="M 341.01 793.17 L 347.28 793.17 L 353.55 793.17 L 353.55 542.47 L 347.28 542.47 L 341.01 542.47 L 341.01 793.17 z " style="fill: none; stroke: #000000; stroke-width: 1.25; stroke-linejoin: miter; stroke-linecap: square"/></g></g><g id="axes_8"><g id="patch_82"><path d="M 536.23 824.64 L 892.8 824.64 L 892.8 511.13 L 536.23 511.13 z " style="fill: #ffffff"/></g><g id="matplotlib.axis_15"><g id="xtick_27"><g id="line2d_126"><path d="M 574.79 824.64 L 574.79 511.13 " clip-path="url(#p0bbaf6294c)" style="fill: none; stroke: #b0b0b0; stroke-opacity: 0.3; stroke-width: 0.8; stroke-linecap: square"/></g><g id="line2d_127"><g><use href="#me52e4beeaa" x="574.791939" y="824.64" style="stroke: #000000; stroke-width: 1.2"/></g></g><g id="text_88"><text style="font-size: 12px; font-family: 'Liberation Sans', sans-serif; text-anchor: middle" x="574.791939" y="841.38625" transform="rotate(-0 574.791939 841.38625)">0</text></g></g><g id="xtick_28"><g id="line2d_128"><path d="M 630.68 824.64 L 630.68 511.13 " clip-path="url(#p0bbaf6294c)" style="fill: none; stroke: #b0b0b0; stroke-opacity: 0.3; stroke-width: 0.8; stroke-linecap: square"/></g><g id="line2d_129"><g><use href="#me52e4beeaa" x="630.680878" y="824.64" style="stroke: #000000; stroke-width: 1.2"/></g></g><g id="text_89"><text style="font-size: 12px; font-family: 'Liberation Sans', sans-serif; text-anchor: middle" x="630.680878" y="841.38625" transform="rotate(-0 630.680878 841.38625)">1</text></g></g><g id="xtick_29"><g id="line2d_130"><path d="M 686.57 824.64 L 686.57 511.13 " clip-path="url(#p0bbaf6294c)" style="fill: none; stroke: #b0b0b0; stroke-opacity: 0.3; stroke-width: 0.8; stroke-linecap: square"/></g><g id="line2d_131"><g><use href="#me52e4beeaa" x="686.569816" y="824.64" style="stroke: #000000; stroke-width: 1.2"/></g></g><g id="text_90"><text style="font-size: 12px; font-family: 'Liberation Sans', sans-serif; text-anchor: middle" x="686.569816" y="841.38625" transform="rotate(-0 686.569816 841.38625)">2</text></g></g><g id="xtick_30"><g id="line2d_132"><path d="M 742.46 824.64 L 742.46 511.13 " clip-path="url(#p0bbaf6294c)" style="fill: none; stroke: #b0b0b0; stroke-opacity: 0.3; stroke-width: 0.8; stroke-linecap: square"/></g><g id="line2d_133"><g><use href="#me52e4beeaa" x="742.458755" y="824.64" style="stroke: #000000; stroke-width: 1.2"/></g></g><g id="text_91"><text style="font-size: 12px; font-family: 'Liberation Sans', sans-serif; text-anchor: middle" x="742.458755" y="841.38625" transform="rotate(-0 742.458755 841.38625)">3</text></g></g><g id="xtick_31"><g id="line2d_134"><path d="M 798.35 824.64 L 798.35 511.13 " clip-path="url(#p0bbaf6294c)" style="fill: none; stroke: #b0b0b0; stroke-opacity: 0.3; stroke-width: 0.8; stroke-linecap: square"/></g><g id="line2d_135"><g><use href="#me52e4beeaa" x="798.347694" y="824.64" style="stroke: #000000; stroke-width: 1.2"/></g></g><g id="text_92"><text style="font-size: 12px; font-family: 'Liberation Sans', sans-serif; text-anchor: middle" x="798.347694" y="841.38625" transform="rotate(-0 798.347694 841.38625)">4</text></g></g><g id="xtick_32"><g id="line2d_136"><path d="M 854.24 824.64 L 854.24 511.13 " clip-path="url(#p0bbaf6294c)" style="fill: none; stroke: #b0b0b0; stroke-opacity: 0.3; stroke-width: 0.8; stroke-linecap: square"/></g><g id="line2d_137"><g><use href="#me52e4beeaa" x="854.236632" y="824.64" style="stroke: #000000; stroke-width: 1.2"/></g></g><g id="text_93"><text style="font-size: 12px; font-family: 'Liberation Sans', sans-serif; text-anchor: middle" x="854.236632" y="841.38625" transform="rotate(-0 854.236632 841.38625)">5</text></g></g><g id="text_94"><text style="font-weight: 700; font-size: 13px; font-family: 'Liberation Sans', sans-serif; text-anchor: middle" x="714.514286" y="856.267187" transform="rotate(-0 714.514286 856.267187)">Number of Rings</text></g></g><g id="matplotlib.axis_16"><g id="ytick_44"><g id="line2d_138"><path d="M 536.23 808.08 L 892.8 808.08 " clip-path="url(#p0bbaf6294c)" style="fill: none; stroke: #b0b0b0; stroke-opacity: 0.3; stroke-width: 0.8; stroke-linecap: square"/></g><g id="line2d_139"><g><use href="#m4d9286fa7c" x="536.228571" y="808.077283" style="stroke: #000000; stroke-width: 1.2"/></g></g><g id="text_95"><text style="font-size: 12px; font-family: 'Liberation Sans', sans-serif; text-anchor: end" x="529.228571" y="812.425408" transform="rotate(-0 529.228571 812.425408)">0.4</text></g></g><g id="ytick_45"><g id="line2d_140"><path d="M 536.23 762.58 L 892.8 762.58 " clip-path="url(#p0bbaf6294c)" style="fill: none; stroke: #b0b0b0; stroke-opacity: 0.3; stroke-width: 0.8; stroke-linecap: square"/></g><g id="line2d_141"><g><use href="#m4d9286fa7c" x="536.228571" y="762.575313" style="stroke: #000000; stroke-width: 1.2"/></g></g><g id="text_96"><text style="font-size: 12px; font-family: 'Liberation Sans', sans-serif; text-anchor: end" x="529.228571" y="766.923438" transform="rotate(-0 529.228571 766.923438)">0.5</text></g></g><g id="ytick_46"><g id="line2d_142"><path d="M 536.23 717.07 L 892.8 717.07 " clip-path="url(#p0bbaf6294c)" style="fill: none; stroke: #b0b0b0; stroke-opacity: 0.3; stroke-width: 0.8; stroke-linecap: square"/></g><g id="line2d_143"><g><use href="#m4d9286fa7c" x="536.228571" y="717.073344" style="stroke: #000000; stroke-width: 1.2"/></g></g><g id="text_97"><text style="font-size: 12px; font-family: 'Liberation Sans', sans-serif; text-anchor: end" x="529.228571" y="721.421469" transform="rotate(-0 529.228571 721.421469)">0.6</text></g></g><g id="ytick_47"><g id="line2d_144"><path d="M 536.23 671.57 L 892.8 671.57 " clip-path="url(#p0bbaf6294c)" style="fill: none; stroke: #b0b0b0; stroke-opacity: 0.3; stroke-width: 0.8; stroke-linecap: square"/></g><g id="line2d_145"><g><use href="#m4d9286fa7c" x="536.228571" y="671.571374" style="stroke: #000000; stroke-width: 1.2"/></g></g><g id="text_98"><text style="font-size: 12px; font-family: 'Liberation Sans', sans-serif; text-anchor: end" x="529.228571" y="675.919499" transform="rotate(-0 529.228571 675.919499)">0.7</text></g></g><g id="ytick_48"><g id="line2d_146"><path d="M 536.23 626.07 L 892.8 626.07 " clip-path="url(#p0bbaf6294c)" style="fill: none; stroke: #b0b0b0; stroke-opacity: 0.3; stroke-width: 0.8; stroke-linecap: square"/></g><g id="line2d_147"><g><use href="#m4d9286fa7c" x="536.228571" y="626.069404" style="stroke: #000000; stroke-width: 1.2"/></g></g><g id="text_99"><text style="font-size: 12px; font-family: 'Liberation Sans', sans-serif; text-anchor: end" x="529.228571" y="630.417529" transform="rotate(-0 529.228571 630.417529)">0.8</text></g></g><g id="ytick_49"><g id="line2d_148"><path d="M 536.23 580.57 L 892.8 580.57 " clip-path="url(#p0bbaf6294c)" style="fill: none; stroke: #b0b0b0; stroke-opacity: 0.3; stroke-width: 0.8; stroke-linecap: square"/></g><g id="line2d_149"><g><use href="#m4d9286fa7c" x="536.228571" y="580.567434" style="stroke: #000000; stroke-width: 1.2"/></g></g><g id="text_100"><text style="font-size: 12px; font-family: 'Liberation Sans', sans-serif; text-anchor: end" x="529.228571" y="584.915559" transform="rotate(-0 529.228571 584.915559)">0.9</text></g></g><g id="ytick_50"><g id="line2d_150"><path d="M 536.23 535.07 L 892.8 535.07 " clip-path="url(#p0bbaf6294c)" style="fill: none; stroke: #b0b0b0; stroke-opacity: 0.3; stroke-width: 0.8; stroke-linecap: square"/></g><g id="line2d_151"><g><use href="#m4d9286fa7c" x="536.228571" y="535.065465" style="stroke: #000000; stroke-width: 1.2"/></g></g><g id="text_101"><text style="font-size: 12px; font-family: 'Liberation Sans', sans-serif; text-anchor: end" x="529.228571" y="539.41359" transform="rotate(-0 529.228571 539.41359)">1.0</text></g></g><g id="text_102"><g transform="translate(503.148571 701.815714) rotate(-90)"><text xml:space="preserve"><tspan x="0.00" y="-0.58" style="font-style: italic; font-size: 13px; font-family: 'Liberation Sans', sans-serif">T</tspan><tspan x="7.94" y="3.30" style="font-size: 9.1px; font-family: 'Liberation Sans', sans-serif">1</tspan><tspan x="13.65" y="-0.58" style="font-size: 13px; font-family: 'Liberation Sans', sans-serif">/</tspan><tspan x="17.26" y="-0.58" style="font-style: italic; font-size: 13px; font-family: 'Liberation Sans', sans-serif">S</tspan><tspan x="25.93" y="3.30" style="font-size: 9.1px; font-family: 'Liberation Sans', sans-serif">1</tspan><tspan x="31.64" y="-0.58" style="font-weight: 700; font-size: 13px; font-family: 'Liberation Sans', sans-serif"> Ratio</tspan></text></g></g></g><g id="FillBetweenPolyCollection_1"><defs><path id="m13d520d6d0" d="M 574.79 -368.54 L 574.79 -368.54 L 574.21 -366.17 L 573.62 -363.79 L 573.02 -361.41 L 572.4 -359.03 L 571.78 -356.66 L 571.15 -354.28 L 570.51 -351.9 L 569.86 -349.52 L 569.19 -347.15 L 568.49 -344.77 L 567.76 -342.39 L 567.01 -340.01 L 566.23 -337.63 L 565.41 -335.26 L 564.54 -332.88 L 563.58 -330.5 L 562.48 -328.12 L 561.31 -325.75 L 560.15 -323.37 L 559.08 -320.99 L 558.17 -318.61 L 557.32 -316.23 L 556.58 -313.86 L 555.97 -311.48 L 555.41 -309.1 L 554.92 -306.72 L 554.54 -304.35 L 554.26 -301.97 L 554.04 -299.59 L 553.96 -297.21 L 554.16 -294.83 L 554.6 -292.46 L 555.17 -290.08 L 555.84 -287.7 L 556.85 -285.32 L 558.01 -282.95 L 559.09 -280.57 L 559.96 -278.19 L 560.83 -275.81 L 561.64 -273.44 L 562.34 -271.06 L 562.84 -268.68 L 563.15 -266.3 L 563.4 -263.92 L 563.61 -261.55 L 563.77 -259.17 L 563.88 -256.79 L 563.94 -254.41 L 563.99 -252.04 L 564.03 -249.66 L 564.06 -247.28 L 564.09 -244.9 L 564.13 -242.52 L 564.16 -240.15 L 564.2 -237.77 L 564.23 -235.39 L 564.26 -233.01 L 564.31 -230.64 L 564.36 -228.26 L 564.43 -225.88 L 564.55 -223.5 L 564.7 -221.12 L 564.87 -218.75 L 565.07 -216.37 L 565.27 -213.99 L 565.52 -211.61 L 565.87 -209.24 L 566.27 -206.86 L 566.66 -204.48 L 566.98 -202.1 L 567.19 -199.72 L 567.29 -197.35 L 567.37 -194.97 L 567.43 -192.59 L 567.45 -190.21 L 567.38 -187.84 L 567.12 -185.46 L 566.73 -183.08 L 566.29 -180.7 L 565.86 -178.33 L 565.45 -175.95 L 565.02 -173.57 L 564.54 -171.19 L 564.04 -168.81 L 563.51 -166.44 L 562.93 -164.06 L 562.29 -161.68 L 561.61 -159.3 L 560.91 -156.93 L 560.2 -154.55 L 559.47 -152.17 L 558.71 -149.79 L 557.93 -147.41 L 557.15 -145.04 L 556.4 -142.66 L 555.63 -140.28 L 554.84 -137.9 L 554.1 -135.53 L 553.52 -133.15 L 553.05 -130.77 L 552.77 -128.39 L 552.94 -126.01 L 553.43 -123.64 L 554.12 -121.26 L 554.86 -118.88 L 555.73 -116.5 L 556.84 -114.13 L 558.08 -111.75 L 559.35 -109.37 L 560.61 -106.99 L 561.93 -104.62 L 563.32 -102.24 L 564.81 -99.86 L 566.48 -97.48 L 568.28 -95.1 L 570.04 -92.73 L 571.67 -90.35 L 573.26 -87.97 L 574.79 -85.59 L 574.79 -85.59 L 574.79 -85.59 L 576.33 -87.97 L 577.91 -90.35 L 579.55 -92.73 L 581.3 -95.1 L 583.11 -97.48 L 584.78 -99.86 L 586.26 -102.24 L 587.66 -104.62 L 588.98 -106.99 L 590.23 -109.37 L 591.5 -111.75 L 592.75 -114.13 L 593.86 -116.5 L 594.72 -118.88 L 595.47 -121.26 L 596.15 -123.64 L 596.64 -126.01 L 596.81 -128.39 L 596.54 -130.77 L 596.06 -133.15 L 595.48 -135.53 L 594.75 -137.9 L 593.95 -140.28 L 593.19 -142.66 L 592.43 -145.04 L 591.65 -147.41 L 590.88 -149.79 L 590.11 -152.17 L 589.39 -154.55 L 588.67 -156.93 L 587.97 -159.3 L 587.29 -161.68 L 586.66 -164.06 L 586.08 -166.44 L 585.54 -168.81 L 585.04 -171.19 L 584.57 -173.57 L 584.13 -175.95 L 583.72 -178.33 L 583.29 -180.7 L 582.85 -183.08 L 582.47 -185.46 L 582.21 -187.84 L 582.13 -190.21 L 582.16 -192.59 L 582.22 -194.97 L 582.3 -197.35 L 582.39 -199.72 L 582.6 -202.1 L 582.93 -204.48 L 583.32 -206.86 L 583.71 -209.24 L 584.06 -211.61 L 584.31 -213.99 L 584.52 -216.37 L 584.71 -218.75 L 584.89 -221.12 L 585.04 -223.5 L 585.15 -225.88 L 585.23 -228.26 L 585.28 -230.64 L 585.32 -233.01 L 585.36 -235.39 L 585.39 -237.77 L 585.42 -240.15 L 585.46 -242.52 L 585.49 -244.9 L 585.52 -247.28 L 585.55 -249.66 L 585.59 -252.04 L 585.64 -254.41 L 585.71 -256.79 L 585.82 -259.17 L 585.98 -261.55 L 586.18 -263.92 L 586.44 -266.3 L 586.74 -268.68 L 587.25 -271.06 L 587.94 -273.44 L 588.75 -275.81 L 589.62 -278.19 L 590.49 -280.57 L 591.57 -282.95 L 592.73 -285.32 L 593.74 -287.7 L 594.42 -290.08 L 594.98 -292.46 L 595.42 -294.83 L 595.63 -297.21 L 595.55 -299.59 L 595.32 -301.97 L 595.04 -304.35 L 594.66 -306.72 L 594.17 -309.1 L 593.62 -311.48 L 593.01 -313.86 L 592.27 -316.23 L 591.42 -318.61 L 590.5 -320.99 L 589.43 -323.37 L 588.27 -325.75 L 587.1 -328.12 L 586 -330.5 L 585.05 -332.88 L 584.18 -335.26 L 583.35 -337.63 L 582.57 -340.01 L 581.82 -342.39 L 581.09 -344.77 L 580.4 -347.15 L 579.73 -349.52 L 579.08 -351.9 L 578.44 -354.28 L 577.81 -356.66 L 577.18 -359.03 L 576.57 -361.41 L 575.96 -363.79 L 575.37 -366.17 L 574.79 -368.54 z "/></defs><g clip-path="url(#p0bbaf6294c)"><use href="#m13d520d6d0" x="0" y="893.485714" style="fill: #1f77b4; fill-opacity: 0.7"/></g></g><g id="FillBetweenPolyCollection_2"><defs><path id="m8d913233b3" d="M 630.68 -368.54 L 630.68 -368.54 L 630.33 -366.15 L 629.98 -363.76 L 629.63 -361.36 L 629.28 -358.97 L 628.94 -356.58 L 628.6 -354.18 L 628.26 -351.79 L 627.93 -349.4 L 627.59 -347 L 627.26 -344.61 L 626.93 -342.21 L 626.62 -339.82 L 626.32 -337.43 L 625.99 -335.03 L 625.61 -332.64 L 625.15 -330.25 L 624.57 -327.85 L 623.92 -325.46 L 623.23 -323.07 L 622.57 -320.67 L 621.93 -318.28 L 621.25 -315.88 L 620.57 -313.49 L 619.95 -311.1 L 619.42 -308.7 L 619 -306.31 L 618.65 -303.92 L 618.33 -301.52 L 618.03 -299.13 L 617.71 -296.73 L 617.4 -294.34 L 617.1 -291.95 L 616.8 -289.55 L 616.46 -287.16 L 616.05 -284.77 L 615.48 -282.37 L 614.7 -279.98 L 613.82 -277.59 L 612.96 -275.19 L 612.25 -272.8 L 611.68 -270.4 L 611.15 -268.01 L 610.67 -265.62 L 610.24 -263.22 L 609.85 -260.83 L 609.46 -258.44 L 609.07 -256.04 L 608.77 -253.65 L 608.66 -251.26 L 608.77 -248.86 L 609.06 -246.47 L 609.45 -244.07 L 609.88 -241.68 L 610.45 -239.29 L 611.21 -236.89 L 612.1 -234.5 L 613.04 -232.11 L 614.16 -229.71 L 615.44 -227.32 L 616.71 -224.93 L 617.83 -222.53 L 618.87 -220.14 L 619.87 -217.74 L 620.72 -215.35 L 621.31 -212.96 L 621.78 -210.56 L 622.2 -208.17 L 622.53 -205.78 L 622.77 -203.38 L 622.89 -200.99 L 622.95 -198.59 L 622.98 -196.2 L 623.02 -193.81 L 623.06 -191.41 L 623.14 -189.02 L 623.33 -186.63 L 623.53 -184.23 L 623.53 -181.84 L 622.91 -179.45 L 621.85 -177.05 L 620.67 -174.66 L 619.63 -172.26 L 618.53 -169.87 L 617.41 -167.48 L 616.43 -165.08 L 615.71 -162.69 L 615.05 -160.3 L 614.5 -157.9 L 614.16 -155.51 L 614.15 -153.12 L 614.48 -150.72 L 615.03 -148.33 L 615.68 -145.93 L 616.4 -143.54 L 617.4 -141.15 L 618.54 -138.75 L 619.63 -136.36 L 620.5 -133.97 L 621.29 -131.57 L 622.04 -129.18 L 622.72 -126.78 L 623.35 -124.39 L 623.92 -122 L 624.43 -119.6 L 624.91 -117.21 L 625.36 -114.82 L 625.8 -112.42 L 626.24 -110.03 L 626.67 -107.64 L 627.08 -105.24 L 627.48 -102.85 L 627.89 -100.45 L 628.28 -98.06 L 628.69 -95.67 L 629.09 -93.27 L 629.49 -90.88 L 629.89 -88.49 L 630.29 -86.09 L 630.68 -83.7 L 630.68 -83.7 L 630.68 -83.7 L 631.08 -86.09 L 631.47 -88.49 L 631.87 -90.88 L 632.27 -93.27 L 632.68 -95.67 L 633.08 -98.06 L 633.48 -100.45 L 633.88 -102.85 L 634.28 -105.24 L 634.7 -107.64 L 635.12 -110.03 L 635.56 -112.42 L 636 -114.82 L 636.45 -117.21 L 636.93 -119.6 L 637.44 -122 L 638.01 -124.39 L 638.64 -126.78 L 639.33 -129.18 L 640.07 -131.57 L 640.87 -133.97 L 641.74 -136.36 L 642.82 -138.75 L 643.96 -141.15 L 644.96 -143.54 L 645.68 -145.93 L 646.33 -148.33 L 646.89 -150.72 L 647.21 -153.12 L 647.2 -155.51 L 646.86 -157.9 L 646.31 -160.3 L 645.65 -162.69 L 644.93 -165.08 L 643.95 -167.48 L 642.83 -169.87 L 641.73 -172.26 L 640.69 -174.66 L 639.51 -177.05 L 638.45 -179.45 L 637.84 -181.84 L 637.83 -184.23 L 638.03 -186.63 L 638.22 -189.02 L 638.3 -191.41 L 638.35 -193.81 L 638.38 -196.2 L 638.42 -198.59 L 638.47 -200.99 L 638.59 -203.38 L 638.83 -205.78 L 639.17 -208.17 L 639.58 -210.56 L 640.05 -212.96 L 640.64 -215.35 L 641.49 -217.74 L 642.49 -220.14 L 643.53 -222.53 L 644.65 -224.93 L 645.93 -227.32 L 647.2 -229.71 L 648.32 -232.11 L 649.26 -234.5 L 650.15 -236.89 L 650.91 -239.29 L 651.48 -241.68 L 651.91 -244.07 L 652.3 -246.47 L 652.59 -248.86 L 652.7 -251.26 L 652.59 -253.65 L 652.29 -256.04 L 651.91 -258.44 L 651.51 -260.83 L 651.13 -263.22 L 650.69 -265.62 L 650.21 -268.01 L 649.68 -270.4 L 649.11 -272.8 L 648.4 -275.19 L 647.54 -277.59 L 646.67 -279.98 L 645.88 -282.37 L 645.31 -284.77 L 644.9 -287.16 L 644.56 -289.55 L 644.26 -291.95 L 643.97 -294.34 L 643.65 -296.73 L 643.33 -299.13 L 643.03 -301.52 L 642.71 -303.92 L 642.36 -306.31 L 641.94 -308.7 L 641.41 -311.1 L 640.79 -313.49 L 640.11 -315.88 L 639.43 -318.28 L 638.79 -320.67 L 638.13 -323.07 L 637.44 -325.46 L 636.79 -327.85 L 636.21 -330.25 L 635.75 -332.64 L 635.37 -335.03 L 635.04 -337.43 L 634.74 -339.82 L 634.43 -342.21 L 634.1 -344.61 L 633.77 -347 L 633.44 -349.4 L 633.1 -351.79 L 632.77 -354.18 L 632.42 -356.58 L 632.08 -358.97 L 631.73 -361.36 L 631.39 -363.76 L 631.03 -366.15 L 630.68 -368.54 z "/></defs><g clip-path="url(#p0bbaf6294c)"><use href="#m8d913233b3" x="0" y="893.485714" style="fill: #1f77b4; fill-opacity: 0.7"/></g></g><g id="FillBetweenPolyCollection_3"><defs><path id="mc1f85d88d7" d="M 686.57 -368.54 L 686.57 -368.54 L 686.34 -366.15 L 686.13 -363.76 L 685.94 -361.36 L 685.76 -358.97 L 685.57 -356.58 L 685.39 -354.18 L 685.24 -351.79 L 685.16 -349.4 L 685.17 -347 L 685.26 -344.61 L 685.4 -342.21 L 685.54 -339.82 L 685.62 -337.43 L 685.62 -335.03 L 685.61 -332.64 L 685.59 -330.25 L 685.57 -327.85 L 685.54 -325.46 L 685.5 -323.07 L 685.45 -320.67 L 685.4 -318.28 L 685.32 -315.88 L 685.15 -313.49 L 684.93 -311.1 L 684.72 -308.7 L 684.54 -306.31 L 684.37 -303.92 L 684.19 -301.52 L 684 -299.13 L 683.77 -296.73 L 683.49 -294.34 L 683.14 -291.95 L 682.74 -289.55 L 682.32 -287.16 L 681.88 -284.77 L 681.46 -282.37 L 681.04 -279.98 L 680.59 -277.59 L 680.09 -275.19 L 679.51 -272.8 L 678.78 -270.4 L 677.89 -268.01 L 676.88 -265.62 L 675.82 -263.22 L 674.74 -260.83 L 673.58 -258.44 L 672.3 -256.04 L 671 -253.65 L 669.79 -251.26 L 668.77 -248.86 L 667.95 -246.47 L 667.24 -244.07 L 666.58 -241.68 L 665.91 -239.29 L 665.18 -236.89 L 664.32 -234.5 L 664.51 -232.11 L 665.07 -229.71 L 665.81 -227.32 L 666.55 -224.93 L 667.38 -222.53 L 668.33 -220.14 L 669.36 -217.74 L 670.39 -215.35 L 671.38 -212.96 L 672.41 -210.56 L 673.47 -208.17 L 674.48 -205.78 L 675.38 -203.38 L 676.08 -200.99 L 676.65 -198.59 L 677.15 -196.2 L 677.6 -193.81 L 678.01 -191.41 L 678.4 -189.02 L 678.76 -186.63 L 679.08 -184.23 L 679.4 -181.84 L 679.72 -179.45 L 680.07 -177.05 L 680.43 -174.66 L 680.79 -172.26 L 681.17 -169.87 L 681.58 -167.48 L 682.04 -165.08 L 682.59 -162.69 L 683.19 -160.3 L 683.8 -157.9 L 684.39 -155.51 L 684.93 -153.12 L 685.48 -150.72 L 685.94 -148.33 L 686.22 -145.93 L 686.42 -143.54 L 686.46 -141.15 L 686.47 -138.75 L 686.48 -136.36 L 686.49 -133.97 L 686.5 -131.57 L 686.51 -129.18 L 686.52 -126.78 L 686.52 -124.39 L 686.53 -122 L 686.54 -119.6 L 686.54 -117.21 L 686.55 -114.82 L 686.55 -112.42 L 686.55 -110.03 L 686.56 -107.64 L 686.56 -105.24 L 686.56 -102.85 L 686.56 -100.45 L 686.57 -98.06 L 686.57 -95.67 L 686.57 -93.27 L 686.57 -90.88 L 686.57 -88.49 L 686.57 -86.09 L 686.57 -83.7 L 686.57 -83.7 L 686.57 -83.7 L 686.57 -86.09 L 686.57 -88.49 L 686.57 -90.88 L 686.57 -93.27 L 686.57 -95.67 L 686.57 -98.06 L 686.57 -100.45 L 686.58 -102.85 L 686.58 -105.24 L 686.58 -107.64 L 686.58 -110.03 L 686.59 -112.42 L 686.59 -114.82 L 686.6 -117.21 L 686.6 -119.6 L 686.61 -122 L 686.62 -124.39 L 686.62 -126.78 L 686.63 -129.18 L 686.64 -131.57 L 686.65 -133.97 L 686.66 -136.36 L 686.67 -138.75 L 686.68 -141.15 L 686.72 -143.54 L 686.91 -145.93 L 687.2 -148.33 L 687.66 -150.72 L 688.21 -153.12 L 688.75 -155.51 L 689.33 -157.9 L 689.95 -160.3 L 690.55 -162.69 L 691.1 -165.08 L 691.56 -167.48 L 691.97 -169.87 L 692.35 -172.26 L 692.71 -174.66 L 693.07 -177.05 L 693.42 -179.45 L 693.74 -181.84 L 694.06 -184.23 L 694.38 -186.63 L 694.74 -189.02 L 695.13 -191.41 L 695.54 -193.81 L 695.99 -196.2 L 696.49 -198.59 L 697.06 -200.99 L 697.76 -203.38 L 698.66 -205.78 L 699.67 -208.17 L 700.73 -210.56 L 701.76 -212.96 L 702.75 -215.35 L 703.78 -217.74 L 704.81 -220.14 L 705.76 -222.53 L 706.59 -224.93 L 707.33 -227.32 L 708.07 -229.71 L 708.63 -232.11 L 708.82 -234.5 L 707.96 -236.89 L 707.23 -239.29 L 706.56 -241.68 L 705.9 -244.07 L 705.19 -246.47 L 704.37 -248.86 L 703.35 -251.26 L 702.14 -253.65 L 700.84 -256.04 L 699.56 -258.44 L 698.4 -260.83 L 697.32 -263.22 L 696.26 -265.62 L 695.25 -268.01 L 694.36 -270.4 L 693.63 -272.8 L 693.05 -275.19 L 692.55 -277.59 L 692.1 -279.98 L 691.68 -282.37 L 691.26 -284.77 L 690.82 -287.16 L 690.4 -289.55 L 690 -291.95 L 689.65 -294.34 L 689.37 -296.73 L 689.14 -299.13 L 688.95 -301.52 L 688.77 -303.92 L 688.6 -306.31 L 688.42 -308.7 L 688.21 -311.1 L 687.99 -313.49 L 687.82 -315.88 L 687.74 -318.28 L 687.69 -320.67 L 687.64 -323.07 L 687.6 -325.46 L 687.57 -327.85 L 687.55 -330.25 L 687.53 -332.64 L 687.52 -335.03 L 687.52 -337.43 L 687.6 -339.82 L 687.74 -342.21 L 687.87 -344.61 L 687.97 -347 L 687.98 -349.4 L 687.9 -351.79 L 687.75 -354.18 L 687.57 -356.58 L 687.38 -358.97 L 687.2 -361.36 L 687.01 -363.76 L 686.79 -366.15 L 686.57 -368.54 z "/></defs><g clip-path="url(#p0bbaf6294c)"><use href="#mc1f85d88d7" x="0" y="893.485714" style="fill: #1f77b4; fill-opacity: 0.7"/></g></g><g id="FillBetweenPolyCollection_4"><defs><path id="mcbd67b143c" d="M 742.46 -366.89 L 742.46 -366.89 L 742.46 -364.51 L 742.46 -362.13 L 742.46 -359.75 L 742.45 -357.37 L 742.45 -354.99 L 742.45 -352.61 L 742.45 -350.23 L 742.44 -347.85 L 742.44 -345.47 L 742.43 -343.09 L 742.43 -340.71 L 742.42 -338.33 L 742.41 -335.95 L 742.4 -333.57 L 742.39 -331.19 L 742.38 -328.81 L 742.37 -326.43 L 742.36 -324.05 L 742.35 -321.67 L 742.33 -319.29 L 742.29 -316.91 L 742.23 -314.53 L 742.14 -312.15 L 742.05 -309.77 L 741.95 -307.39 L 741.84 -305.01 L 741.71 -302.63 L 741.55 -300.25 L 741.39 -297.88 L 741.21 -295.5 L 741.01 -293.12 L 740.79 -290.74 L 740.54 -288.36 L 740.27 -285.98 L 739.98 -283.6 L 739.66 -281.22 L 739.31 -278.84 L 738.91 -276.46 L 738.48 -274.08 L 738 -271.7 L 737.46 -269.32 L 736.85 -266.94 L 736.16 -264.56 L 735.38 -262.18 L 734.47 -259.8 L 733.28 -257.42 L 731.89 -255.04 L 730.41 -252.66 L 728.98 -250.28 L 727.68 -247.9 L 726.39 -245.52 L 725.12 -243.14 L 723.92 -240.76 L 722.83 -238.38 L 721.87 -236 L 720.9 -233.62 L 720.44 -231.24 L 720.87 -228.86 L 721.83 -226.48 L 722.9 -224.1 L 724.38 -221.72 L 725.83 -219.34 L 726.82 -216.96 L 727.55 -214.58 L 727.94 -212.2 L 728.16 -209.82 L 728.34 -207.45 L 728.48 -205.07 L 728.63 -202.69 L 728.88 -200.31 L 729.29 -197.93 L 729.86 -195.55 L 730.75 -193.17 L 732.14 -190.79 L 732.82 -188.41 L 733.25 -186.03 L 733.59 -183.65 L 733.86 -181.27 L 734.09 -178.89 L 734.28 -176.51 L 734.41 -174.13 L 734.56 -171.75 L 734.82 -169.37 L 735.23 -166.99 L 735.75 -164.61 L 736.32 -162.23 L 736.97 -159.85 L 737.79 -157.47 L 738.66 -155.09 L 739.41 -152.71 L 739.97 -150.33 L 740.46 -147.95 L 740.88 -145.57 L 741.2 -143.19 L 741.41 -140.81 L 741.59 -138.43 L 741.73 -136.05 L 741.85 -133.67 L 741.96 -131.29 L 742.05 -128.91 L 742.15 -126.53 L 742.23 -124.15 L 742.29 -121.77 L 742.33 -119.39 L 742.35 -117.02 L 742.37 -114.64 L 742.38 -112.26 L 742.39 -109.88 L 742.41 -107.5 L 742.42 -105.12 L 742.42 -102.74 L 742.43 -100.36 L 742.44 -97.98 L 742.45 -95.6 L 742.45 -93.22 L 742.45 -90.84 L 742.46 -88.46 L 742.46 -86.08 L 742.46 -83.7 L 742.46 -83.7 L 742.46 -83.7 L 742.46 -86.08 L 742.46 -88.46 L 742.46 -90.84 L 742.47 -93.22 L 742.47 -95.6 L 742.48 -97.98 L 742.48 -100.36 L 742.49 -102.74 L 742.5 -105.12 L 742.51 -107.5 L 742.52 -109.88 L 742.54 -112.26 L 742.55 -114.64 L 742.57 -117.02 L 742.58 -119.39 L 742.62 -121.77 L 742.69 -124.15 L 742.77 -126.53 L 742.87 -128.91 L 742.96 -131.29 L 743.07 -133.67 L 743.19 -136.05 L 743.33 -138.43 L 743.51 -140.81 L 743.72 -143.19 L 744.04 -145.57 L 744.46 -147.95 L 744.95 -150.33 L 745.5 -152.71 L 746.26 -155.09 L 747.13 -157.47 L 747.95 -159.85 L 748.59 -162.23 L 749.17 -164.61 L 749.69 -166.99 L 750.1 -169.37 L 750.35 -171.75 L 750.5 -174.13 L 750.64 -176.51 L 750.83 -178.89 L 751.06 -181.27 L 751.33 -183.65 L 751.66 -186.03 L 752.1 -188.41 L 752.78 -190.79 L 754.17 -193.17 L 755.06 -195.55 L 755.63 -197.93 L 756.04 -200.31 L 756.29 -202.69 L 756.44 -205.07 L 756.57 -207.45 L 756.75 -209.82 L 756.98 -212.2 L 757.36 -214.58 L 758.1 -216.96 L 759.09 -219.34 L 760.54 -221.72 L 762.01 -224.1 L 763.09 -226.48 L 764.05 -228.86 L 764.48 -231.24 L 764.01 -233.62 L 763.05 -236 L 762.08 -238.38 L 761 -240.76 L 759.8 -243.14 L 758.52 -245.52 L 757.24 -247.9 L 755.94 -250.28 L 754.51 -252.66 L 753.03 -255.04 L 751.63 -257.42 L 750.45 -259.8 L 749.54 -262.18 L 748.76 -264.56 L 748.07 -266.94 L 747.46 -269.32 L 746.92 -271.7 L 746.44 -274.08 L 746 -276.46 L 745.61 -278.84 L 745.26 -281.22 L 744.94 -283.6 L 744.65 -285.98 L 744.38 -288.36 L 744.13 -290.74 L 743.91 -293.12 L 743.71 -295.5 L 743.53 -297.88 L 743.36 -300.25 L 743.21 -302.63 L 743.08 -305.01 L 742.96 -307.39 L 742.87 -309.77 L 742.77 -312.15 L 742.69 -314.53 L 742.62 -316.91 L 742.58 -319.29 L 742.57 -321.67 L 742.56 -324.05 L 742.54 -326.43 L 742.53 -328.81 L 742.52 -331.19 L 742.51 -333.57 L 742.51 -335.95 L 742.5 -338.33 L 742.49 -340.71 L 742.49 -343.09 L 742.48 -345.47 L 742.48 -347.85 L 742.47 -350.23 L 742.47 -352.61 L 742.47 -354.99 L 742.46 -357.37 L 742.46 -359.75 L 742.46 -362.13 L 742.46 -364.51 L 742.46 -366.89 z "/></defs><g clip-path="url(#p0bbaf6294c)"><use href="#mcbd67b143c" x="0" y="893.485714" style="fill: #1f77b4; fill-opacity: 0.7"/></g></g><g id="FillBetweenPolyCollection_5"><defs><path id="mdb1934cbc0" d="M 798.35 -367.36 L 798.35 -367.36 L 798.35 -364.98 L 798.35 -362.59 L 798.35 -360.21 L 798.34 -357.83 L 798.34 -355.44 L 798.34 -353.06 L 798.34 -350.67 L 798.33 -348.29 L 798.33 -345.91 L 798.32 -343.52 L 798.31 -341.14 L 798.31 -338.76 L 798.3 -336.37 L 798.29 -333.99 L 798.28 -331.61 L 798.27 -329.22 L 798.26 -326.84 L 798.25 -324.45 L 798.24 -322.07 L 798.23 -319.69 L 798.19 -317.3 L 798.12 -314.92 L 798.04 -312.54 L 797.94 -310.15 L 797.86 -307.77 L 797.79 -305.38 L 797.72 -303 L 797.65 -300.62 L 797.57 -298.23 L 797.49 -295.85 L 797.39 -293.47 L 797.27 -291.08 L 797.13 -288.7 L 796.92 -286.31 L 796.63 -283.93 L 796.27 -281.55 L 795.85 -279.16 L 795.38 -276.78 L 794.75 -274.4 L 793.96 -272.01 L 793.04 -269.63 L 792.02 -267.24 L 790.91 -264.86 L 789.56 -262.48 L 788 -260.09 L 786.39 -257.71 L 784.86 -255.33 L 783.4 -252.94 L 781.95 -250.56 L 780.44 -248.18 L 778.75 -245.79 L 776.67 -243.41 L 776.63 -241.02 L 778.21 -238.64 L 780.19 -236.26 L 782.87 -233.87 L 784.66 -231.49 L 785.83 -229.11 L 786.67 -226.72 L 787.13 -224.34 L 787.46 -221.95 L 787.66 -219.57 L 787.68 -217.19 L 787.58 -214.8 L 787.4 -212.42 L 787.14 -210.04 L 786.73 -207.65 L 785.59 -205.27 L 784.17 -202.88 L 783.13 -200.5 L 782.96 -198.12 L 782.96 -195.73 L 782.96 -193.35 L 783.06 -190.97 L 783.75 -188.58 L 784.8 -186.2 L 785.95 -183.81 L 787.5 -181.43 L 789.25 -179.05 L 791.08 -176.66 L 793.25 -174.28 L 795.05 -171.9 L 795.88 -169.51 L 796.47 -167.13 L 796.91 -164.75 L 797.14 -162.36 L 797.16 -159.98 L 797.16 -157.59 L 797.16 -155.21 L 797.16 -152.83 L 797.16 -150.44 L 797.16 -148.06 L 797.16 -145.68 L 797.16 -143.29 L 797.14 -140.91 L 797.03 -138.52 L 796.87 -136.14 L 796.73 -133.76 L 796.62 -131.37 L 796.52 -128.99 L 796.46 -126.61 L 796.56 -124.22 L 796.95 -121.84 L 797.34 -119.45 L 797.5 -117.07 L 797.61 -114.69 L 797.7 -112.3 L 797.78 -109.92 L 797.85 -107.54 L 797.94 -105.15 L 798.02 -102.77 L 798.1 -100.38 L 798.17 -98 L 798.22 -95.62 L 798.26 -93.23 L 798.29 -90.85 L 798.32 -88.47 L 798.34 -86.08 L 798.35 -83.7 L 798.35 -83.7 L 798.35 -83.7 L 798.36 -86.08 L 798.38 -88.47 L 798.4 -90.85 L 798.44 -93.23 L 798.48 -95.62 L 798.53 -98 L 798.6 -100.38 L 798.68 -102.77 L 798.76 -105.15 L 798.84 -107.54 L 798.92 -109.92 L 799 -112.3 L 799.08 -114.69 L 799.2 -117.07 L 799.36 -119.45 L 799.74 -121.84 L 800.13 -124.22 L 800.24 -126.61 L 800.17 -128.99 L 800.07 -131.37 L 799.97 -133.76 L 799.82 -136.14 L 799.67 -138.52 L 799.56 -140.91 L 799.53 -143.29 L 799.53 -145.68 L 799.53 -148.06 L 799.53 -150.44 L 799.53 -152.83 L 799.53 -155.21 L 799.53 -157.59 L 799.53 -159.98 L 799.56 -162.36 L 799.79 -164.75 L 800.22 -167.13 L 800.81 -169.51 L 801.65 -171.9 L 803.45 -174.28 L 805.62 -176.66 L 807.44 -179.05 L 809.2 -181.43 L 810.75 -183.81 L 811.9 -186.2 L 812.95 -188.58 L 813.64 -190.97 L 813.74 -193.35 L 813.74 -195.73 L 813.74 -198.12 L 813.56 -200.5 L 812.52 -202.88 L 811.1 -205.27 L 809.96 -207.65 L 809.55 -210.04 L 809.3 -212.42 L 809.11 -214.8 L 809.01 -217.19 L 809.04 -219.57 L 809.24 -221.95 L 809.56 -224.34 L 810.02 -226.72 L 810.86 -229.11 L 812.04 -231.49 L 813.82 -233.87 L 816.51 -236.26 L 818.48 -238.64 L 820.06 -241.02 L 820.02 -243.41 L 817.94 -245.79 L 816.25 -248.18 L 814.75 -250.56 L 813.29 -252.94 L 811.84 -255.33 L 810.31 -257.71 L 808.7 -260.09 L 807.14 -262.48 L 805.78 -264.86 L 804.68 -267.24 L 803.66 -269.63 L 802.73 -272.01 L 801.94 -274.4 L 801.32 -276.78 L 800.84 -279.16 L 800.42 -281.55 L 800.07 -283.93 L 799.78 -286.31 L 799.57 -288.7 L 799.42 -291.08 L 799.31 -293.47 L 799.21 -295.85 L 799.12 -298.23 L 799.05 -300.62 L 798.98 -303 L 798.91 -305.38 L 798.83 -307.77 L 798.75 -310.15 L 798.66 -312.54 L 798.57 -314.92 L 798.51 -317.3 L 798.47 -319.69 L 798.45 -322.07 L 798.44 -324.45 L 798.43 -326.84 L 798.42 -329.22 L 798.41 -331.61 L 798.4 -333.99 L 798.39 -336.37 L 798.39 -338.76 L 798.38 -341.14 L 798.37 -343.52 L 798.37 -345.91 L 798.36 -348.29 L 798.36 -350.67 L 798.36 -353.06 L 798.35 -355.44 L 798.35 -357.83 L 798.35 -360.21 L 798.35 -362.59 L 798.35 -364.98 L 798.35 -367.36 z "/></defs><g clip-path="url(#p0bbaf6294c)"><use href="#mdb1934cbc0" x="0" y="893.485714" style="fill: #1f77b4; fill-opacity: 0.7"/></g></g><g id="FillBetweenPolyCollection_6"><defs><path id="m8f2947b1dd" d="M 854.24 -368.31 L 854.24 -368.31 L 854.13 -365.92 L 854.01 -363.53 L 853.89 -361.14 L 853.76 -358.75 L 853.63 -356.36 L 853.48 -353.97 L 853.34 -351.58 L 853.19 -349.19 L 853.04 -346.8 L 852.88 -344.41 L 852.72 -342.02 L 852.54 -339.63 L 852.35 -337.24 L 852.15 -334.85 L 851.93 -332.46 L 851.69 -330.07 L 851.42 -327.68 L 851.13 -325.29 L 850.81 -322.9 L 850.47 -320.51 L 850.1 -318.12 L 849.71 -315.74 L 849.3 -313.35 L 848.86 -310.96 L 848.4 -308.57 L 847.89 -306.18 L 847.3 -303.79 L 846.65 -301.4 L 845.95 -299.01 L 845.2 -296.62 L 844.42 -294.23 L 843.63 -291.84 L 842.83 -289.45 L 842.04 -287.06 L 841.27 -284.67 L 840.5 -282.28 L 839.69 -279.89 L 838.86 -277.5 L 838.03 -275.11 L 837.23 -272.72 L 836.47 -270.33 L 835.78 -267.94 L 835.12 -265.55 L 834.5 -263.16 L 833.91 -260.77 L 833.38 -258.38 L 832.91 -255.99 L 832.45 -253.6 L 832.22 -251.21 L 832.35 -248.82 L 832.67 -246.43 L 833.06 -244.04 L 833.43 -241.65 L 833.77 -239.27 L 834.13 -236.88 L 834.5 -234.49 L 834.9 -232.1 L 835.35 -229.71 L 835.84 -227.32 L 836.45 -224.93 L 837.16 -222.54 L 837.93 -220.15 L 838.72 -217.76 L 839.48 -215.37 L 840.16 -212.98 L 840.81 -210.59 L 841.45 -208.2 L 842.07 -205.81 L 842.66 -203.42 L 843.2 -201.03 L 843.7 -198.64 L 844.17 -196.25 L 844.61 -193.86 L 845.04 -191.47 L 845.44 -189.08 L 845.83 -186.69 L 846.2 -184.3 L 846.56 -181.91 L 846.91 -179.52 L 847.24 -177.13 L 847.57 -174.74 L 847.88 -172.35 L 848.18 -169.96 L 848.47 -167.57 L 848.75 -165.18 L 849.03 -162.8 L 849.3 -160.41 L 849.56 -158.02 L 849.83 -155.63 L 850.09 -153.24 L 850.35 -150.85 L 850.62 -148.46 L 850.89 -146.07 L 851.15 -143.68 L 851.4 -141.29 L 851.64 -138.9 L 851.87 -136.51 L 852.08 -134.12 L 852.26 -131.73 L 852.42 -129.34 L 852.57 -126.95 L 852.71 -124.56 L 852.84 -122.17 L 852.97 -119.78 L 853.08 -117.39 L 853.19 -115 L 853.3 -112.61 L 853.4 -110.22 L 853.49 -107.83 L 853.58 -105.44 L 853.67 -103.05 L 853.75 -100.66 L 853.84 -98.27 L 853.91 -95.88 L 853.99 -93.49 L 854.06 -91.1 L 854.12 -88.71 L 854.18 -86.33 L 854.24 -83.94 L 854.24 -83.94 L 854.24 -83.94 L 854.29 -86.33 L 854.35 -88.71 L 854.42 -91.1 L 854.48 -93.49 L 854.56 -95.88 L 854.64 -98.27 L 854.72 -100.66 L 854.8 -103.05 L 854.89 -105.44 L 854.98 -107.83 L 855.08 -110.22 L 855.18 -112.61 L 855.28 -115 L 855.39 -117.39 L 855.51 -119.78 L 855.63 -122.17 L 855.76 -124.56 L 855.9 -126.95 L 856.05 -129.34 L 856.21 -131.73 L 856.4 -134.12 L 856.6 -136.51 L 856.83 -138.9 L 857.07 -141.29 L 857.32 -143.68 L 857.59 -146.07 L 857.85 -148.46 L 858.12 -150.85 L 858.39 -153.24 L 858.65 -155.63 L 858.91 -158.02 L 859.18 -160.41 L 859.45 -162.8 L 859.72 -165.18 L 860 -167.57 L 860.29 -169.96 L 860.59 -172.35 L 860.91 -174.74 L 861.23 -177.13 L 861.56 -179.52 L 861.91 -181.91 L 862.27 -184.3 L 862.64 -186.69 L 863.03 -189.08 L 863.43 -191.47 L 863.86 -193.86 L 864.3 -196.25 L 864.77 -198.64 L 865.27 -201.03 L 865.82 -203.42 L 866.41 -205.81 L 867.02 -208.2 L 867.66 -210.59 L 868.31 -212.98 L 869 -215.37 L 869.76 -217.76 L 870.54 -220.15 L 871.32 -222.54 L 872.03 -224.93 L 872.63 -227.32 L 873.12 -229.71 L 873.57 -232.1 L 873.97 -234.49 L 874.35 -236.88 L 874.7 -239.27 L 875.04 -241.65 L 875.41 -244.04 L 875.81 -246.43 L 876.12 -248.82 L 876.26 -251.21 L 876.03 -253.6 L 875.56 -255.99 L 875.1 -258.38 L 874.56 -260.77 L 873.98 -263.16 L 873.35 -265.55 L 872.7 -267.94 L 872 -270.33 L 871.24 -272.72 L 870.44 -275.11 L 869.61 -277.5 L 868.79 -279.89 L 867.98 -282.28 L 867.2 -284.67 L 866.43 -287.06 L 865.64 -289.45 L 864.85 -291.84 L 864.05 -294.23 L 863.28 -296.62 L 862.53 -299.01 L 861.82 -301.4 L 861.17 -303.79 L 860.58 -306.18 L 860.08 -308.57 L 859.61 -310.96 L 859.18 -313.35 L 858.76 -315.74 L 858.37 -318.12 L 858 -320.51 L 857.66 -322.9 L 857.35 -325.29 L 857.05 -327.68 L 856.79 -330.07 L 856.54 -332.46 L 856.32 -334.85 L 856.12 -337.24 L 855.93 -339.63 L 855.76 -342.02 L 855.59 -344.41 L 855.44 -346.8 L 855.28 -349.19 L 855.13 -351.58 L 854.99 -353.97 L 854.85 -356.36 L 854.71 -358.75 L 854.58 -361.14 L 854.46 -363.53 L 854.35 -365.92 L 854.24 -368.31 z "/></defs><g clip-path="url(#p0bbaf6294c)"><use href="#m8f2947b1dd" x="0" y="893.485714" style="fill: #1f77b4; fill-opacity: 0.7"/></g></g><g id="patch_83"><path d="M 536.23 824.64 L 536.23 511.13 " style="fill: none; stroke: #000000; stroke-width: 1.25; stroke-linejoin: miter; stroke-linecap: square"/></g><g id="patch_84"><path d="M 536.23 824.64 L 892.8 824.64 " style="fill: none; stroke: #000000; stroke-width: 1.25; stroke-linejoin: miter; stroke-linecap: square"/></g><g id="LineCollection_4"><path d="M 574.79 807.91 L 574.79 524.91 " clip-path="url(#p0bbaf6294c)" style="fill: none; stroke: #1f77b4; stroke-width: 1.5"/></g><g id="LineCollection_5"><path d="M 563.61 524.91 L 585.97 524.91 " clip-path="url(#p0bbaf6294c)" style="fill: none; stroke: #1f77b4; stroke-width: 1.5"/><path d="M 563.61 807.91 L 585.97 807.91 " clip-path="url(#p0bbaf6294c)" style="fill: none; stroke: #1f77b4; stroke-width: 1.5"/></g><g id="LineCollection_6"><path d="M 563.61 670.16 L 585.97 670.16 " clip-path="url(#p0bbaf6294c)" style="fill: none; stroke: #1f77b4; stroke-width: 1.5"/></g><g id="LineCollection_7"><path d="M 630.68 809.76 L 630.68 524.91 " clip-path="url(#p0bbaf6294c)" style="fill: none; stroke: #1f77b4; stroke-width: 1.5"/></g><g id="LineCollection_8"><path d="M 619.5 524.91 L 641.86 524.91 " clip-path="url(#p0bbaf6294c)" style="fill: none; stroke: #1f77b4; stroke-width: 1.5"/><path d="M 619.5 809.76 L 641.86 809.76 " clip-path="url(#p0bbaf6294c)" style="fill: none; stroke: #1f77b4; stroke-width: 1.5"/></g><g id="LineCollection_9"><path d="M 619.5 663.97 L 641.86 663.97 " clip-path="url(#p0bbaf6294c)" style="fill: none; stroke: #1f77b4; stroke-width: 1.5"/></g><g id="LineCollection_10"><path d="M 686.57 809.76 L 686.57 524.91 " clip-path="url(#p0bbaf6294c)" style="fill: none; stroke: #1f77b4; stroke-width: 1.5"/></g><g id="LineCollection_11"><path d="M 675.39 524.91 L 697.75 524.91 " clip-path="url(#p0bbaf6294c)" style="fill: none; stroke: #1f77b4; stroke-width: 1.5"/><path d="M 675.39 809.76 L 697.75 809.76 " clip-path="url(#p0bbaf6294c)" style="fill: none; stroke: #1f77b4; stroke-width: 1.5"/></g><g id="LineCollection_12"><path d="M 675.39 659.06 L 697.75 659.06 " clip-path="url(#p0bbaf6294c)" style="fill: none; stroke: #1f77b4; stroke-width: 1.5"/></g><g id="LineCollection_13"><path d="M 742.46 809.76 L 742.46 526.63 " clip-path="url(#p0bbaf6294c)" style="fill: none; stroke: #1f77b4; stroke-width: 1.5"/></g><g id="LineCollection_14"><path d="M 731.28 526.63 L 753.64 526.63 " clip-path="url(#p0bbaf6294c)" style="fill: none; stroke: #1f77b4; stroke-width: 1.5"/><path d="M 731.28 809.76 L 753.64 809.76 " clip-path="url(#p0bbaf6294c)" style="fill: none; stroke: #1f77b4; stroke-width: 1.5"/></g><g id="LineCollection_15"><path d="M 731.28 673.03 L 753.64 673.03 " clip-path="url(#p0bbaf6294c)" style="fill: none; stroke: #1f77b4; stroke-width: 1.5"/></g><g id="LineCollection_16"><path d="M 798.35 809.76 L 798.35 526.15 " clip-path="url(#p0bbaf6294c)" style="fill: none; stroke: #1f77b4; stroke-width: 1.5"/></g><g id="LineCollection_17"><path d="M 787.17 526.15 L 809.53 526.15 " clip-path="url(#p0bbaf6294c)" style="fill: none; stroke: #1f77b4; stroke-width: 1.5"/><path d="M 787.17 809.76 L 809.53 809.76 " clip-path="url(#p0bbaf6294c)" style="fill: none; stroke: #1f77b4; stroke-width: 1.5"/></g><g id="LineCollection_18"><path d="M 787.17 672.57 L 809.53 672.57 " clip-path="url(#p0bbaf6294c)" style="fill: none; stroke: #1f77b4; stroke-width: 1.5"/></g><g id="LineCollection_19"><path d="M 854.24 809.55 L 854.24 525.19 " clip-path="url(#p0bbaf6294c)" style="fill: none; stroke: #1f77b4; stroke-width: 1.5"/></g><g id="LineCollection_20"><path d="M 843.06 525.19 L 865.41 525.19 " clip-path="url(#p0bbaf6294c)" style="fill: none; stroke: #1f77b4; stroke-width: 1.5"/><path d="M 843.06 809.55 L 865.41 809.55 " clip-path="url(#p0bbaf6294c)" style="fill: none; stroke: #1f77b4; stroke-width: 1.5"/></g><g id="LineCollection_21"><path d="M 843.06 661.38 L 865.41 661.38 " clip-path="url(#p0bbaf6294c)" style="fill: none; stroke: #1f77b4; stroke-width: 1.5"/></g><g id="text_103"><g transform="translate(628.624286 490.491429)"><text xml:space="preserve"><tspan x="0.00" y="-0.86" style="font-weight: 700; font-size: 14px; font-family: 'Liberation Sans', sans-serif">Ring Count vs </tspan><tspan x="98.77" y="-0.86" style="font-style: italic; font-size: 14px; font-family: 'Liberation Sans', sans-serif">T</tspan><tspan x="107.32" y="3.32" style="font-size: 9.8px; font-family: 'Liberation Sans', sans-serif">1</tspan><tspan x="113.47" y="-0.86" style="font-size: 14px; font-family: 'Liberation Sans', sans-serif">/</tspan><tspan x="117.36" y="-0.86" style="font-style: italic; font-size: 14px; font-family: 'Liberation Sans', sans-serif">S</tspan><tspan x="126.70" y="3.32" style="font-size: 9.8px; font-family: 'Liberation Sans', sans-serif">1</tspan><tspan x="132.85" y="-0.86" style="font-weight: 700; font-size: 14px; font-family: 'Liberation Sans', sans-serif"> Ratio</tspan></text></g></g></g><g id="axes_9"><g id="patch_85"><path d="M 1034.95 824.64 L 1391.31 824.64 L 1391.31 511.13 L 1034.95 511.13 z " style="fill: #ffffff"/></g><g id="matplotlib.axis_17"><g id="xtick_33"><g id="line2d_152"><g><use href="#me52e4beeaa" x="1064.370231" y="824.64" style="stroke: #000000; stroke-width: 1.2"/></g></g><g id="text_104"><text style="font-size: 10.7px; font-family: 'Liberation Sans', sans-serif" transform="translate(1032.933324 868.039969) rotate(-45)">Benzene</text></g></g><g id="xtick_34"><g id="line2d_153"><g><use href="#me52e4beeaa" x="1097.428275" y="824.64" style="stroke: #000000; stroke-width: 1.2"/></g></g><g id="text_105"><text style="font-size: 10.7px; font-family: 'Liberation Sans', sans-serif" transform="translate(1065.581146 868.450191) rotate(-45)">Carbonyl</text></g></g><g id="xtick_35"><g id="line2d_154"><g><use href="#me52e4beeaa" x="1130.486319" y="824.64" style="stroke: #000000; stroke-width: 1.2"/></g></g><g id="text_106"><text style="font-size: 10.7px; font-family: 'Liberation Sans', sans-serif" transform="translate(1099.488006 867.601375) rotate(-45)">Hydroxyl</text></g></g><g id="xtick_36"><g id="line2d_155"><g><use href="#me52e4beeaa" x="1163.544363" y="824.64" style="stroke: #000000; stroke-width: 1.2"/></g></g><g id="text_107"><text style="font-size: 10.7px; font-family: 'Liberation Sans', sans-serif" transform="translate(1140.529407 859.618018) rotate(-45)">Amine</text></g></g><g id="xtick_37"><g id="line2d_156"><g><use href="#me52e4beeaa" x="1196.602407" y="824.64" style="stroke: #000000; stroke-width: 1.2"/></g></g><g id="text_108"><text style="font-size: 10.7px; font-family: 'Liberation Sans', sans-serif" transform="translate(1179.058645 854.146824) rotate(-45)">Nitro</text></g></g><g id="xtick_38"><g id="line2d_157"><g><use href="#me52e4beeaa" x="1229.660451" y="824.64" style="stroke: #000000; stroke-width: 1.2"/></g></g><g id="text_109"><text style="font-size: 10.7px; font-family: 'Liberation Sans', sans-serif" transform="translate(1210.432063 855.83145) rotate(-45)">Ester</text></g></g><g id="xtick_39"><g id="line2d_158"><g><use href="#me52e4beeaa" x="1262.718495" y="824.64" style="stroke: #000000; stroke-width: 1.2"/></g></g><g id="text_110"><text style="font-size: 10.7px; font-family: 'Liberation Sans', sans-serif" transform="translate(1243.065699 856.255858) rotate(-45)">Ether</text></g></g><g id="xtick_40"><g id="line2d_159"><g><use href="#me52e4beeaa" x="1295.776539" y="824.64" style="stroke: #000000; stroke-width: 1.2"/></g></g><g id="text_111"><text style="font-size: 10.7px; font-family: 'Liberation Sans', sans-serif" transform="translate(1266.024258 866.355343) rotate(-45)">Halogen</text></g></g><g id="xtick_41"><g id="line2d_160"><g><use href="#me52e4beeaa" x="1328.834583" y="824.64" style="stroke: #000000; stroke-width: 1.2"/></g></g><g id="text_112"><text style="font-size: 10.7px; font-family: 'Liberation Sans', sans-serif" transform="translate(1291.510349 873.927296) rotate(-45)">Thiophene</text></g></g><g id="xtick_42"><g id="line2d_161"><g><use href="#me52e4beeaa" x="1361.892627" y="824.64" style="stroke: #000000; stroke-width: 1.2"/></g></g><g id="text_113"><text style="font-size: 10.7px; font-family: 'Liberation Sans', sans-serif" transform="translate(1332.989162 865.506527) rotate(-45)">Pyridine</text></g></g><g id="text_114"><text style="font-weight: 700; font-size: 13px; font-family: 'Liberation Sans', sans-serif; text-anchor: middle" x="1213.131429" y="888.918188" transform="rotate(-0 1213.131429 888.918188)">Functional Groups</text></g></g><g id="matplotlib.axis_18"><g id="ytick_51"><g id="line2d_162"><path d="M 1034.95 824.64 L 1391.31 824.64 " clip-path="url(#p8674e55b4d)" style="fill: none; stroke: #b0b0b0; stroke-opacity: 0.3; stroke-width: 0.8; stroke-linecap: square"/></g><g id="line2d_163"><g><use href="#m4d9286fa7c" x="1034.948571" y="824.64" style="stroke: #000000; stroke-width: 1.2"/></g></g><g id="text_115"><text style="font-size: 12px; font-family: 'Liberation Sans', sans-serif; text-anchor: end" x="1027.948571" y="828.988125" transform="rotate(-0 1027.948571 828.988125)">0.0</text></g></g><g id="ytick_52"><g id="line2d_164"><path d="M 1034.95 767.05 L 1391.31 767.05 " clip-path="url(#p8674e55b4d)" style="fill: none; stroke: #b0b0b0; stroke-opacity: 0.3; stroke-width: 0.8; stroke-linecap: square"/></g><g id="line2d_165"><g><use href="#m4d9286fa7c" x="1034.948571" y="767.052092" style="stroke: #000000; stroke-width: 1.2"/></g></g><g id="text_116"><text style="font-size: 12px; font-family: 'Liberation Sans', sans-serif; text-anchor: end" x="1027.948571" y="771.400217" transform="rotate(-0 1027.948571 771.400217)">0.5</text></g></g><g id="ytick_53"><g id="line2d_166"><path d="M 1034.95 709.46 L 1391.31 709.46 " clip-path="url(#p8674e55b4d)" style="fill: none; stroke: #b0b0b0; stroke-opacity: 0.3; stroke-width: 0.8; stroke-linecap: square"/></g><g id="line2d_167"><g><use href="#m4d9286fa7c" x="1034.948571" y="709.464184" style="stroke: #000000; stroke-width: 1.2"/></g></g><g id="text_117"><text style="font-size: 12px; font-family: 'Liberation Sans', sans-serif; text-anchor: end" x="1027.948571" y="713.812309" transform="rotate(-0 1027.948571 713.812309)">1.0</text></g></g><g id="ytick_54"><g id="line2d_168"><path d="M 1034.95 651.88 L 1391.31 651.88 " clip-path="url(#p8674e55b4d)" style="fill: none; stroke: #b0b0b0; stroke-opacity: 0.3; stroke-width: 0.8; stroke-linecap: square"/></g><g id="line2d_169"><g><use href="#m4d9286fa7c" x="1034.948571" y="651.876276" style="stroke: #000000; stroke-width: 1.2"/></g></g><g id="text_118"><text style="font-size: 12px; font-family: 'Liberation Sans', sans-serif; text-anchor: end" x="1027.948571" y="656.224401" transform="rotate(-0 1027.948571 656.224401)">1.5</text></g></g><g id="ytick_55"><g id="line2d_170"><path d="M 1034.95 594.29 L 1391.31 594.29 " clip-path="url(#p8674e55b4d)" style="fill: none; stroke: #b0b0b0; stroke-opacity: 0.3; stroke-width: 0.8; stroke-linecap: square"/></g><g id="line2d_171"><g><use href="#m4d9286fa7c" x="1034.948571" y="594.288368" style="stroke: #000000; stroke-width: 1.2"/></g></g><g id="text_119"><text style="font-size: 12px; font-family: 'Liberation Sans', sans-serif; text-anchor: end" x="1027.948571" y="598.636493" transform="rotate(-0 1027.948571 598.636493)">2.0</text></g></g><g id="ytick_56"><g id="line2d_172"><path d="M 1034.95 536.7 L 1391.31 536.7 " clip-path="url(#p8674e55b4d)" style="fill: none; stroke: #b0b0b0; stroke-opacity: 0.3; stroke-width: 0.8; stroke-linecap: square"/></g><g id="line2d_173"><g><use href="#m4d9286fa7c" x="1034.948571" y="536.70046" style="stroke: #000000; stroke-width: 1.2"/></g></g><g id="text_120"><text style="font-size: 12px; font-family: 'Liberation Sans', sans-serif; text-anchor: end" x="1027.948571" y="541.048585" transform="rotate(-0 1027.948571 541.048585)">2.5</text></g></g><g id="text_121"><text style="font-weight: 700; font-size: 13px; font-family: 'Liberation Sans', sans-serif; text-anchor: middle" x="1004.571071" y="667.885714" transform="rotate(-90 1004.571071 667.885714)">Frequency</text></g><g id="text_122"><text style="font-size: 11.5px; font-family: 'Liberation Sans', sans-serif; text-anchor: start" x="1034.948571" y="508.131429" transform="rotate(-0 1034.948571 508.131429)">1e6</text></g></g><g id="patch_86"><path d="M 1051.15 824.64 L 1077.59 824.64 L 1077.59 704.4 L 1051.15 704.4 z " clip-path="url(#p8674e55b4d)" style="fill: #1f77b4"/></g><g id="patch_87"><path d="M 1084.21 824.64 L 1110.65 824.64 L 1110.65 792.85 L 1084.21 792.85 z " clip-path="url(#p8674e55b4d)" style="fill: #ff7f0e"/></g><g id="patch_88"><path d="M 1117.26 824.64 L 1143.71 824.64 L 1143.71 803.68 L 1117.26 803.68 z " clip-path="url(#p8674e55b4d)" style="fill: #2ca02c"/></g><g id="patch_89"><path d="M 1150.32 824.64 L 1176.77 824.64 L 1176.77 811.16 L 1150.32 811.16 z " clip-path="url(#p8674e55b4d)" style="fill: #d62728"/></g><g id="patch_90"><path d="M 1183.38 824.64 L 1209.83 824.64 L 1209.83 818.07 L 1183.38 818.07 z " clip-path="url(#p8674e55b4d)" style="fill: #9467bd"/></g><g id="patch_91"><path d="M 1216.44 824.64 L 1242.88 824.64 L 1242.88 820.49 L 1216.44 820.49 z " clip-path="url(#p8674e55b4d)" style="fill: #8c564b"/></g><g id="patch_92"><path d="M 1249.5 824.64 L 1275.94 824.64 L 1275.94 805.87 L 1249.5 805.87 z " clip-path="url(#p8674e55b4d)" style="fill: #e377c2"/></g><g id="patch_93"><path d="M 1282.55 824.64 L 1309 824.64 L 1309 525.99 L 1282.55 525.99 z " clip-path="url(#p8674e55b4d)" style="fill: #7f7f7f"/></g><g id="patch_94"><path d="M 1315.61 824.64 L 1342.06 824.64 L 1342.06 814.85 L 1315.61 814.85 z " clip-path="url(#p8674e55b4d)" style="fill: #bcbd22"/></g><g id="patch_95"><path d="M 1348.67 824.64 L 1375.12 824.64 L 1375.12 799.19 L 1348.67 799.19 z " clip-path="url(#p8674e55b4d)" style="fill: #17becf"/></g><g id="patch_96"><path d="M 1034.95 824.64 L 1034.95 511.13 " style="fill: none; stroke: #000000; stroke-width: 1.25; stroke-linejoin: miter; stroke-linecap: square"/></g><g id="patch_97"><path d="M 1034.95 824.64 L 1391.31 824.64 " style="fill: none; stroke: #000000; stroke-width: 1.25; stroke-linejoin: miter; stroke-linecap: square"/></g><g id="text_123"><text style="font-weight: 700; font-size: 14px; font-family: 'Liberation Sans', sans-serif; text-anchor: middle" x="1213.131429" y="488.881429" transform="rotate(-0 1213.131429 488.881429)">Functional Group Distribution</text></g></g></g><defs><clipPath id="pece15efcf1"><rect x="37.92" y="40.731429" width="285.462857" height="313.371429"/></clipPath><clipPath id="p14ee486469"><rect x="536.228571" y="40.731429" width="356.571429" height="313.371429"/></clipPath><clipPath id="pe85ff628f5"><rect x="1034.948571" y="40.731429" width="285.12" height="313.371429"/></clipPath><clipPath id="pe6bf9d81a1"><rect x="37.92" y="511.131429" width="285.462857" height="313.508571"/></clipPath><clipPath id="p0bbaf6294c"><rect x="536.228571" y="511.131429" width="356.571429" height="313.508571"/></clipPath><clipPath id="p8674e55b4d"><rect x="1034.948571" y="511.131429" width="356.365714" height="313.508571"/></clipPath></defs><g transform="scale(0.68571429)"><text transform="scale(1.1780 1)" x="1.22" y="25.26" style="font-weight:700;font-size:30.31px;font-family:'Liberation Sans',sans-serif;stroke:#000;stroke-width:0.70;stroke-linejoin:round">(a)</text><text transform="scale(1.1240 1)" x="625.19" y="24.33" style="font-weight:700;font-size:30.47px;font-family:'Liberation Sans',sans-serif;stroke:#000;stroke-width:0.70;stroke-linejoin:round">(b)</text><text transform="scale(1.1829 1)" x="1213.22" y="24.27" style="font-weight:700;font-size:30.25px;font-family:'Liberation Sans',sans-serif;stroke:#000;stroke-width:0.70;stroke-linejoin:round">(c)</text><text transform="scale(1.1183 1)" x="1.47" y="703.35" style="font-weight:700;font-size:30.36px;font-family:'Liberation Sans',sans-serif;stroke:#000;stroke-width:0.70;stroke-linejoin:round">(d)</text><text transform="scale(1.1899 1)" x="589.13" y="703.20" style="font-weight:700;font-size:30.14px;font-family:'Liberation Sans',sans-serif;stroke:#000;stroke-width:0.70;stroke-linejoin:round">(e)</text><text transform="scale(1.1494 1)" x="1253.62" y="705.03" style="font-weight:700;font-size:30.47px;font-family:'Liberation Sans',sans-serif;stroke:#000;stroke-width:0.70;stroke-linejoin:round">(f)</text><path d="M1669 516.4H1843" stroke="#1e168a" stroke-width="1.8"/></g></svg> </body></html>
